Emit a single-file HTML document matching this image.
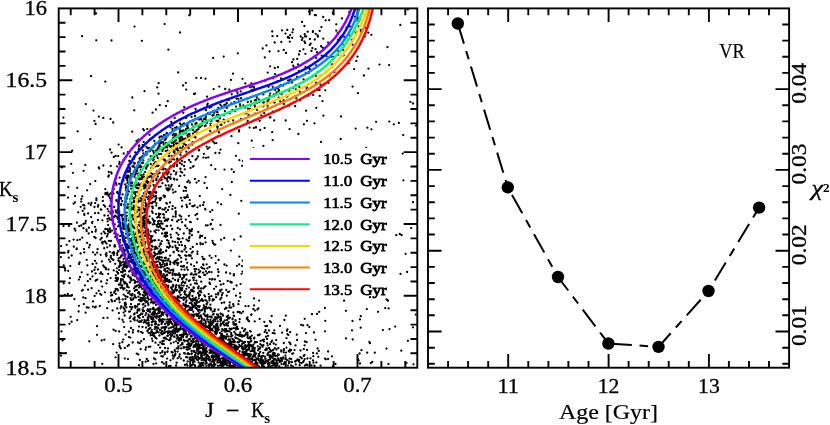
<!DOCTYPE html><html><head><meta charset="utf-8"><title>CMD</title><style>html,body{margin:0;padding:0;background:#fff}svg{display:block;will-change:transform;opacity:0.999}text{font-family:"Liberation Serif",serif;fill:#000}</style></head><body>
<svg width="830" height="425" viewBox="0 0 830 425">
<rect width="830" height="425" fill="#fff"/>
<defs><clipPath id="cl"><rect x="58.7" y="8.4" width="358.6" height="359.3"/></clipPath></defs>
<path d="M70.7,367.7v-6.8M70.7,8.4v6.8M94.6,367.7v-6.8M94.6,8.4v6.8M118.5,367.7v-13.6M118.5,8.4v13.6M142.4,367.7v-6.8M142.4,8.4v6.8M166.3,367.7v-6.8M166.3,8.4v6.8M190.2,367.7v-6.8M190.2,8.4v6.8M214.1,367.7v-6.8M214.1,8.4v6.8M238.0,367.7v-13.6M238.0,8.4v13.6M261.9,367.7v-6.8M261.9,8.4v6.8M285.8,367.7v-6.8M285.8,8.4v6.8M309.7,367.7v-6.8M309.7,8.4v6.8M333.6,367.7v-6.8M333.6,8.4v6.8M357.5,367.7v-13.6M357.5,8.4v13.6M381.4,367.7v-6.8M381.4,8.4v6.8M405.3,367.7v-6.8M405.3,8.4v6.8M58.7,22.8h6.8M417.3,22.8h-6.8M58.7,37.1h6.8M417.3,37.1h-6.8M58.7,51.5h6.8M417.3,51.5h-6.8M58.7,65.9h6.8M417.3,65.9h-6.8M58.7,80.3h13.6M417.3,80.3h-13.6M58.7,94.6h6.8M417.3,94.6h-6.8M58.7,109.0h6.8M417.3,109.0h-6.8M58.7,123.4h6.8M417.3,123.4h-6.8M58.7,137.7h6.8M417.3,137.7h-6.8M58.7,152.1h13.6M417.3,152.1h-13.6M58.7,166.5h6.8M417.3,166.5h-6.8M58.7,180.9h6.8M417.3,180.9h-6.8M58.7,195.2h6.8M417.3,195.2h-6.8M58.7,209.6h6.8M417.3,209.6h-6.8M58.7,224.0h13.6M417.3,224.0h-13.6M58.7,238.4h6.8M417.3,238.4h-6.8M58.7,252.7h6.8M417.3,252.7h-6.8M58.7,267.1h6.8M417.3,267.1h-6.8M58.7,281.5h6.8M417.3,281.5h-6.8M58.7,295.8h13.6M417.3,295.8h-13.6M58.7,310.2h6.8M417.3,310.2h-6.8M58.7,324.6h6.8M417.3,324.6h-6.8M58.7,339.0h6.8M417.3,339.0h-6.8M58.7,353.3h6.8M417.3,353.3h-6.8" stroke="#000" stroke-width="1.9" fill="none"/>
<path clip-path="url(#cl)" d="M166.8,233.5h0M209.7,279.1h0M352.1,39.9h0M198.8,302.1h0M155.2,262.4h0M272.7,250.1h0M170.6,234.7h0M162.5,308.1h0M235.6,320.8h0M202.9,341.7h0M221.6,347.1h0M148.1,237.0h0M140.5,209.5h0M165.5,338.5h0M221.8,106.5h0M257.1,109.9h0M222.1,339.1h0M151.6,314.4h0M216.7,345.0h0M200.8,323.8h0M152.8,321.8h0M100.6,254.8h0M321.8,75.3h0M133.4,219.1h0M280.2,361.6h0M128.7,228.6h0M200.6,290.8h0M343.5,44.8h0M91.4,203.0h0M106.5,253.1h0M155.1,327.0h0M220.4,346.2h0M298.7,360.9h0M206.7,146.7h0M184.4,324.8h0M182.6,344.1h0M145.1,285.1h0M207.9,340.7h0M160.2,140.1h0M136.0,289.9h0M194.6,269.1h0M95.2,203.1h0M176.3,298.9h0M229.9,342.2h0M251.3,341.0h0M200.4,352.7h0M124.8,358.6h0M148.9,196.5h0M226.1,307.6h0M114.4,246.6h0M176.5,300.4h0M134.8,163.5h0M129.0,220.5h0M217.3,359.3h0M123.4,264.8h0M229.0,355.9h0M164.8,196.0h0M211.1,342.1h0M154.5,192.2h0M145.8,206.7h0M205.5,332.1h0M142.8,226.0h0M172.6,352.5h0M202.5,338.3h0M215.9,294.4h0M119.2,318.7h0M108.9,240.9h0M223.7,119.7h0M193.9,314.5h0M186.9,336.8h0M123.8,276.2h0M281.1,78.5h0M151.0,294.2h0M260.2,129.9h0M131.0,176.8h0M300.5,350.5h0M146.0,320.8h0M147.5,319.7h0M205.1,275.0h0M218.0,345.3h0M225.9,358.5h0M175.4,288.7h0M185.6,328.1h0M186.4,204.8h0M305.0,36.4h0M181.9,161.0h0M143.2,311.4h0M295.2,96.1h0M182.0,344.2h0M182.7,322.6h0M260.6,361.8h0M127.4,231.9h0M111.5,211.4h0M161.3,293.7h0M188.9,215.8h0M167.9,280.1h0M191.6,343.6h0M125.5,266.8h0M76.7,249.2h0M169.7,307.8h0M192.1,330.5h0M206.4,330.0h0M254.9,348.1h0M154.8,311.6h0M204.4,295.5h0M183.8,133.5h0M189.7,303.1h0M234.3,331.8h0M151.9,246.3h0M174.4,356.5h0M237.9,360.7h0M224.6,346.2h0M117.0,278.1h0M222.7,293.2h0M122.8,223.9h0M132.2,131.7h0M176.6,232.9h0M154.5,164.2h0M203.3,346.8h0M153.5,319.3h0M222.3,344.3h0M247.8,349.5h0M126.5,267.3h0M154.1,309.2h0M270.0,349.6h0M207.4,344.0h0M169.1,206.8h0M164.0,134.9h0M174.9,299.9h0M320.6,365.7h0M108.8,172.0h0M190.1,331.2h0M175.0,127.8h0M254.9,106.8h0M274.2,120.4h0M151.5,255.3h0M160.6,249.3h0M136.8,212.3h0M210.6,341.7h0M195.2,93.6h0M233.9,344.6h0M141.5,199.0h0M172.7,355.5h0M283.6,100.2h0M218.0,269.4h0M195.0,330.3h0M203.8,353.2h0M193.1,362.4h0M131.1,221.4h0M196.5,338.6h0M207.3,105.0h0M186.2,89.6h0M124.9,282.2h0M155.4,279.0h0M177.0,165.9h0M214.1,345.5h0M146.5,271.4h0M123.6,180.4h0M314.5,366.6h0M121.0,215.0h0M177.0,338.3h0M211.3,344.2h0M233.3,350.2h0M139.4,158.6h0M289.8,349.7h0M261.7,358.6h0M160.3,277.6h0M274.2,365.6h0M131.2,204.2h0M279.3,110.0h0M206.5,344.1h0M191.6,231.0h0M196.3,336.5h0M211.4,296.2h0M176.0,247.6h0M150.0,311.9h0M204.3,358.6h0M154.4,156.9h0M173.2,291.1h0M135.8,182.7h0M250.5,351.3h0M108.6,301.8h0M183.7,285.6h0M247.9,341.8h0M172.2,220.0h0M108.0,229.7h0M153.2,274.7h0M178.9,308.9h0M173.8,171.0h0M241.9,335.1h0M156.3,266.0h0M155.1,143.7h0M90.2,184.1h0M137.0,185.1h0M125.2,184.4h0M135.2,152.3h0M176.8,249.8h0M124.6,270.2h0M249.8,341.9h0M143.1,217.1h0M183.4,303.6h0M184.5,291.5h0M199.8,364.3h0M111.6,173.6h0M223.3,362.3h0M307.5,365.3h0M195.6,355.3h0M145.6,290.6h0M185.3,138.6h0M190.1,327.0h0M122.9,214.8h0M60.9,257.1h0M207.0,333.7h0M61.9,167.4h0M109.8,219.6h0M291.1,350.1h0M203.6,359.4h0M218.2,293.0h0M243.4,352.9h0M145.8,215.0h0M218.7,358.4h0M160.0,311.6h0M221.9,295.0h0M173.6,311.9h0M247.7,120.9h0M152.0,338.7h0M164.3,285.1h0M205.1,332.2h0M232.7,358.6h0M216.1,297.2h0M178.5,297.4h0M138.3,188.5h0M150.4,199.3h0M251.4,362.3h0M157.6,173.8h0M149.8,151.2h0M137.2,168.4h0M143.7,193.3h0M150.7,335.3h0M245.5,306.1h0M126.8,215.8h0M148.4,233.4h0M182.3,148.3h0M220.7,324.3h0M246.3,113.3h0M156.5,270.5h0M172.6,275.0h0M251.9,363.1h0M159.8,316.0h0M198.6,125.1h0M159.9,252.7h0M176.9,302.6h0M114.4,233.4h0M137.3,184.8h0M263.4,94.4h0M200.5,324.8h0M130.2,169.5h0M164.4,209.7h0M214.0,319.3h0M162.4,209.3h0M227.2,360.8h0M151.9,262.4h0M161.1,333.0h0M105.7,267.8h0M199.1,329.1h0M215.3,348.2h0M185.5,330.3h0M174.5,290.6h0M205.4,209.6h0M125.8,187.9h0M147.1,166.0h0M148.2,237.8h0M148.1,229.7h0M193.5,329.8h0M144.8,321.9h0M263.4,145.9h0M192.9,277.8h0M197.1,349.0h0M133.8,159.2h0M102.0,242.4h0M220.6,313.6h0M279.8,361.9h0M259.8,360.4h0M269.5,355.3h0M285.5,359.2h0M157.8,271.4h0M121.3,204.0h0M139.2,200.7h0M210.0,343.3h0M140.0,278.8h0M105.3,194.1h0M97.0,326.2h0M132.4,174.6h0M245.0,342.0h0M123.2,261.6h0M198.0,359.9h0M217.0,345.2h0M167.5,311.8h0M169.1,306.0h0M281.2,350.4h0M95.6,280.8h0M246.6,353.4h0M86.6,231.2h0M215.2,332.5h0M250.2,364.9h0M197.2,133.1h0M234.8,366.3h0M294.1,79.8h0M217.3,323.8h0M169.1,304.2h0M228.9,365.8h0M209.3,328.6h0M176.5,147.2h0M270.9,322.2h0M186.2,333.8h0M231.5,136.2h0M95.8,306.7h0M259.9,348.7h0M162.0,331.2h0M180.2,119.7h0M176.1,341.3h0M134.1,237.5h0M167.3,220.7h0M118.4,213.3h0M159.5,321.6h0M269.7,363.3h0M232.0,361.8h0M199.5,337.8h0M122.5,319.8h0M219.3,337.9h0M274.1,354.3h0M236.3,346.0h0M147.6,294.1h0M222.3,339.9h0M246.2,289.6h0M143.2,297.6h0M173.5,314.8h0M232.9,362.8h0M139.2,321.9h0M165.4,275.9h0M214.1,288.8h0M180.6,310.8h0M271.5,361.8h0M269.8,117.4h0M175.7,304.4h0M228.3,340.0h0M198.2,335.1h0M232.9,358.9h0M252.2,359.7h0M223.7,341.4h0M139.2,304.1h0M114.2,216.8h0M209.1,271.9h0M151.9,262.6h0M210.9,308.7h0M135.0,281.1h0M251.2,314.9h0M227.7,280.9h0M172.2,334.2h0M157.5,291.1h0M124.9,262.4h0M176.5,329.1h0M164.2,137.4h0M144.1,273.8h0M124.2,327.1h0M142.6,230.8h0M170.7,309.5h0M163.0,321.9h0M134.6,320.4h0M186.6,300.5h0M212.0,324.3h0M110.2,232.2h0M132.4,272.6h0M252.0,365.6h0M192.5,142.2h0M174.3,313.9h0M191.6,116.8h0M227.5,357.3h0M97.6,249.2h0M212.5,355.3h0M146.4,293.3h0M186.6,347.1h0M87.1,242.9h0M232.5,319.3h0M120.9,348.4h0M227.2,348.8h0M164.8,220.9h0M127.3,266.1h0M108.5,269.5h0M146.5,236.4h0M233.8,123.4h0M151.8,301.2h0M189.7,359.2h0M185.8,219.6h0M115.3,181.1h0M118.0,272.8h0M210.1,326.4h0M229.9,350.1h0M297.1,339.9h0M168.2,286.9h0M140.0,252.0h0M167.3,309.8h0M154.7,311.3h0M118.2,193.4h0M130.6,321.3h0M215.1,350.8h0M139.6,185.2h0M169.6,188.9h0M114.2,207.0h0M161.1,253.3h0M300.2,100.3h0M92.4,221.9h0M154.2,196.5h0M201.1,316.5h0M251.8,86.7h0M216.2,317.3h0M135.8,210.9h0M177.7,259.5h0M145.5,209.4h0M201.6,353.6h0M152.3,294.7h0M178.3,308.9h0M75.0,202.4h0M273.3,352.8h0M186.3,151.7h0M254.8,342.7h0M220.4,344.2h0M273.7,360.3h0M130.5,229.7h0M133.4,165.6h0M183.8,266.5h0M236.5,91.0h0M160.2,342.4h0M206.4,354.4h0M216.0,358.9h0M239.2,339.6h0M162.4,341.8h0M128.2,276.4h0M166.2,308.7h0M289.3,105.5h0M199.4,366.3h0M241.0,355.2h0M137.1,306.6h0M277.4,365.3h0M101.2,281.5h0M164.2,144.6h0M144.9,176.8h0M148.9,221.4h0M143.5,262.3h0M169.9,318.9h0M139.6,256.7h0M267.8,353.6h0M203.6,313.8h0M344.6,39.6h0M149.7,244.4h0M119.3,193.8h0M192.4,357.0h0M224.2,237.9h0M155.3,253.9h0M129.7,258.0h0M177.7,358.3h0M134.8,174.6h0M147.1,178.5h0M182.0,326.1h0M289.6,129.2h0M208.7,339.1h0M155.8,150.6h0M146.4,256.7h0M220.8,347.4h0M174.8,273.9h0M220.0,354.5h0M212.9,314.7h0M131.9,261.5h0M146.8,359.0h0M189.6,294.1h0M221.9,363.5h0M216.1,356.9h0M143.8,292.3h0M303.9,124.3h0M225.7,362.4h0M143.6,233.1h0M283.9,363.3h0M133.5,256.8h0M167.4,322.8h0M203.8,305.3h0M142.2,263.2h0M174.5,263.9h0M161.1,141.8h0M92.0,231.9h0M151.6,249.4h0M150.4,203.2h0M168.0,173.4h0M140.1,315.1h0M83.4,228.2h0M113.8,255.1h0M187.1,344.6h0M181.9,325.0h0M138.9,146.4h0M144.5,177.2h0M148.5,320.4h0M189.1,140.1h0M206.5,344.3h0M352.6,86.6h0M158.3,332.1h0M228.1,292.1h0M169.2,145.4h0M119.9,261.4h0M161.8,314.5h0M173.5,319.7h0M116.7,271.6h0M206.1,114.8h0M152.1,301.5h0M230.4,195.0h0M171.6,155.8h0M228.9,339.4h0M241.3,335.2h0M227.2,352.6h0M189.0,280.9h0M225.8,344.4h0M208.7,359.7h0M101.7,340.4h0M228.5,336.4h0M168.3,219.1h0M207.1,341.7h0M175.9,325.7h0M127.6,207.5h0M222.1,347.2h0M164.0,214.7h0M171.7,331.7h0M153.9,297.9h0M95.0,260.8h0M140.5,286.5h0M172.2,335.6h0M223.8,352.7h0M155.3,337.5h0M125.9,201.7h0M170.2,177.5h0M151.9,241.8h0M214.6,143.3h0M142.0,279.9h0M148.0,219.6h0M176.5,321.9h0M198.9,150.0h0M157.2,217.6h0M172.5,319.5h0M209.3,334.4h0M158.3,309.4h0M144.0,188.4h0M96.5,293.3h0M277.8,358.3h0M161.9,179.6h0M140.7,272.4h0M290.8,70.0h0M96.4,198.5h0M129.1,311.7h0M313.3,356.2h0M176.7,324.4h0M141.9,203.9h0M158.7,186.8h0M194.1,266.1h0M170.4,133.1h0M129.0,234.7h0M186.6,196.8h0M134.2,314.4h0M127.3,285.3h0M212.5,334.3h0M138.0,253.0h0M256.0,127.5h0M169.6,281.4h0M145.4,248.9h0M165.8,295.5h0M224.5,355.0h0M193.5,298.3h0M161.5,276.3h0M264.9,363.3h0M148.7,251.6h0M138.7,194.4h0M185.4,319.4h0M229.1,343.1h0M182.1,200.6h0M228.8,362.7h0M207.8,319.7h0M127.5,178.2h0M233.2,357.1h0M160.4,179.9h0M127.2,169.4h0M143.4,153.4h0M156.8,276.3h0M249.6,127.6h0M283.9,349.2h0M176.7,127.1h0M194.0,338.8h0M233.6,306.2h0M221.1,335.1h0M163.8,363.7h0M134.2,200.9h0M138.9,299.8h0M141.6,252.8h0M175.8,311.1h0M180.3,297.6h0M165.6,303.5h0M121.5,287.5h0M209.3,331.1h0M259.6,318.9h0M184.6,292.5h0M179.0,306.7h0M146.7,197.2h0M179.9,139.4h0M169.5,339.8h0M244.2,354.7h0M267.8,363.8h0M179.2,244.8h0M94.3,236.9h0M125.7,262.6h0M168.8,268.7h0M149.5,288.8h0M160.7,280.3h0M239.3,353.5h0M143.6,223.6h0M108.3,176.7h0M220.7,361.6h0M213.1,366.6h0M160.8,266.2h0M194.2,351.9h0M253.1,90.5h0M138.1,293.0h0M250.5,338.8h0M157.4,254.1h0M139.0,292.9h0M212.9,352.6h0M207.3,339.0h0M156.4,198.0h0M265.3,358.7h0M198.2,132.8h0M123.6,224.8h0M159.9,253.7h0M160.3,214.1h0M149.5,257.4h0M224.2,350.6h0M213.4,110.8h0M247.5,332.7h0M189.4,348.4h0M209.0,356.9h0M117.9,277.9h0M156.2,278.6h0M321.4,27.1h0M259.7,120.8h0M186.9,334.4h0M185.9,145.0h0M173.1,216.6h0M179.3,287.7h0M152.6,112.7h0M229.3,89.7h0M210.4,307.9h0M135.4,216.7h0M208.5,358.5h0M323.4,84.7h0M122.2,245.4h0M171.6,352.0h0M131.3,174.2h0M146.6,274.2h0M245.3,83.4h0M160.3,244.2h0M278.6,87.3h0M173.9,165.0h0M253.4,344.7h0M150.1,176.5h0M133.8,198.5h0M119.1,270.1h0M152.5,274.4h0M159.0,154.1h0M285.8,358.1h0M197.3,335.7h0M231.9,347.3h0M138.0,162.6h0M143.4,252.9h0M178.7,340.3h0M211.7,347.2h0M164.7,329.9h0M295.1,106.2h0M159.4,137.5h0M96.4,200.2h0M254.5,364.1h0M125.3,310.9h0M194.7,205.3h0M218.3,107.8h0M214.2,244.5h0M173.2,300.4h0M122.6,272.4h0M161.5,324.0h0M317.9,36.7h0M130.6,316.5h0M158.2,221.4h0M230.3,365.8h0M149.1,324.9h0M160.8,276.1h0M127.4,258.8h0M197.2,326.0h0M163.2,166.7h0M198.8,119.3h0M183.4,335.2h0M179.6,141.3h0M156.0,324.0h0M176.1,325.9h0M125.5,296.2h0M138.6,183.3h0M140.9,201.0h0M143.5,304.0h0M221.7,346.2h0M196.2,338.6h0M138.2,232.9h0M288.2,80.4h0M301.5,363.1h0M123.4,219.2h0M139.6,317.9h0M201.1,332.1h0M197.6,129.6h0M156.4,309.6h0M258.6,349.0h0M195.4,124.0h0M175.4,245.7h0M277.7,81.2h0M185.2,334.0h0M179.6,292.5h0M182.9,321.2h0M140.1,260.4h0M258.0,350.3h0M175.7,211.4h0M148.7,324.9h0M173.3,317.2h0M162.0,260.4h0M131.3,261.8h0M238.4,360.5h0M162.5,276.6h0M220.2,346.2h0M220.5,149.6h0M197.3,326.1h0M134.7,296.0h0M201.3,267.3h0M172.4,131.2h0M117.2,253.1h0M230.1,354.5h0M171.8,143.1h0M246.5,350.2h0M117.6,218.2h0M158.8,213.6h0M204.2,350.1h0M235.6,328.4h0M144.3,217.9h0M166.3,327.3h0M169.5,282.1h0M132.1,182.5h0M126.4,186.5h0M144.7,184.4h0M313.2,94.9h0M68.5,250.8h0M139.2,184.9h0M152.7,212.9h0M218.8,329.6h0M177.9,310.2h0M175.4,299.8h0M123.8,224.2h0M263.4,345.2h0M152.3,259.0h0M174.4,296.8h0M180.9,313.3h0M132.8,240.5h0M251.1,362.3h0M186.7,274.6h0M101.3,294.8h0M148.7,332.8h0M191.5,350.9h0M156.3,162.5h0M170.3,178.5h0M246.2,93.2h0M129.5,271.2h0M293.1,88.2h0M153.2,201.8h0M108.8,231.7h0M146.4,146.8h0M147.8,317.7h0M209.3,344.8h0M134.5,275.9h0M131.0,163.0h0M290.1,332.2h0M194.9,179.0h0M172.9,330.4h0M201.7,348.0h0M78.6,311.5h0M74.4,299.1h0M205.5,323.2h0M138.8,175.2h0M163.8,340.9h0M211.7,357.2h0M104.2,248.3h0M295.1,361.5h0M156.0,304.9h0M167.4,305.7h0M220.0,350.0h0M200.4,366.5h0M173.6,325.8h0M191.6,309.9h0M239.4,322.1h0M153.6,256.2h0M64.9,268.6h0M184.9,308.8h0M232.5,109.8h0M211.6,343.7h0M129.7,167.7h0M209.6,323.5h0M218.6,115.0h0M196.7,340.8h0M135.9,221.0h0M181.9,290.2h0M149.5,268.1h0M238.7,347.3h0M240.5,284.1h0M253.2,351.2h0M339.2,40.0h0M185.7,294.7h0M141.8,176.3h0M210.2,347.0h0M134.8,262.8h0M279.4,366.4h0M146.6,261.4h0M158.9,142.5h0M184.8,169.3h0M176.1,365.5h0M152.7,313.0h0M169.0,189.4h0M213.5,321.2h0M150.4,262.2h0M266.9,332.9h0M278.5,358.8h0M184.8,139.2h0M178.2,342.9h0M220.5,313.7h0M166.4,145.9h0M248.6,338.2h0M257.4,362.9h0M201.1,139.3h0M252.6,357.7h0M129.7,218.1h0M137.2,249.2h0M153.9,266.7h0M219.8,341.9h0M204.8,351.3h0M299.0,54.5h0M149.5,216.3h0M133.0,299.4h0M188.1,330.4h0M176.1,330.0h0M207.6,345.6h0M133.4,260.1h0M177.2,158.6h0M184.3,314.4h0M236.4,346.2h0M192.7,120.5h0M153.4,303.4h0M180.7,294.8h0M170.3,338.0h0M203.6,341.6h0M160.8,277.9h0M138.8,291.8h0M236.9,348.0h0M264.9,356.6h0M233.6,324.4h0M187.4,318.2h0M121.6,262.6h0M180.3,175.9h0M145.4,263.9h0M97.0,334.8h0M185.2,327.6h0M168.7,185.5h0M231.8,182.0h0M136.1,271.4h0M149.1,176.9h0M174.3,321.4h0M135.3,174.7h0M168.0,325.1h0M163.2,252.2h0M162.0,293.4h0M235.4,350.3h0M205.1,208.8h0M167.3,323.1h0M182.0,320.0h0M143.7,141.9h0M180.9,325.8h0M142.4,298.2h0M140.1,252.5h0M200.5,334.0h0M201.2,281.7h0M148.9,147.8h0M137.2,228.1h0M161.1,198.4h0M183.8,360.7h0M95.6,273.4h0M200.3,235.7h0M365.9,28.1h0M168.5,298.1h0M181.4,138.2h0M220.0,365.5h0M274.1,362.4h0M149.4,284.7h0M216.3,143.1h0M234.5,364.1h0M167.9,177.8h0M110.9,292.7h0M147.8,330.6h0M213.7,326.1h0M177.6,274.8h0M164.4,290.5h0M130.0,277.9h0M140.0,178.3h0M114.2,217.2h0M306.6,61.6h0M182.3,342.8h0M127.6,346.1h0M246.3,362.0h0M202.5,121.4h0M176.3,172.4h0M195.3,323.2h0M194.7,132.1h0M150.3,328.0h0M215.1,359.7h0M187.4,349.7h0M202.5,348.3h0M208.1,112.9h0M240.7,236.5h0M130.5,175.8h0M204.1,327.7h0M214.2,112.8h0M185.2,198.1h0M178.8,300.6h0M62.6,340.5h0M230.0,363.3h0M273.8,358.6h0M124.5,288.3h0M177.1,160.1h0M175.4,353.9h0M276.6,93.7h0M97.9,206.7h0M201.6,320.9h0M187.1,322.5h0M202.6,339.5h0M258.8,360.5h0M133.6,298.2h0M272.1,365.8h0M210.4,304.7h0M190.2,310.1h0M173.0,286.5h0M142.6,332.9h0M132.3,260.4h0M198.3,232.0h0M113.4,193.5h0M138.1,304.5h0M196.4,274.5h0M182.3,278.2h0M190.2,344.7h0M161.6,288.1h0M174.6,331.8h0M158.9,313.1h0M213.5,357.5h0M189.9,182.7h0M257.1,358.4h0M367.2,352.7h0M153.6,273.9h0M222.8,360.3h0M166.1,251.0h0M244.6,335.5h0M205.9,357.3h0M149.4,223.3h0M210.2,131.0h0M209.6,350.2h0M87.8,281.2h0M241.8,355.1h0M182.2,172.6h0M239.3,356.5h0M211.5,339.1h0M230.6,343.0h0M103.4,317.9h0M138.2,242.9h0M250.2,358.6h0M193.7,314.8h0M142.2,288.8h0M168.7,156.1h0M226.4,331.1h0M247.9,345.8h0M180.8,133.8h0M239.4,365.8h0M147.4,252.4h0M191.8,357.3h0M208.7,294.1h0M200.2,271.5h0M203.2,323.3h0M177.4,324.0h0M226.6,353.0h0M265.3,350.0h0M193.7,359.5h0M154.4,291.4h0M184.9,364.9h0M121.0,280.7h0M294.5,350.1h0M172.8,306.9h0M223.9,330.1h0M303.3,81.9h0M198.2,315.8h0M182.1,222.2h0M146.5,293.7h0M180.4,136.9h0M213.0,360.6h0M179.9,287.6h0M167.9,135.4h0M238.0,353.7h0M135.8,195.9h0M133.9,171.5h0M120.5,282.9h0M217.3,328.6h0M152.7,157.3h0M143.6,251.2h0M273.5,363.9h0M185.3,282.5h0M167.4,190.1h0M199.3,336.9h0M174.0,309.5h0M146.0,267.6h0M127.7,191.5h0M142.3,265.2h0M211.9,345.1h0M220.8,364.0h0M201.8,343.8h0M177.8,228.0h0M209.7,283.4h0M216.6,346.8h0M209.5,267.0h0M85.5,298.2h0M273.7,102.2h0M249.4,364.2h0M139.8,321.3h0M75.4,230.5h0M128.0,359.1h0M272.2,357.7h0M85.6,312.7h0M111.6,219.9h0M175.9,312.7h0M144.4,216.0h0M196.7,158.6h0M184.6,311.3h0M131.9,248.3h0M234.9,346.9h0M292.2,353.8h0M201.5,364.2h0M157.9,267.5h0M273.8,359.6h0M176.3,328.6h0M181.4,285.4h0M166.8,288.7h0M130.4,203.0h0M163.0,319.5h0M221.6,289.6h0M218.5,317.6h0M175.0,355.1h0M243.1,354.6h0M79.2,226.1h0M185.5,323.9h0M118.2,156.1h0M163.5,299.3h0M219.0,132.5h0M210.0,364.6h0M199.1,330.4h0M179.3,310.7h0M137.1,285.7h0M207.3,319.2h0M135.0,213.0h0M165.0,265.8h0M160.1,281.3h0M143.1,281.6h0M189.9,231.4h0M166.4,188.5h0M233.5,353.6h0M129.9,311.4h0M147.9,219.4h0M184.3,175.3h0M152.6,166.4h0M120.1,284.8h0M160.9,299.8h0M154.1,336.2h0M262.9,361.1h0M125.5,205.9h0M222.8,337.6h0M129.7,203.9h0M256.7,102.0h0M180.3,274.9h0M134.9,222.2h0M147.9,165.2h0M234.0,350.7h0M139.4,310.4h0M292.1,82.6h0M281.5,361.4h0M132.4,243.1h0M193.0,315.0h0M172.7,330.7h0M175.6,311.8h0M256.7,363.0h0M207.7,148.8h0M198.2,310.9h0M158.6,230.3h0M150.5,159.4h0M130.0,216.6h0M169.7,246.8h0M265.3,362.4h0M162.8,299.5h0M142.5,309.6h0M167.0,265.0h0M196.7,303.1h0M165.8,145.4h0M182.2,251.6h0M187.3,311.0h0M229.5,360.7h0M269.6,357.1h0M360.0,363.5h0M165.6,172.4h0M152.0,211.4h0M94.4,269.9h0M157.8,257.8h0M229.0,357.0h0M226.8,103.0h0M207.2,273.3h0M235.4,337.3h0M187.0,285.8h0M150.3,286.5h0M243.8,348.3h0M168.2,281.6h0M148.0,220.1h0M368.3,32.7h0M116.4,184.9h0M228.9,347.7h0M176.6,146.4h0M155.9,285.5h0M196.6,350.7h0M189.0,133.9h0M189.4,294.9h0M198.2,354.3h0M328.1,358.9h0M208.9,307.6h0M97.9,220.0h0M154.7,310.5h0M234.6,364.5h0M169.5,331.8h0M149.5,134.8h0M106.7,243.6h0M181.9,137.2h0M152.5,218.6h0M95.9,229.7h0M126.0,304.1h0M147.7,280.1h0M190.9,290.1h0M275.1,74.1h0M133.5,162.6h0M174.3,328.4h0M139.3,309.1h0M124.3,252.5h0M220.4,321.6h0M151.4,237.6h0M195.4,274.2h0M276.6,92.3h0M65.2,270.5h0M219.5,352.4h0M317.0,313.9h0M191.1,318.0h0M123.3,252.6h0M158.8,324.9h0M186.5,279.5h0M145.8,187.6h0M188.2,295.5h0M206.7,315.8h0M277.6,363.4h0M202.1,355.8h0M149.0,259.4h0M181.8,283.1h0M352.6,44.7h0M128.3,256.1h0M152.8,137.7h0M164.8,268.8h0M135.2,270.9h0M276.7,362.2h0M322.9,47.8h0M76.9,222.7h0M160.4,353.1h0M264.0,339.6h0M177.4,323.9h0M156.0,195.8h0M132.0,244.5h0M129.6,291.2h0M160.7,278.6h0M205.7,125.4h0M168.5,299.6h0M156.8,313.9h0M162.2,264.6h0M102.2,286.6h0M135.5,281.7h0M145.7,289.6h0M230.4,341.0h0M173.3,326.5h0M154.4,224.2h0M264.3,321.8h0M138.6,317.2h0M234.0,361.2h0M212.1,365.4h0M225.5,351.0h0M165.7,185.4h0M186.1,357.2h0M150.6,249.7h0M133.3,250.8h0M139.9,179.4h0M177.1,302.0h0M301.9,40.0h0M316.4,362.4h0M238.6,365.5h0M72.9,172.8h0M208.1,346.3h0M230.0,113.3h0M147.3,220.4h0M143.6,249.5h0M177.4,321.3h0M131.6,209.5h0M247.6,335.8h0M146.0,283.3h0M204.4,354.1h0M180.0,335.2h0M217.4,362.4h0M191.8,252.7h0M263.0,362.5h0M243.1,366.5h0M237.4,359.6h0M179.0,137.9h0M247.5,334.6h0M150.4,256.0h0M137.8,309.4h0M200.5,324.9h0M159.5,317.4h0M200.6,244.3h0M114.2,253.3h0M126.7,290.6h0M114.8,301.0h0M267.7,72.6h0M239.7,312.5h0M118.5,221.9h0M320.6,84.7h0M108.2,273.8h0M147.3,330.9h0M236.6,285.5h0M217.7,129.3h0M166.9,203.7h0M205.3,300.1h0M153.5,294.2h0M152.8,208.2h0M303.8,355.9h0M277.4,355.8h0M275.2,90.0h0M138.0,242.6h0M204.4,326.6h0M233.9,362.6h0M176.1,301.6h0M138.8,315.8h0M278.9,89.9h0M139.9,242.1h0M122.9,268.1h0M135.9,234.1h0M199.8,119.5h0M192.5,299.2h0M207.6,355.1h0M154.5,189.4h0M147.2,222.6h0M228.6,360.8h0M142.8,205.3h0M159.6,224.1h0M93.0,252.3h0M156.4,179.7h0M225.5,331.2h0M191.7,324.2h0M134.5,319.3h0M183.5,317.3h0M212.2,334.8h0M183.0,322.9h0M184.3,320.1h0M187.5,306.5h0M118.4,211.3h0M129.3,266.1h0M160.4,250.8h0M144.6,250.6h0M117.2,166.4h0M154.5,231.2h0M185.7,326.4h0M206.7,264.3h0M212.9,242.8h0M128.7,287.3h0M182.9,324.0h0M258.7,356.0h0M190.7,299.3h0M148.1,303.5h0M161.8,307.4h0M168.5,247.5h0M190.0,136.3h0M128.6,226.7h0M222.2,353.3h0M195.2,346.7h0M197.5,251.6h0M168.9,300.5h0M240.0,346.2h0M169.1,156.1h0M195.6,159.7h0M220.5,291.6h0M162.1,233.5h0M256.8,102.8h0M161.5,313.1h0M182.1,143.0h0M334.4,72.1h0M152.2,274.1h0M145.5,223.5h0M306.9,87.4h0M178.0,324.6h0M177.6,148.8h0M221.1,365.3h0M110.9,295.6h0M169.9,273.0h0M206.4,343.6h0M179.0,273.3h0M220.8,284.7h0M115.7,155.9h0M218.0,355.7h0M105.1,233.4h0M233.3,339.5h0M218.1,275.8h0M147.3,283.7h0M190.0,221.9h0M192.9,133.6h0M183.7,277.6h0M107.2,229.2h0M198.3,314.2h0M333.6,56.8h0M139.1,265.5h0M83.6,170.8h0M122.6,194.4h0M209.3,341.5h0M125.7,334.7h0M190.1,357.5h0M142.1,267.2h0M171.1,292.4h0M189.5,237.0h0M196.1,269.1h0M119.3,211.9h0M134.0,288.3h0M221.8,365.1h0M182.3,325.1h0M164.7,257.9h0M166.9,287.8h0M141.0,279.7h0M288.3,334.9h0M187.2,262.8h0M155.6,162.7h0M261.5,356.2h0M186.7,364.1h0M125.5,265.4h0M170.7,331.9h0M158.7,146.4h0M216.9,318.7h0M153.5,364.0h0M289.3,90.7h0M138.8,246.4h0M136.0,262.9h0M153.5,278.3h0M169.6,310.1h0M134.8,282.9h0M253.4,366.4h0M202.2,318.7h0M170.9,293.9h0M243.3,348.8h0M115.9,275.5h0M230.8,329.4h0M162.1,343.9h0M226.3,331.0h0M111.2,172.5h0M223.5,115.2h0M156.6,338.6h0M151.6,176.5h0M197.2,309.2h0M265.0,363.2h0M199.0,333.5h0M203.3,121.8h0M303.9,355.9h0M165.5,260.7h0M261.0,363.3h0M115.7,289.0h0M202.4,300.0h0M172.0,289.4h0M316.1,65.3h0M181.9,245.2h0M133.1,268.7h0M170.5,141.7h0M148.3,298.6h0M276.2,340.1h0M156.3,258.6h0M159.1,288.8h0M198.6,366.3h0M211.2,316.6h0M191.0,336.4h0M175.8,305.4h0M172.8,331.6h0M145.1,251.5h0M154.7,329.1h0M243.8,361.8h0M146.0,151.9h0M192.5,324.1h0M134.9,244.5h0M205.4,344.4h0M208.3,157.4h0M222.1,334.0h0M205.3,352.3h0M199.3,344.6h0M144.3,296.4h0M193.4,341.4h0M243.9,343.1h0M187.6,135.6h0M180.1,320.8h0M388.5,363.9h0M135.1,273.0h0M182.0,310.8h0M247.8,102.0h0M132.7,260.4h0M222.9,315.7h0M149.4,254.0h0M119.1,240.8h0M155.6,265.6h0M198.9,332.4h0M204.2,350.0h0M134.1,247.7h0M287.2,360.1h0M260.6,340.9h0M194.5,299.2h0M221.5,365.5h0M237.7,312.0h0M211.2,165.2h0M110.9,200.0h0M157.3,265.2h0M234.0,341.3h0M201.3,320.9h0M145.9,191.0h0M170.5,360.3h0M156.3,192.2h0M104.2,248.1h0M227.2,325.5h0M158.4,295.7h0M153.4,308.0h0M116.7,216.6h0M192.5,326.8h0M141.7,235.1h0M146.8,204.7h0M213.9,299.7h0M183.3,112.8h0M203.8,325.1h0M229.4,349.1h0M240.0,357.6h0M250.0,354.3h0M170.0,304.3h0M120.1,264.0h0M165.1,332.2h0M237.9,329.0h0M201.6,326.4h0M149.1,271.9h0M264.8,80.8h0M161.1,244.1h0M200.1,205.7h0M152.7,246.7h0M268.6,86.8h0M144.2,264.1h0M178.3,337.8h0M215.0,364.6h0M171.0,296.7h0M145.2,227.9h0M140.1,174.9h0M193.6,166.1h0M172.6,241.5h0M221.1,320.2h0M198.0,339.2h0M174.8,322.8h0M228.6,350.9h0M207.1,356.2h0M133.6,279.9h0M180.5,155.0h0M220.5,224.9h0M213.2,348.7h0M178.2,72.4h0M185.3,291.4h0M209.6,346.4h0M156.8,330.4h0M217.5,348.0h0M152.6,206.7h0M104.3,339.7h0M159.6,291.6h0M246.8,123.3h0M155.9,193.1h0M180.4,318.9h0M156.0,247.2h0M154.9,174.2h0M318.1,90.0h0M152.4,264.4h0M205.7,323.2h0M133.3,232.2h0M127.6,228.7h0M156.8,301.9h0M217.7,126.8h0M206.4,326.9h0M150.4,288.6h0M165.9,235.1h0M145.4,202.7h0M204.3,274.9h0M349.7,35.4h0M269.5,364.0h0M248.2,356.6h0M278.7,90.9h0M165.0,139.9h0M278.5,360.2h0M212.6,352.4h0M163.4,277.1h0M135.4,227.1h0M196.3,300.8h0M205.6,177.1h0M186.6,349.3h0M140.4,157.7h0M84.4,208.5h0M220.7,324.8h0M231.2,351.9h0M251.9,335.6h0M118.0,226.3h0M251.0,358.4h0M192.9,166.7h0M154.1,252.7h0M207.1,308.3h0M135.0,168.1h0M141.3,166.7h0M274.8,348.1h0M335.5,364.0h0M179.4,291.7h0M158.3,294.9h0M130.7,222.3h0M196.2,331.0h0M175.2,351.6h0M239.2,130.1h0M233.8,275.4h0M234.2,362.0h0M177.7,351.6h0M176.1,260.6h0M244.1,360.9h0M140.8,170.0h0M161.5,321.6h0M288.8,82.7h0M206.0,110.2h0M307.2,364.8h0M253.3,348.4h0M138.3,173.6h0M156.5,327.7h0M268.6,364.8h0M165.3,287.1h0M200.8,321.7h0M233.8,349.9h0M168.1,322.9h0M185.6,130.4h0M143.6,174.4h0M195.1,366.0h0M162.6,340.9h0M174.7,350.2h0M216.4,324.7h0M125.1,271.0h0M160.6,319.9h0M186.7,320.3h0M214.3,355.8h0M101.8,237.8h0M267.7,108.4h0M158.1,151.1h0M117.8,209.6h0M299.7,365.2h0M196.6,301.9h0M168.3,177.0h0M174.4,316.9h0M223.4,321.9h0M199.7,346.1h0M148.2,288.6h0M152.0,206.6h0M211.0,348.4h0M161.0,319.6h0M155.6,282.3h0M80.6,253.5h0M245.3,362.6h0M161.0,273.2h0M213.8,337.8h0M109.9,245.5h0M193.8,291.5h0M176.8,316.3h0M151.2,282.0h0M131.8,295.5h0M162.0,362.2h0M229.4,331.4h0M283.2,357.5h0M156.5,178.7h0M170.8,186.7h0M186.5,239.6h0M206.9,340.0h0M246.7,364.3h0M107.4,192.7h0M186.3,288.8h0M220.9,318.0h0M169.4,291.8h0M139.4,161.3h0M173.4,146.0h0M236.0,351.4h0M63.7,283.4h0M153.0,263.4h0M119.6,193.7h0M229.4,356.8h0M214.3,356.9h0M150.5,333.5h0M153.9,333.5h0M198.5,288.4h0M133.9,202.0h0M136.6,255.7h0M189.9,203.7h0M119.5,224.8h0M184.5,334.4h0M130.3,261.5h0M171.1,237.4h0M169.0,153.4h0M157.7,275.0h0M270.2,366.3h0M319.8,95.9h0M190.0,318.6h0M249.0,342.9h0M179.7,132.7h0M198.6,269.6h0M131.9,202.6h0M226.3,364.0h0M131.4,309.2h0M167.6,219.3h0M189.7,292.3h0M174.6,141.6h0M192.6,317.3h0M129.4,234.8h0M163.7,332.4h0M274.0,354.7h0M233.7,315.6h0M127.5,296.9h0M83.9,249.1h0M247.0,269.3h0M195.0,116.0h0M114.7,245.1h0M332.1,64.4h0M201.0,363.2h0M115.8,293.8h0M190.8,343.8h0M133.3,234.1h0M224.8,357.3h0M304.9,365.6h0M201.9,319.0h0M244.4,336.1h0M295.8,364.4h0M147.2,255.1h0M160.1,347.6h0M123.0,271.1h0M110.7,165.9h0M220.1,333.0h0M126.8,175.6h0M112.8,212.5h0M164.9,135.3h0M162.2,287.0h0M132.6,215.4h0M173.3,142.4h0M122.8,279.3h0M332.9,366.2h0M201.7,360.2h0M223.5,358.6h0M280.2,101.4h0M256.3,353.6h0M231.6,360.5h0M292.0,362.1h0M213.3,141.7h0M141.0,174.8h0M225.0,348.2h0M146.3,252.2h0M308.1,84.4h0M130.9,328.0h0M159.0,149.2h0M102.3,363.8h0M124.4,283.5h0M94.4,120.9h0M218.4,316.4h0M167.7,181.4h0M195.0,332.9h0M165.5,236.8h0M213.4,353.2h0M169.2,280.3h0M157.8,300.3h0M146.2,268.5h0M189.1,145.0h0M225.1,361.5h0M123.6,265.6h0M178.9,311.3h0M167.4,351.9h0M207.1,113.8h0M126.1,234.0h0M184.1,165.9h0M117.7,234.7h0M176.5,326.9h0M156.4,272.4h0M131.3,240.8h0M146.6,323.4h0M303.8,349.1h0M155.3,359.4h0M179.8,255.8h0M163.1,149.0h0M154.9,313.2h0M148.3,199.2h0M261.4,115.4h0M207.1,351.7h0M148.4,305.0h0M131.1,182.6h0M225.1,364.3h0M224.2,336.1h0M151.0,193.8h0M224.3,336.6h0M165.6,279.3h0M234.8,348.2h0M135.2,194.0h0M229.5,349.8h0M178.2,135.7h0M312.8,76.4h0M245.7,366.1h0M163.6,274.7h0M224.6,363.1h0M212.9,343.8h0M219.9,360.0h0M170.5,127.3h0M133.7,252.5h0M145.2,295.1h0M135.0,247.0h0M138.9,207.6h0M251.8,89.9h0M83.5,223.9h0M241.9,363.9h0M110.3,230.7h0M123.8,250.4h0M170.5,321.6h0M148.4,192.3h0M110.2,261.7h0M249.8,361.1h0M176.2,143.5h0M205.8,358.3h0M135.9,297.6h0M230.8,361.1h0M174.0,262.8h0M126.4,176.6h0M286.4,96.6h0M106.0,269.3h0M203.3,359.5h0M233.7,366.4h0M130.0,218.1h0M163.7,292.3h0M251.5,314.3h0M152.4,266.0h0M206.3,349.1h0M151.6,298.9h0M139.0,326.6h0M155.8,322.0h0M130.1,256.7h0M276.9,87.9h0M268.2,366.5h0M198.6,362.4h0M83.2,204.9h0M144.7,235.7h0M267.2,343.2h0M232.6,318.5h0M85.8,221.0h0M207.8,335.4h0M157.1,301.7h0M137.1,247.3h0M162.6,297.7h0M134.9,257.4h0M122.5,250.4h0M149.9,289.5h0M175.7,285.8h0M153.5,311.8h0M199.9,336.6h0M145.5,231.1h0M124.3,263.8h0M196.8,244.0h0M134.1,250.4h0M215.9,328.2h0M153.7,164.1h0M127.9,194.5h0M226.6,308.2h0M193.5,347.2h0M159.6,173.0h0M186.8,296.8h0M286.5,338.2h0M210.8,333.0h0M248.2,366.3h0M119.6,177.6h0M287.4,334.1h0M234.7,358.8h0M126.8,198.7h0M177.3,319.2h0M232.3,359.1h0M138.9,230.3h0M194.6,335.7h0M154.0,358.4h0M177.7,300.2h0M154.6,296.8h0M183.7,332.3h0M144.1,209.1h0M138.3,202.1h0M255.0,354.6h0M224.4,122.5h0M187.5,320.9h0M147.1,257.7h0M238.4,98.8h0M78.9,279.6h0M209.6,329.1h0M154.8,220.8h0M242.3,352.1h0M154.2,302.8h0M232.0,358.9h0M203.2,365.4h0M136.5,252.1h0M178.0,144.1h0M241.5,345.9h0M266.3,360.6h0M207.8,344.1h0M229.5,305.5h0M159.6,290.2h0M204.4,319.4h0M74.6,228.7h0M195.1,302.9h0M115.6,330.9h0M259.3,102.2h0M157.4,299.3h0M140.4,266.1h0M188.8,348.8h0M207.3,341.4h0M244.6,352.9h0M193.0,342.0h0M124.5,250.0h0M156.9,287.7h0M122.0,216.1h0M309.0,68.2h0M259.1,335.1h0M206.9,340.4h0M178.4,234.7h0M158.5,311.0h0M205.7,353.3h0M161.3,227.9h0M291.1,365.5h0M100.5,239.5h0M217.9,365.8h0M206.7,304.4h0M220.9,348.9h0M273.0,111.7h0M146.1,165.9h0M210.2,350.1h0M221.7,348.0h0M192.1,128.7h0M190.2,346.0h0M195.6,308.1h0M224.9,358.7h0M150.9,240.9h0M278.4,348.1h0M226.2,331.4h0M142.6,253.2h0M355.9,33.1h0M162.6,223.7h0M177.1,164.6h0M134.8,248.3h0M222.8,323.3h0M287.0,330.8h0M175.3,312.2h0M133.5,192.5h0M165.4,232.7h0M195.6,341.6h0M161.0,250.1h0M118.1,219.2h0M203.1,301.0h0M152.5,236.1h0M216.5,352.7h0M231.4,346.3h0M186.8,267.7h0M141.4,213.1h0M224.8,361.6h0M138.2,331.0h0M127.2,207.9h0M179.4,340.7h0M126.3,260.7h0M234.6,324.2h0M205.8,321.3h0M218.0,343.2h0M125.5,305.7h0M206.1,361.4h0M223.4,341.2h0M180.5,327.6h0M131.1,173.8h0M154.5,252.3h0M203.1,350.0h0M154.0,297.7h0M122.8,299.4h0M177.4,299.0h0M150.4,222.7h0M142.8,156.0h0M193.5,126.6h0M156.2,277.6h0M199.7,316.3h0M157.1,331.9h0M173.3,137.7h0M151.5,292.1h0M180.3,315.8h0M143.4,208.3h0M161.8,136.5h0M194.1,305.7h0M171.4,322.2h0M163.0,229.4h0M147.4,301.3h0M209.6,255.7h0M132.1,238.1h0M226.2,329.1h0M228.5,311.1h0M204.0,119.1h0M213.6,115.2h0M146.2,194.2h0M271.3,341.9h0M174.8,323.4h0M208.8,343.6h0M165.0,352.5h0M287.3,96.4h0M131.4,251.3h0M163.2,284.2h0M142.3,314.1h0M147.3,229.2h0M349.9,26.4h0M160.0,226.0h0M158.5,272.3h0M203.4,308.2h0M174.5,311.3h0M158.7,332.4h0M148.1,318.5h0M233.2,120.5h0M129.7,247.8h0M270.2,93.6h0M183.9,323.3h0M230.3,356.3h0M230.6,282.1h0M156.7,282.0h0M210.3,328.7h0M141.6,277.6h0M154.3,140.9h0M212.4,115.5h0M107.2,280.1h0M134.5,176.9h0M216.5,342.7h0M119.9,347.1h0M155.0,201.7h0M174.0,303.2h0M218.6,260.0h0M299.4,86.9h0M196.1,314.8h0M129.1,191.6h0M137.6,254.2h0M85.3,223.2h0M147.9,323.1h0M170.9,343.4h0M189.8,280.3h0M194.1,345.5h0M141.5,183.7h0M184.5,331.3h0M181.0,131.0h0M170.8,161.7h0M205.9,271.3h0M159.4,274.7h0M162.9,356.5h0M176.0,134.1h0M162.5,183.2h0M227.1,353.6h0M285.4,355.7h0M261.7,357.9h0M272.7,354.1h0M246.4,333.0h0M147.5,148.3h0M167.0,232.6h0M194.5,361.7h0M115.1,215.7h0M175.5,325.5h0M125.2,255.9h0M205.2,315.3h0M216.6,357.3h0M210.8,309.8h0M131.1,254.4h0M316.9,353.4h0M166.9,314.7h0M283.8,352.3h0M191.4,354.1h0M158.3,325.0h0M233.8,364.7h0M153.2,160.4h0M224.8,320.4h0M231.2,348.2h0M217.7,130.8h0M263.7,361.1h0M180.9,288.6h0M185.6,315.3h0M153.5,302.5h0M152.6,308.9h0M146.9,287.6h0M144.3,254.6h0M112.0,230.6h0M254.9,310.6h0M110.8,200.9h0M159.0,170.6h0M186.8,125.8h0M349.3,11.9h0M147.2,181.1h0M195.0,357.1h0M130.6,277.5h0M130.5,230.7h0M168.7,247.8h0M270.4,357.8h0M269.7,95.9h0M188.5,344.4h0M133.5,243.7h0M154.1,222.0h0M240.0,359.1h0M224.1,341.8h0M143.0,272.7h0M214.9,279.4h0M187.7,319.0h0M246.9,333.2h0M193.6,351.1h0M264.7,331.9h0M177.0,324.6h0M180.9,358.6h0M198.9,318.2h0M313.0,360.4h0M185.2,225.5h0M87.6,274.6h0M166.3,296.6h0M214.3,337.8h0M153.1,167.7h0M276.4,360.4h0M134.6,262.3h0M184.2,312.3h0M195.4,137.2h0M194.0,136.7h0M147.2,229.8h0M254.1,338.6h0M140.1,160.3h0M282.6,102.1h0M176.7,348.4h0M188.4,306.0h0M193.3,311.7h0M297.5,359.4h0M337.9,40.1h0M113.8,189.0h0M233.8,339.9h0M142.1,156.7h0M148.7,329.2h0M162.3,293.1h0M161.8,294.3h0M153.0,260.8h0M165.5,257.7h0M140.6,236.6h0M174.4,179.5h0M201.5,339.9h0M204.5,314.4h0M230.3,366.0h0M189.5,348.6h0M126.9,284.1h0M150.9,302.6h0M156.3,352.8h0M199.0,295.2h0M154.0,302.4h0M199.6,347.7h0M152.9,181.4h0M161.8,330.9h0M150.6,129.3h0M148.8,242.6h0M199.2,353.0h0M109.8,251.8h0M140.2,188.8h0M168.8,328.4h0M158.4,304.2h0M142.8,294.9h0M222.2,358.2h0M178.9,339.8h0M220.2,350.8h0M155.5,342.7h0M176.6,362.7h0M129.1,153.0h0M174.3,312.7h0M177.0,263.0h0M190.7,345.3h0M242.9,161.1h0M88.9,227.7h0M226.8,295.7h0M143.2,129.1h0M199.1,307.0h0M189.0,240.6h0M138.5,268.4h0M82.8,289.9h0M181.7,335.2h0M191.9,124.5h0M123.2,226.0h0M167.8,335.6h0M140.6,225.7h0M141.6,239.8h0M244.0,353.0h0M220.1,319.6h0M157.5,257.5h0M229.7,344.2h0M270.1,344.2h0M245.1,107.6h0M139.9,262.3h0M130.6,270.4h0M196.4,130.7h0M149.5,279.9h0M133.3,219.4h0M195.0,354.9h0M184.2,144.1h0M213.7,360.4h0M136.3,226.3h0M160.3,267.2h0M169.7,151.7h0M124.3,308.9h0M237.2,327.0h0M325.0,331.3h0M187.8,127.5h0M190.7,299.3h0M144.8,290.3h0M244.4,360.8h0M190.8,307.4h0M98.8,290.8h0M173.9,178.6h0M133.4,318.8h0M230.1,361.1h0M189.4,298.1h0M140.5,186.6h0M162.6,303.0h0M217.1,126.5h0M203.4,157.6h0M185.8,306.9h0M183.8,233.5h0M151.7,329.9h0M237.3,362.9h0M255.0,341.9h0M239.2,335.8h0M243.3,349.9h0M198.7,321.9h0M143.6,277.8h0M68.2,252.4h0M172.5,129.0h0M171.4,296.2h0M240.3,332.3h0M163.6,195.7h0M240.2,105.8h0M261.1,356.7h0M192.9,334.3h0M228.1,315.6h0M331.3,56.8h0M304.4,87.0h0M231.3,334.6h0M142.7,263.1h0M167.0,300.1h0M172.4,335.2h0M211.5,106.7h0M273.6,355.7h0M143.4,160.3h0M187.4,365.6h0M201.1,329.4h0M252.1,361.9h0M249.1,359.8h0M127.0,172.0h0M178.6,314.4h0M195.5,215.2h0M150.1,291.4h0M152.1,282.8h0M165.1,326.8h0M206.0,157.8h0M268.5,352.4h0M151.9,317.1h0M224.9,111.1h0M299.8,51.2h0M185.6,317.6h0M166.9,173.9h0M177.4,331.8h0M142.7,145.1h0M238.8,213.7h0M234.8,363.7h0M252.4,348.6h0M170.5,270.4h0M191.9,235.2h0M217.0,111.9h0M146.6,255.1h0M92.0,271.5h0M250.6,345.0h0M166.9,297.7h0M155.3,162.7h0M238.8,346.8h0M236.9,361.9h0M210.1,326.7h0M141.7,270.4h0M316.1,57.8h0M178.3,331.3h0M238.4,347.2h0M192.4,301.0h0M159.2,220.8h0M192.8,251.6h0M126.4,307.4h0M193.8,350.9h0M267.7,345.3h0M233.3,339.8h0M178.9,152.3h0M191.0,341.1h0M167.1,246.9h0M158.1,296.0h0M136.9,290.0h0M242.7,349.2h0M192.9,364.4h0M181.9,206.6h0M241.6,273.8h0M128.4,176.9h0M153.2,308.0h0M165.6,307.2h0M233.7,328.1h0M154.7,311.1h0M170.0,319.3h0M137.1,312.7h0M261.3,363.3h0M181.1,257.8h0M151.5,203.0h0M162.6,306.9h0M161.1,153.9h0M135.1,305.8h0M171.7,318.3h0M257.4,365.0h0M126.6,176.1h0M169.4,299.6h0M138.4,279.9h0M310.5,358.3h0M233.0,73.7h0M146.9,294.2h0M172.6,326.8h0M253.4,347.3h0M255.1,359.7h0M232.4,335.6h0M166.0,303.7h0M303.6,79.3h0M189.3,255.7h0M239.9,341.1h0M221.2,339.2h0M158.8,258.8h0M155.1,288.2h0M61.1,246.1h0M179.9,338.3h0M193.9,288.0h0M186.0,190.8h0M248.2,366.5h0M235.0,361.4h0M143.9,184.6h0M128.5,247.9h0M200.7,322.8h0M187.9,353.2h0M148.5,270.5h0M132.5,166.5h0M221.1,204.3h0M152.8,319.9h0M199.5,312.6h0M196.7,337.8h0M160.7,304.2h0M139.0,285.2h0M247.3,362.7h0M188.2,240.9h0M269.5,363.8h0M313.5,362.7h0M165.1,324.0h0M117.1,237.1h0M253.4,348.1h0M172.5,272.8h0M263.3,106.4h0M109.4,218.1h0M341.2,36.5h0M174.9,153.5h0M133.6,166.6h0M114.0,292.5h0M201.8,352.8h0M243.3,366.2h0M117.2,308.5h0M236.4,350.0h0M156.1,317.1h0M186.3,327.8h0M146.3,275.0h0M360.8,29.8h0M216.2,334.3h0M186.4,255.9h0M159.7,256.9h0M140.8,283.6h0M192.2,144.5h0M205.7,353.1h0M284.4,320.0h0M198.5,129.0h0M205.6,286.3h0M198.3,348.3h0M101.8,261.5h0M216.1,324.6h0M237.5,92.9h0M138.6,236.3h0M158.3,328.4h0M110.1,205.9h0M235.5,333.7h0M231.3,355.3h0M248.7,344.1h0M263.3,102.7h0M240.9,119.0h0M177.6,296.5h0M283.8,104.0h0M157.6,149.3h0M220.9,349.0h0M169.6,310.2h0M183.8,143.3h0M171.2,287.5h0M226.0,338.7h0M260.0,347.3h0M135.2,307.7h0M256.2,359.5h0M107.3,247.3h0M138.6,254.7h0M111.0,241.0h0M132.4,293.8h0M167.1,358.6h0M184.5,269.7h0M194.2,277.6h0M164.9,233.4h0M145.0,250.7h0M69.9,278.2h0M158.3,282.4h0M123.0,240.5h0M95.6,238.0h0M276.0,366.2h0M126.0,237.7h0M147.5,248.6h0M115.4,182.5h0M107.2,308.2h0M203.9,327.9h0M146.0,347.4h0M184.1,123.3h0M114.7,224.3h0M181.9,164.4h0M154.6,249.3h0M133.7,205.7h0M173.6,290.8h0M116.2,183.2h0M268.1,361.7h0M227.9,346.5h0M115.3,290.8h0M181.1,310.1h0M158.8,272.0h0M155.0,324.2h0M216.0,354.2h0M139.9,360.0h0M113.8,252.2h0M197.4,253.9h0M186.4,251.8h0M176.6,310.9h0M142.9,202.4h0M219.0,358.6h0M227.8,106.2h0M217.7,202.5h0M244.9,113.4h0M162.1,334.3h0M169.8,308.3h0M230.0,342.5h0M306.4,364.5h0M166.6,225.9h0M192.5,332.7h0M170.5,334.3h0M270.1,66.3h0M271.2,180.9h0M191.5,273.5h0M139.6,214.9h0M123.0,239.9h0M217.0,355.7h0M153.3,317.6h0M216.8,353.5h0M237.8,347.8h0M244.2,357.1h0M359.0,21.2h0M109.8,205.9h0M112.6,211.1h0M188.1,325.4h0M192.6,342.1h0M92.6,263.9h0M157.0,352.6h0M197.0,322.0h0M163.6,159.6h0M317.0,52.2h0M128.9,344.9h0M160.3,303.8h0M202.2,310.0h0M175.9,287.4h0M156.0,214.1h0M227.1,324.7h0M158.2,261.3h0M134.3,209.8h0M182.0,288.5h0M212.8,338.3h0M174.2,313.4h0M145.4,223.9h0M254.8,113.7h0M338.1,50.8h0M148.7,322.9h0M98.0,269.5h0M142.5,309.6h0M209.9,324.0h0M196.6,313.8h0M131.1,279.0h0M202.4,268.2h0M304.6,345.3h0M142.9,219.2h0M180.2,290.2h0M201.7,353.6h0M341.7,56.0h0M167.1,301.6h0M155.5,248.7h0M203.1,329.3h0M129.7,265.3h0M148.8,346.8h0M135.6,262.4h0M295.5,345.4h0M153.6,185.0h0M179.0,307.2h0M159.0,319.6h0M159.2,270.4h0M167.4,316.4h0M145.3,306.0h0M158.9,149.1h0M176.4,290.5h0M91.1,217.1h0M163.4,333.4h0M145.2,227.6h0M153.7,159.3h0M158.5,307.6h0M183.0,146.3h0M153.1,314.9h0M151.5,267.1h0M139.1,210.6h0M159.1,293.8h0M102.8,201.0h0M185.3,155.9h0M241.8,365.7h0M165.3,278.0h0M229.9,366.3h0M144.3,186.2h0M209.0,365.9h0M227.5,331.0h0M242.6,347.5h0M152.0,275.3h0M130.2,208.5h0M289.0,363.2h0M130.7,222.9h0M128.4,170.8h0M152.5,284.7h0M217.2,351.8h0M173.1,293.3h0M234.5,351.4h0M304.5,354.9h0M247.8,98.4h0M206.3,339.1h0M132.4,217.2h0M120.1,236.1h0M156.5,276.3h0M251.1,346.3h0M197.9,353.5h0M179.2,313.1h0M214.6,361.0h0M189.7,200.1h0M164.7,159.7h0M235.4,320.1h0M200.2,348.2h0M211.7,365.8h0M219.9,337.9h0M91.6,288.2h0M169.9,297.2h0M155.9,327.0h0M147.6,297.9h0M243.6,362.8h0M236.3,349.5h0M267.5,101.6h0M256.0,127.2h0M210.4,320.0h0M152.4,290.6h0M124.7,315.5h0M183.2,325.2h0M152.5,174.1h0M358.1,18.9h0M180.0,329.7h0M211.7,338.8h0M104.5,215.5h0M158.9,251.5h0M183.3,329.9h0M229.7,364.4h0M137.4,192.0h0M359.0,26.3h0M195.3,346.7h0M280.8,358.1h0M205.9,225.4h0M85.3,165.1h0M124.8,250.7h0M166.0,106.0h0M156.3,165.9h0M233.3,352.5h0M186.0,332.1h0M344.3,36.9h0M157.1,295.8h0M118.5,251.4h0M149.9,309.4h0M169.7,323.0h0M224.6,356.2h0M217.8,359.1h0M224.9,352.9h0M203.2,325.5h0M174.6,302.0h0M136.8,252.3h0M125.6,216.6h0M193.2,121.2h0M86.7,259.8h0M210.8,344.7h0M289.5,80.4h0M112.1,301.4h0M253.7,354.7h0M165.3,280.9h0M119.9,190.3h0M254.3,354.3h0M199.1,295.9h0M98.2,205.1h0M142.7,285.1h0M212.6,300.5h0M343.2,49.8h0M195.5,137.5h0M208.4,344.6h0M246.3,351.2h0M169.4,294.5h0M166.9,339.3h0M197.2,344.5h0M137.6,230.2h0M140.6,190.1h0M206.4,343.1h0M160.2,259.7h0M119.4,265.9h0M82.3,196.3h0M178.3,346.5h0M222.2,189.1h0M215.4,328.3h0M142.5,326.9h0M118.6,144.6h0M176.9,335.1h0M127.1,263.7h0M210.5,224.6h0M167.4,150.4h0M196.5,283.3h0M240.9,356.2h0M163.1,302.2h0M297.2,58.9h0M151.5,242.2h0M189.7,308.0h0M185.0,306.1h0M187.7,361.5h0M119.5,214.9h0M128.3,167.4h0M248.4,355.6h0M170.8,225.7h0M170.7,178.9h0M186.1,187.9h0M172.6,273.9h0M144.9,222.3h0M134.6,157.1h0M124.1,277.1h0M119.5,261.7h0M248.2,320.6h0M122.2,201.1h0M183.6,299.9h0M267.9,100.7h0M113.5,329.7h0M139.6,262.0h0M308.6,73.1h0M150.6,176.6h0M199.0,276.4h0M256.9,97.5h0M120.6,287.8h0M224.2,302.5h0M217.4,325.5h0M121.0,279.1h0M203.1,264.5h0M131.3,280.5h0M194.0,316.2h0M211.5,257.8h0M146.2,168.7h0M138.5,278.3h0M154.7,302.7h0M143.7,250.5h0M100.2,293.8h0M191.3,300.5h0M147.2,310.6h0M168.7,242.9h0M186.0,259.4h0M183.9,265.8h0M179.1,239.3h0M197.9,156.4h0M224.8,343.1h0M209.9,343.9h0M178.5,312.2h0M220.6,354.3h0M224.0,364.8h0M233.6,361.6h0M128.0,175.3h0M66.7,244.8h0M190.0,136.3h0M198.6,347.7h0M163.2,214.2h0M150.2,186.0h0M162.9,308.3h0M121.6,147.4h0M192.9,357.5h0M235.9,155.8h0M153.5,273.3h0M190.9,274.4h0M225.5,331.7h0M202.9,343.8h0M201.9,299.2h0M119.0,298.3h0M184.9,275.1h0M136.7,206.6h0M147.6,220.0h0M166.6,321.8h0M195.0,337.2h0M198.9,346.2h0M160.3,278.3h0M197.2,213.8h0M182.9,335.5h0M148.7,299.4h0M133.2,260.7h0M196.4,331.6h0M118.6,258.3h0M153.3,192.3h0M167.3,335.9h0M198.1,293.2h0M223.9,360.7h0M191.4,345.0h0M213.3,322.7h0M142.6,201.5h0M260.8,359.2h0M135.3,192.1h0M129.3,164.4h0M225.1,347.2h0M156.6,126.3h0M196.6,346.1h0M121.0,256.6h0M123.4,289.4h0M166.4,137.6h0M156.0,266.1h0M160.2,309.5h0M137.6,187.9h0M167.2,268.2h0M148.4,182.2h0M137.6,258.3h0M219.2,348.3h0M155.9,265.9h0M210.2,343.0h0M196.0,341.7h0M234.3,102.2h0M211.0,224.0h0M122.2,285.5h0M229.6,328.7h0M197.6,346.5h0M176.4,285.2h0M168.9,308.2h0M208.9,344.2h0M185.2,308.9h0M215.7,263.1h0M160.1,299.0h0M156.0,291.6h0M130.7,261.5h0M257.8,346.3h0M241.4,313.3h0M204.5,286.8h0M233.6,362.8h0M231.3,358.5h0M115.6,280.8h0M157.6,166.1h0M132.3,307.2h0M116.7,299.2h0M239.7,351.1h0M119.3,163.9h0M162.7,319.5h0M251.5,366.4h0M170.5,147.1h0M191.2,324.7h0M125.4,241.4h0M155.5,162.2h0M110.8,257.5h0M153.5,283.4h0M157.6,257.2h0M140.9,300.4h0M146.0,327.6h0M189.9,348.6h0M144.0,130.3h0M185.9,132.8h0M140.3,280.3h0M140.6,281.2h0M196.0,343.9h0M201.1,355.6h0M153.4,147.2h0M171.1,146.1h0M199.4,309.8h0M150.1,191.9h0M139.9,262.1h0M139.3,222.2h0M129.9,282.4h0M233.4,312.5h0M104.4,267.2h0M140.6,278.5h0M199.1,321.9h0M258.4,355.9h0M220.0,118.4h0M238.8,301.1h0M321.1,46.1h0M186.2,118.0h0M138.7,149.0h0M81.9,290.7h0M213.0,359.5h0M161.0,142.9h0M166.1,285.0h0M163.2,266.8h0M234.1,315.9h0M264.1,366.6h0M130.2,156.4h0M162.1,320.1h0M203.4,288.4h0M263.5,360.3h0M95.2,254.7h0M193.4,360.9h0M173.8,309.7h0M175.1,314.5h0M125.9,216.3h0M123.4,224.8h0M283.8,343.0h0M209.2,296.8h0M155.7,199.5h0M306.7,88.8h0M197.6,345.9h0M140.0,246.3h0M137.4,242.4h0M211.7,317.5h0M183.7,346.9h0M134.0,314.3h0M207.6,356.1h0M129.5,241.3h0M188.6,342.7h0M139.7,300.7h0M145.5,275.1h0M210.7,325.5h0M263.2,355.8h0M211.5,272.2h0M255.7,361.2h0M135.1,214.1h0M102.8,241.8h0M206.0,351.2h0M234.8,360.2h0M286.0,352.6h0M166.7,133.0h0M225.5,104.6h0M132.8,225.9h0M170.9,327.7h0M162.4,302.6h0M180.6,152.4h0M177.1,221.5h0M208.5,340.1h0M128.8,292.4h0M292.8,366.3h0M217.1,314.5h0M141.2,313.7h0M169.4,280.5h0M102.4,220.3h0M79.1,264.0h0M145.1,281.4h0M219.9,290.5h0M179.6,215.5h0M176.8,315.6h0M175.8,174.3h0M178.5,322.0h0M147.2,129.1h0M126.2,283.6h0M120.1,242.4h0M138.5,210.0h0M210.6,323.5h0M184.3,197.5h0M110.0,198.1h0M304.6,359.1h0M173.5,306.8h0M296.5,360.6h0M174.6,313.4h0M210.1,322.1h0M137.6,270.9h0M142.7,298.5h0M184.2,317.4h0M137.6,282.0h0M215.3,244.6h0M150.6,231.5h0M173.2,269.7h0M224.6,337.4h0M134.8,290.8h0M219.8,352.8h0M77.4,240.2h0M243.7,357.4h0M202.5,363.0h0M145.4,298.5h0M187.8,197.2h0M250.2,337.0h0M105.3,229.0h0M192.9,291.2h0M182.8,328.9h0M168.4,190.3h0M152.0,178.8h0M207.7,335.8h0M205.3,118.5h0M221.6,344.7h0M227.4,99.6h0M123.2,339.6h0M180.5,168.9h0M243.8,355.7h0M236.0,295.7h0M272.9,350.2h0M168.4,240.8h0M149.8,139.4h0M82.7,210.9h0M136.0,267.8h0M170.0,202.5h0M122.9,220.6h0M191.7,336.5h0M99.8,306.0h0M123.5,321.9h0M177.3,330.3h0M247.1,363.8h0M224.8,325.4h0M272.2,132.2h0M123.6,312.6h0M201.3,119.2h0M248.5,344.6h0M183.6,139.0h0M174.2,336.7h0M117.4,191.8h0M184.7,162.1h0M210.8,352.9h0M189.3,255.2h0M254.4,337.6h0M192.1,289.6h0M127.0,247.2h0M71.7,255.5h0M292.1,82.2h0M247.2,358.8h0M233.9,172.0h0M212.5,229.0h0M151.5,149.7h0M225.1,337.2h0M185.3,316.7h0M183.7,347.9h0M291.1,358.9h0M215.9,326.5h0M176.3,274.4h0M239.7,319.2h0M169.7,340.3h0M174.6,313.7h0M195.2,119.0h0M190.6,129.4h0M311.6,365.5h0M200.2,118.1h0M279.5,98.8h0M251.4,83.5h0M247.5,337.7h0M133.0,186.3h0M228.6,345.4h0M215.4,356.7h0M307.0,120.8h0M105.7,254.3h0M181.7,336.5h0M172.9,285.0h0M152.7,293.8h0M341.9,18.4h0M197.9,306.2h0M141.3,257.8h0M155.1,288.8h0M103.8,205.1h0M149.1,281.9h0M222.3,363.4h0M159.0,215.2h0M204.5,350.4h0M169.1,162.7h0M274.8,68.0h0M123.8,236.4h0M119.5,162.0h0M235.8,348.4h0M158.3,316.5h0M138.7,271.5h0M128.3,275.7h0M172.2,229.0h0M229.8,345.7h0M183.7,190.9h0M166.1,290.3h0M130.9,279.4h0M142.8,150.5h0M204.0,347.1h0M112.5,253.0h0M215.4,364.5h0M106.6,255.4h0M240.2,356.8h0M164.3,217.7h0M131.4,257.5h0M196.5,182.6h0M176.7,143.8h0M212.8,330.6h0M120.1,239.8h0M249.5,366.6h0M196.4,330.6h0M258.8,360.3h0M159.4,141.0h0M215.6,334.1h0M157.8,292.2h0M110.4,213.4h0M163.1,262.4h0M128.9,246.5h0M75.1,196.1h0M141.8,279.4h0M178.4,251.1h0M193.4,325.7h0M137.8,201.2h0M235.9,338.0h0M215.4,351.0h0M175.5,191.7h0M220.6,325.7h0M146.2,204.1h0M97.3,279.6h0M190.0,292.6h0M138.2,239.6h0M237.6,334.9h0M219.7,340.1h0M157.6,276.7h0M118.1,273.7h0M160.8,271.5h0M224.8,351.5h0M174.5,319.5h0M166.3,203.1h0M116.6,200.9h0M168.5,309.5h0M136.4,232.6h0M166.1,233.9h0M144.9,292.0h0M163.2,173.5h0M88.7,233.5h0M132.2,254.2h0M210.4,334.2h0M203.1,345.6h0M109.0,259.6h0M216.9,333.0h0M124.8,228.8h0M132.8,186.4h0M137.4,279.0h0M161.0,197.8h0M194.7,337.9h0M210.6,123.6h0M192.6,339.1h0M175.4,310.2h0M203.8,202.3h0M164.8,319.6h0M288.7,351.1h0M184.3,312.0h0M198.1,345.7h0M231.3,343.5h0M217.4,350.6h0M124.7,218.8h0M68.1,197.6h0M316.0,83.0h0M336.3,30.7h0M215.6,256.1h0M209.8,343.6h0M188.2,316.8h0M142.6,227.8h0M128.7,171.6h0M145.1,200.1h0M180.5,320.5h0M134.4,264.6h0M183.6,305.2h0M245.7,355.1h0M161.3,275.1h0M248.9,355.2h0M299.9,91.8h0M235.8,334.6h0M228.7,344.5h0M144.9,251.2h0M134.9,258.6h0M189.9,315.0h0M134.7,317.3h0M143.4,307.6h0M228.9,99.9h0M225.1,358.5h0M101.4,233.6h0M185.4,226.0h0M204.3,268.8h0M119.2,183.8h0M160.1,273.8h0M242.2,341.3h0M129.7,265.8h0M218.2,120.6h0M199.5,335.3h0M160.8,169.0h0M151.0,299.5h0M177.1,179.7h0M295.3,85.7h0M156.4,294.0h0M153.4,273.0h0M331.8,67.0h0M189.2,353.9h0M234.1,355.7h0M158.4,308.3h0M195.5,320.1h0M131.8,250.7h0M117.3,255.0h0M205.9,117.2h0M239.0,131.6h0M108.8,175.5h0M221.4,363.9h0M220.5,316.7h0M160.1,330.0h0M120.8,265.5h0M140.5,198.1h0M127.4,180.5h0M191.5,273.3h0M222.0,363.9h0M264.8,276.8h0M132.5,208.1h0M152.7,332.8h0M168.5,331.4h0M143.0,311.5h0M189.6,121.6h0M172.0,335.5h0M184.2,107.1h0M165.0,329.1h0M178.5,308.5h0M145.1,301.1h0M141.1,331.8h0M187.9,349.4h0M271.8,356.4h0M249.0,349.6h0M251.0,351.2h0M178.7,255.1h0M126.0,190.3h0M180.3,168.6h0M118.0,250.8h0M71.2,163.8h0M272.7,360.9h0M227.0,365.4h0M221.3,345.3h0M153.0,289.5h0M156.6,318.3h0M128.0,246.1h0M280.5,85.2h0M171.3,270.1h0M256.9,342.2h0M98.4,213.0h0M169.9,320.4h0M165.6,285.9h0M184.1,131.6h0M130.4,261.7h0M247.5,345.7h0M156.0,246.8h0M253.8,127.9h0M211.1,335.6h0M118.4,260.5h0M230.2,366.3h0M220.2,358.9h0M209.5,282.6h0M200.1,345.6h0M110.9,255.9h0M138.7,224.8h0M126.4,218.6h0M189.1,160.0h0M158.7,240.2h0M122.9,232.7h0M206.0,357.4h0M173.7,251.8h0M239.4,160.2h0M172.6,310.0h0M141.1,218.3h0M131.9,234.1h0M198.0,333.9h0M215.3,321.1h0M126.7,267.6h0M177.7,331.2h0M176.4,311.3h0M180.2,147.7h0M278.0,88.6h0M168.3,285.7h0M231.1,361.7h0M144.2,300.0h0M125.3,225.5h0M211.6,322.5h0M250.7,331.5h0M248.5,115.0h0M174.1,292.3h0M229.9,317.6h0M197.5,333.2h0M145.8,185.5h0M231.2,333.0h0M293.2,353.3h0M158.5,227.2h0M150.4,316.6h0M135.6,265.1h0M226.3,290.0h0M250.9,286.8h0M325.3,90.3h0M220.7,122.6h0M166.0,142.8h0M135.4,221.0h0M153.9,256.7h0M147.7,296.1h0M296.3,98.4h0M246.0,334.2h0M163.1,169.5h0M355.1,16.7h0M285.2,362.8h0M172.2,323.9h0M211.4,120.9h0M163.8,327.6h0M133.8,237.2h0M147.8,309.5h0M172.7,135.1h0M135.9,286.8h0M206.3,307.2h0M339.5,38.3h0M123.5,307.5h0M207.7,103.7h0M211.0,330.1h0M131.6,224.4h0M137.5,310.7h0M173.8,307.4h0M144.3,289.2h0M184.9,186.9h0M129.5,228.9h0M207.4,268.3h0M182.6,124.3h0M191.1,317.0h0M212.4,340.5h0M214.6,311.0h0M196.8,262.5h0M157.6,327.4h0M133.1,329.9h0M174.8,261.4h0M134.2,239.7h0M166.6,281.1h0M116.4,200.2h0M181.1,219.3h0M102.6,243.6h0M147.2,181.2h0M201.1,288.4h0M145.0,285.2h0M223.6,357.6h0M129.8,277.6h0M168.4,296.6h0M151.4,173.3h0M140.1,294.4h0M222.6,100.8h0M203.1,362.8h0M177.7,238.5h0M169.0,324.3h0M274.8,353.4h0M158.4,216.9h0M178.9,329.0h0M236.2,324.2h0M172.3,209.1h0M278.6,188.9h0M207.5,314.9h0M189.1,296.1h0M190.4,359.9h0M281.7,360.8h0M233.9,274.2h0M215.3,319.0h0M258.4,358.5h0M199.9,358.4h0M178.6,324.7h0M116.2,178.4h0M123.7,258.9h0M138.9,292.8h0M167.1,226.2h0M148.1,229.9h0M163.5,143.8h0M128.9,331.7h0M225.6,362.8h0M159.4,309.1h0M206.6,303.8h0M164.8,147.5h0M170.5,262.5h0M194.9,365.1h0M209.8,316.7h0M226.2,354.1h0M119.7,246.8h0M206.4,365.8h0M157.7,148.5h0M167.5,271.2h0M146.2,233.7h0M241.7,335.3h0M215.3,169.1h0M194.1,300.3h0M230.4,341.3h0M123.2,248.1h0M257.4,309.5h0M240.0,293.3h0M163.6,144.2h0M188.7,148.2h0M353.5,31.8h0M348.7,39.4h0M145.1,172.1h0M153.5,272.6h0M193.5,206.3h0M195.7,111.7h0M123.7,250.4h0M149.6,277.1h0M125.9,187.4h0M172.7,189.6h0M191.5,303.2h0M181.1,140.7h0M186.5,306.0h0M168.0,289.5h0M105.6,192.8h0M210.9,351.0h0M164.6,279.0h0M203.9,348.7h0M140.0,262.3h0M152.6,257.9h0M127.2,179.6h0M202.9,244.0h0M98.8,167.5h0M248.0,108.7h0M163.7,217.7h0M314.5,365.6h0M149.5,293.3h0M224.3,104.9h0M128.7,260.9h0M273.8,94.3h0M243.4,105.4h0M176.9,338.7h0M200.1,351.7h0M282.1,332.7h0M174.9,333.5h0M232.2,342.1h0M133.8,184.8h0M185.8,82.9h0M222.1,334.6h0M137.4,238.2h0M175.9,309.7h0M169.3,300.5h0M157.5,248.5h0M210.5,126.0h0M179.8,320.7h0M150.6,239.4h0M183.4,274.9h0M254.7,105.4h0M163.3,142.0h0M224.1,115.1h0M179.2,185.9h0M243.6,349.2h0M136.5,141.0h0M169.8,261.4h0M218.2,356.5h0M103.3,165.5h0M223.4,340.3h0M71.6,321.7h0M164.2,270.3h0M87.4,265.3h0M151.1,149.0h0M283.8,350.2h0M161.2,223.5h0M196.4,307.9h0M145.7,285.4h0M226.6,265.6h0M138.0,342.5h0M195.8,322.0h0M158.0,223.4h0M263.9,341.6h0M118.8,297.7h0M195.4,335.0h0M246.7,318.7h0M171.7,141.9h0M195.3,358.2h0M142.7,273.9h0M121.4,255.3h0M145.6,177.4h0M122.5,269.1h0M160.3,272.6h0M108.1,215.6h0M122.3,255.4h0M144.2,267.9h0M125.0,305.0h0M209.7,114.0h0M84.5,205.6h0M238.3,143.2h0M204.6,107.8h0M152.0,331.8h0M159.8,262.8h0M145.9,218.1h0M194.4,345.5h0M198.5,351.6h0M192.3,206.2h0M200.3,333.3h0M192.2,309.2h0M179.9,123.4h0M260.9,233.3h0M265.6,330.2h0M246.2,106.1h0M167.2,275.2h0M175.0,241.9h0M144.1,225.5h0M344.7,59.9h0M187.7,146.9h0M180.1,313.5h0M220.5,124.7h0M275.8,344.6h0M234.1,341.9h0M249.4,346.0h0M220.3,299.4h0M241.8,359.7h0M186.1,306.5h0M142.7,271.1h0M126.4,194.9h0M133.8,269.2h0M164.8,282.3h0M158.6,165.6h0M155.2,247.0h0M240.9,336.0h0M187.6,125.2h0M216.0,343.0h0M261.3,360.1h0M164.6,178.0h0M121.1,205.1h0M126.5,261.2h0M150.0,279.1h0M164.5,236.1h0M152.4,271.9h0M237.0,361.0h0M126.7,266.5h0M201.2,334.2h0M93.0,301.4h0M270.4,351.8h0M156.3,229.8h0M268.4,359.9h0M145.7,205.4h0M158.0,290.2h0M167.1,279.0h0M156.8,316.1h0M201.2,341.7h0M161.3,300.2h0M153.7,267.3h0M316.0,75.8h0M140.0,167.1h0M241.1,365.2h0M175.7,298.1h0M167.2,331.7h0M204.5,360.7h0M145.7,282.9h0M174.5,336.9h0M168.8,366.1h0M160.2,297.0h0M223.6,322.4h0M196.4,280.6h0M187.5,135.1h0M163.2,314.8h0M139.1,284.7h0M235.0,341.8h0M196.9,359.7h0M214.3,342.7h0M194.7,303.5h0M154.1,289.7h0M184.1,353.2h0M216.1,286.6h0M255.9,362.0h0M267.0,326.0h0M231.8,350.9h0M254.0,87.0h0M290.4,79.5h0M247.9,353.9h0M117.1,280.9h0M154.1,296.0h0M288.9,361.4h0M185.6,247.8h0M168.0,348.4h0M171.3,288.1h0M224.4,325.2h0M188.7,321.9h0M179.9,276.9h0M177.4,315.7h0M132.5,274.8h0M236.7,359.9h0M164.1,281.1h0M165.9,146.6h0M150.5,235.8h0M229.5,348.7h0M165.6,151.1h0M189.8,339.0h0M261.7,360.4h0M222.8,366.2h0M137.6,265.0h0M167.1,174.6h0M281.6,94.2h0M179.4,238.8h0M155.2,240.4h0M142.7,309.9h0M225.9,358.5h0M127.1,261.0h0M161.2,278.2h0M132.7,342.5h0M212.8,342.7h0M250.7,364.4h0M187.8,269.8h0M137.2,170.9h0M255.6,362.5h0M229.5,358.2h0M190.7,255.9h0M215.8,125.0h0M316.3,107.8h0M181.0,242.0h0M185.2,255.3h0M189.6,233.5h0M186.2,128.8h0M94.5,207.0h0M140.1,283.4h0M140.0,158.2h0M133.6,227.7h0M155.4,301.0h0M130.3,294.5h0M154.5,187.0h0M168.5,258.9h0M250.1,355.9h0M185.6,298.1h0M170.6,338.9h0M250.7,355.8h0M174.3,159.6h0M173.4,262.7h0M217.5,112.2h0M306.0,333.1h0M119.4,345.8h0M171.3,121.9h0M150.8,317.8h0M159.5,198.5h0M147.7,231.3h0M254.0,298.4h0M117.3,280.3h0M237.5,361.9h0M167.1,286.1h0M195.4,299.4h0M132.4,193.1h0M140.6,216.7h0M275.7,363.5h0M204.9,311.8h0M134.1,265.6h0M76.7,248.4h0M161.5,303.1h0M209.0,342.1h0M144.6,212.3h0M197.1,300.3h0M166.2,250.4h0M136.8,154.0h0M155.7,232.6h0M163.1,281.5h0M180.2,150.9h0M182.7,140.1h0M213.7,335.7h0M169.5,293.8h0M141.3,341.1h0M186.8,267.5h0M145.7,230.6h0M167.7,260.4h0M167.6,351.5h0M151.4,318.9h0M216.4,331.7h0M227.7,323.4h0M198.9,347.7h0M215.4,153.0h0M189.2,138.8h0M151.9,246.0h0M149.8,290.3h0M135.9,241.8h0M242.0,358.0h0M173.4,299.0h0M161.1,276.3h0M193.7,280.2h0M239.1,101.3h0M165.5,161.2h0M209.6,107.7h0M153.7,274.0h0M135.1,194.1h0M170.2,334.7h0M132.3,225.8h0M231.8,94.3h0M140.6,178.7h0M145.9,194.3h0M145.1,244.1h0M152.8,224.3h0M168.0,210.0h0M181.5,269.6h0M303.1,325.4h0M166.9,263.5h0M161.1,284.7h0M95.1,213.2h0M218.8,357.0h0M110.4,193.6h0M164.7,264.2h0M174.5,151.3h0M242.5,349.0h0M250.0,362.5h0M192.1,304.7h0M353.2,39.3h0M169.5,309.5h0M143.6,322.6h0M246.6,346.7h0M260.2,362.9h0M243.8,335.7h0M73.6,239.6h0M142.8,304.6h0M244.0,366.5h0M182.7,238.3h0M128.5,207.1h0M147.1,190.7h0M196.1,346.1h0M202.9,348.0h0M134.3,258.1h0M153.4,271.7h0M123.3,235.6h0M254.1,305.4h0M315.5,339.8h0M205.3,363.7h0M236.0,359.5h0M102.4,274.2h0M142.7,270.9h0M210.3,363.6h0M136.1,227.4h0M167.4,302.5h0M203.2,259.0h0M272.7,86.8h0M163.7,274.2h0M300.4,357.1h0M134.5,295.1h0M237.6,342.2h0M214.8,309.3h0M132.3,307.0h0M201.1,338.8h0M159.6,290.1h0M126.6,227.7h0M227.4,347.2h0M218.9,344.2h0M229.7,302.4h0M249.2,321.3h0M281.3,351.5h0M242.1,165.8h0M177.3,143.7h0M146.4,164.3h0M263.7,363.5h0M177.2,290.2h0M123.6,159.6h0M110.5,205.8h0M174.1,309.3h0M140.0,226.0h0M107.2,236.1h0M84.3,252.4h0M233.4,322.9h0M81.7,272.3h0M212.5,279.0h0M175.4,311.3h0M235.2,345.6h0M176.8,335.5h0M140.6,349.2h0M218.5,358.1h0M155.4,248.3h0M293.4,59.5h0M286.4,347.7h0M181.2,348.4h0M183.1,337.0h0M161.7,328.0h0M177.6,265.0h0M115.7,210.7h0M198.7,357.9h0M153.3,195.3h0M144.1,258.7h0M180.0,130.8h0M130.1,306.8h0M218.7,352.2h0M147.1,256.6h0M365.0,36.6h0M191.9,258.3h0M157.9,279.1h0M151.3,292.8h0M156.3,261.9h0M278.7,97.6h0M167.0,240.2h0M151.5,249.9h0M212.4,352.1h0M178.7,296.5h0M206.6,363.0h0M218.4,309.7h0M140.0,283.1h0M125.5,197.7h0M136.6,239.7h0M150.4,309.5h0M100.2,273.6h0M114.7,233.2h0M248.2,364.8h0M227.6,359.1h0M139.9,245.4h0M265.5,358.4h0M138.4,139.7h0M198.9,358.8h0M161.2,276.9h0M217.6,358.6h0M148.7,234.6h0M194.9,283.4h0M185.1,353.6h0M147.2,281.8h0M166.2,212.0h0M126.1,177.9h0M211.7,361.7h0M274.7,42.5h0M179.0,285.7h0M81.2,201.6h0M150.3,176.5h0M199.1,126.9h0M180.0,162.9h0M111.4,300.0h0M151.8,325.0h0M206.4,120.5h0M197.1,316.0h0M169.8,331.3h0M231.9,358.2h0M181.5,334.9h0M182.5,266.5h0M148.9,206.3h0M187.4,195.1h0M283.0,358.7h0M190.5,255.4h0M157.1,277.6h0M122.4,218.4h0M224.9,329.1h0M145.5,315.2h0M131.0,188.6h0M230.0,364.3h0M173.3,271.1h0M161.9,297.2h0M193.5,342.3h0M118.8,242.4h0M148.4,311.0h0M194.0,94.0h0M357.5,56.7h0M120.1,249.4h0M221.4,352.0h0M194.5,329.2h0M168.7,299.8h0M128.7,257.7h0M233.4,322.2h0M172.8,139.5h0M227.5,344.0h0M160.2,136.6h0M168.4,134.3h0M143.1,263.5h0M126.7,212.6h0M228.7,359.8h0M212.5,339.2h0M192.4,296.0h0M206.3,347.8h0M164.2,228.9h0M212.7,311.7h0M183.4,333.9h0M168.0,335.7h0M250.4,364.6h0M146.1,181.7h0M213.6,89.2h0M256.0,100.0h0M198.2,345.5h0M162.4,300.2h0M224.5,169.6h0M104.9,292.3h0M177.2,309.0h0M274.6,333.4h0M143.9,339.2h0M122.8,276.0h0M307.1,349.9h0M168.5,272.6h0M250.2,331.1h0M147.1,166.6h0M225.5,343.0h0M179.9,320.5h0M190.8,360.4h0M244.4,330.4h0M189.7,333.8h0M210.8,363.8h0M127.7,189.6h0M223.7,364.0h0M227.6,348.0h0M255.2,353.5h0M184.0,299.6h0M168.2,135.4h0M195.0,319.9h0M204.2,337.2h0M95.3,181.1h0M141.9,178.8h0M209.5,300.3h0M129.7,318.2h0M260.6,356.6h0M196.1,338.2h0M190.6,162.1h0M184.2,276.3h0M232.3,365.8h0M299.0,71.1h0M198.4,344.1h0M72.2,150.7h0M137.4,320.5h0M168.9,153.2h0M168.7,319.8h0M193.0,142.9h0M221.6,339.8h0M146.5,257.8h0M219.5,360.4h0M133.5,247.5h0M127.5,232.7h0M148.7,268.3h0M155.3,255.0h0M124.2,239.9h0M165.6,301.8h0M141.0,321.7h0M240.6,358.9h0M60.4,353.0h0M134.7,184.5h0M299.2,360.0h0M149.1,203.8h0M218.6,339.1h0M146.7,177.0h0M210.0,329.1h0M214.1,327.1h0M176.2,140.3h0M148.4,326.0h0M196.5,123.0h0M255.3,356.8h0M139.1,287.6h0M156.0,332.7h0M162.4,351.1h0M156.5,203.3h0M165.6,169.2h0M320.5,75.9h0M132.2,262.7h0M236.9,265.8h0M130.3,337.6h0M184.7,305.7h0M203.3,351.4h0M200.8,353.4h0M133.9,206.4h0M207.1,122.8h0M108.8,196.2h0M158.5,277.8h0M191.3,329.3h0M170.4,166.4h0M121.2,306.5h0M119.3,299.6h0M178.4,143.6h0M223.5,339.3h0M168.5,309.1h0M160.1,200.3h0M167.5,300.7h0M230.9,79.9h0M157.3,309.2h0M129.8,171.7h0M139.5,260.9h0M190.5,248.8h0M205.5,78.7h0M142.4,276.0h0M133.4,209.0h0M103.8,231.7h0M138.3,354.4h0M131.0,207.3h0M270.5,117.3h0M101.3,209.7h0M204.4,259.2h0M134.6,207.7h0M188.3,346.8h0M194.8,321.3h0M202.7,353.3h0M207.5,302.6h0M285.8,315.7h0M239.3,362.4h0M176.3,149.4h0M226.8,107.9h0M193.1,315.2h0M242.2,336.7h0M174.7,117.9h0M201.6,344.7h0M165.1,278.5h0M225.7,120.1h0M146.0,280.1h0M221.8,349.8h0M113.8,156.9h0M217.5,127.3h0M145.4,242.1h0M183.0,281.7h0M172.6,125.6h0M131.2,214.8h0M154.6,284.4h0M154.7,266.0h0M167.7,161.3h0M387.5,47.2h0M145.9,283.8h0M179.2,304.7h0M127.9,152.2h0M175.5,324.6h0M105.1,206.5h0M174.0,144.5h0M269.9,102.9h0M186.0,294.8h0M124.9,250.6h0M184.8,283.1h0M289.6,351.7h0M143.4,238.7h0M208.5,364.6h0M222.8,364.2h0M197.5,329.3h0M169.1,243.8h0M107.7,221.3h0M200.6,300.7h0M181.2,261.8h0M190.7,314.9h0M176.7,362.8h0M245.4,345.2h0M164.6,197.0h0M155.4,271.6h0M183.1,85.5h0M106.9,236.6h0M267.1,339.0h0M233.4,366.0h0M206.2,360.3h0M110.6,278.1h0M181.6,140.8h0M222.8,353.9h0M174.9,135.9h0M136.2,179.2h0M266.8,98.3h0M144.1,197.2h0M170.3,334.1h0M193.2,130.2h0M296.3,85.1h0M291.4,362.0h0M166.9,274.7h0M317.4,72.3h0M235.2,111.1h0M174.1,133.9h0M221.1,323.9h0M234.8,355.8h0M266.0,336.7h0M123.9,226.7h0M149.6,244.7h0M201.1,310.6h0M325.9,359.3h0M97.2,252.7h0M142.8,219.7h0M198.6,286.5h0M146.7,154.5h0M136.5,269.0h0M165.7,139.2h0M136.8,272.7h0M202.1,236.0h0M148.2,317.3h0M236.4,346.3h0M176.6,143.7h0M173.9,166.6h0M181.7,298.1h0M185.4,340.8h0M195.6,109.0h0M217.7,350.0h0M186.5,337.0h0M150.0,238.8h0M200.7,345.2h0M173.1,358.5h0M146.2,166.8h0M226.9,359.7h0M238.3,355.0h0M203.1,205.0h0M155.5,166.4h0M143.2,240.9h0M163.8,344.1h0M151.0,275.8h0M249.1,348.0h0M246.5,169.5h0M199.9,237.5h0M159.5,144.0h0M174.6,330.6h0M225.5,360.7h0M198.8,272.7h0M189.5,134.1h0M146.6,301.2h0M242.2,362.6h0M161.2,221.3h0M219.3,356.3h0M123.8,267.1h0M135.8,253.7h0M100.8,209.5h0M142.2,300.4h0M145.6,288.1h0M128.9,261.1h0M168.8,322.2h0M217.1,352.6h0M128.9,337.1h0M217.3,355.7h0M307.4,358.5h0M201.3,365.5h0M123.6,281.4h0M172.7,292.8h0M185.1,246.0h0M94.6,295.9h0M259.1,300.6h0M99.2,168.6h0M266.3,361.5h0M228.9,351.6h0M192.0,326.9h0M237.8,361.9h0M164.6,280.6h0M148.6,316.3h0M155.0,321.5h0M231.7,328.8h0M177.1,143.5h0M361.0,31.4h0M172.4,158.4h0M204.4,306.9h0M229.2,291.6h0M167.1,173.3h0M227.9,325.7h0M140.0,281.9h0M339.8,38.0h0M137.9,316.0h0M219.9,281.1h0M160.5,243.4h0M161.0,267.5h0M169.8,305.5h0M107.5,317.8h0M188.4,329.1h0M217.5,360.8h0M235.9,352.5h0M142.1,245.5h0M240.5,340.5h0M205.3,308.8h0M115.2,246.3h0M155.1,270.0h0M115.2,237.1h0M175.5,331.9h0M209.4,147.4h0M167.9,333.2h0M207.6,317.0h0M343.7,55.3h0M159.4,246.3h0M199.6,334.3h0M177.0,136.4h0M181.1,338.2h0M138.1,175.1h0M163.0,306.3h0M146.8,230.8h0M198.9,333.3h0M134.1,238.1h0M139.5,187.9h0M207.0,187.9h0M239.3,344.8h0M183.2,130.5h0M203.3,326.8h0M276.5,349.5h0M297.0,77.0h0M222.5,314.4h0M141.5,243.2h0M173.4,332.9h0M132.0,196.7h0M143.0,182.8h0M157.0,155.7h0M179.8,128.7h0M172.9,278.4h0M143.1,316.9h0M148.1,360.9h0M205.2,296.6h0M142.8,272.7h0M128.7,224.3h0M105.3,189.1h0M261.8,345.5h0M216.1,332.8h0M117.1,192.4h0M189.9,359.5h0M130.7,183.3h0M121.1,198.8h0M190.5,167.9h0M152.2,279.8h0M142.4,196.1h0M144.4,319.9h0M217.5,117.0h0M225.8,358.8h0M139.1,166.3h0M214.0,346.0h0M153.3,220.2h0M228.3,356.9h0M178.0,281.2h0M210.9,335.9h0M220.8,337.1h0M188.7,255.3h0M141.1,301.3h0M221.8,331.2h0M110.5,193.6h0M214.6,111.5h0M184.7,291.5h0M118.4,202.8h0M230.7,354.7h0M348.8,63.4h0M235.3,352.4h0M179.9,134.8h0M251.9,350.6h0M267.6,105.7h0M185.6,307.1h0M121.1,265.3h0M199.7,306.2h0M175.7,212.7h0M134.5,197.8h0M216.4,345.9h0M154.4,333.5h0M157.1,226.4h0M167.4,319.5h0M162.5,252.4h0M129.1,271.6h0M140.5,273.5h0M144.7,223.2h0M220.3,104.8h0M247.6,366.3h0M322.5,101.1h0M199.4,339.7h0M150.1,295.2h0M223.8,355.4h0M165.1,337.6h0M197.3,327.9h0M243.9,331.2h0M232.6,341.9h0M210.4,359.5h0M160.5,286.6h0M169.5,322.9h0M175.2,147.7h0M281.9,360.8h0M213.9,362.5h0M167.3,145.0h0M110.8,193.4h0M209.5,352.8h0M274.8,363.9h0M162.4,151.0h0M240.7,91.4h0M200.2,277.2h0M204.8,126.0h0M212.3,140.2h0M145.3,220.6h0M283.0,85.7h0M77.2,187.8h0M254.8,100.3h0M139.3,293.4h0M262.7,365.1h0M204.4,346.4h0M233.3,347.3h0M177.1,322.8h0M139.4,216.1h0M201.6,124.2h0M107.4,218.8h0M187.1,340.6h0M245.2,348.8h0M236.6,363.8h0M82.3,237.7h0M237.7,348.9h0M138.0,265.4h0M116.9,268.3h0M160.1,208.0h0M219.1,340.4h0M125.2,202.9h0M111.5,152.7h0M160.1,264.3h0M109.8,206.2h0M127.4,182.8h0M261.8,363.8h0M175.3,275.2h0M159.5,335.5h0M140.8,276.3h0M332.0,356.3h0M160.6,186.6h0M242.7,260.7h0M224.9,309.0h0M133.1,255.9h0M207.1,316.7h0M195.1,271.5h0M115.8,278.2h0M106.7,194.3h0M159.0,224.2h0M164.9,269.3h0M92.9,306.6h0M142.4,177.7h0M124.3,238.8h0M238.4,304.2h0M214.2,340.3h0M265.4,326.1h0M154.6,297.1h0M255.6,362.5h0M127.3,248.9h0M177.8,242.4h0M201.8,352.7h0M119.6,302.3h0M305.9,73.0h0M208.1,327.6h0M178.3,279.4h0M147.1,232.9h0M299.7,362.6h0M80.0,239.6h0M135.5,170.9h0M144.5,196.1h0M139.2,145.3h0M136.5,274.1h0M215.5,350.7h0M121.1,197.8h0M150.8,164.2h0M184.4,347.4h0M325.7,20.3h0M219.4,349.8h0M141.9,223.4h0M119.1,267.2h0M171.8,159.3h0M171.6,315.4h0M244.6,346.0h0M108.1,225.1h0M155.8,295.8h0M214.6,353.4h0M211.9,365.2h0M120.8,249.3h0M105.6,242.4h0M179.7,305.2h0M150.7,271.4h0M218.2,294.6h0M151.2,291.9h0M147.8,322.9h0M236.0,329.4h0M140.3,279.7h0M328.4,82.8h0M284.9,361.9h0M151.0,168.3h0M89.0,247.4h0M123.7,241.8h0M212.8,321.0h0M192.8,290.9h0M184.3,322.1h0M167.6,304.7h0M142.2,163.0h0M127.9,266.3h0M158.4,253.3h0M276.6,82.1h0M275.2,359.2h0M251.0,101.5h0M168.9,306.7h0M229.4,307.6h0M162.3,312.2h0M195.9,297.6h0M274.0,95.9h0M150.7,156.2h0M221.8,366.1h0M204.5,182.9h0M188.3,129.5h0M192.0,229.2h0M188.0,312.3h0M107.3,194.3h0M196.3,357.4h0M151.2,290.2h0M191.4,329.8h0M195.2,356.7h0M176.7,329.0h0M177.1,324.3h0M179.5,308.9h0M90.3,279.0h0M157.2,300.9h0M325.9,72.1h0M136.3,237.4h0M161.2,315.7h0M201.6,357.5h0M152.6,335.2h0M235.3,325.1h0M253.6,351.6h0M151.8,322.2h0M121.9,285.5h0M168.4,134.2h0M175.5,323.0h0M192.9,307.1h0M157.4,302.8h0M217.9,314.7h0M117.1,239.5h0M208.4,321.8h0M95.3,267.4h0M227.1,355.4h0M233.5,351.3h0M183.6,360.3h0M170.0,309.7h0M183.0,132.3h0M142.5,176.5h0M142.5,213.1h0M232.5,353.1h0M241.3,200.8h0M187.6,354.2h0M228.4,121.3h0M208.0,326.4h0M139.0,201.1h0M154.2,262.2h0M177.7,336.5h0M281.8,358.7h0M277.8,354.5h0M153.3,151.2h0M102.9,197.1h0M359.8,19.3h0M166.7,179.5h0M258.8,99.3h0M161.9,294.0h0M262.6,346.8h0M182.1,311.1h0M145.8,209.5h0M254.2,89.2h0M113.2,344.2h0M221.8,352.4h0M180.7,329.1h0M197.4,218.9h0M224.9,336.4h0M241.1,98.2h0M152.3,277.0h0M202.2,364.2h0M181.2,216.6h0M129.7,234.3h0M165.2,302.9h0M174.8,262.0h0M137.9,167.8h0M149.3,277.2h0M70.3,266.1h0M357.9,93.2h0M209.8,325.2h0M161.7,241.2h0M145.0,192.4h0M238.2,355.5h0M264.2,113.2h0M106.3,256.1h0M108.0,231.0h0M216.0,346.9h0M203.0,358.3h0M159.6,146.5h0M117.1,279.3h0M212.3,345.5h0M215.2,317.2h0M135.9,253.6h0M88.6,203.4h0M291.0,350.2h0M157.8,158.1h0M112.2,295.0h0M214.9,331.8h0M154.9,316.4h0M180.2,138.1h0M158.6,83.2h0M184.8,294.1h0M273.1,78.3h0M182.1,206.3h0M106.5,283.4h0M215.1,348.2h0M162.0,322.9h0M159.8,217.6h0M318.3,356.8h0M248.8,357.5h0M154.2,240.5h0M163.8,337.9h0M144.5,210.3h0M222.1,362.7h0M194.7,345.8h0M152.6,341.1h0M190.7,325.1h0M190.0,345.8h0M157.3,87.4h0M167.2,236.2h0M131.2,300.0h0M278.8,354.7h0M148.8,188.2h0M193.3,340.5h0M184.5,341.3h0M245.7,366.6h0M184.1,318.0h0M140.6,274.6h0M212.3,210.2h0M117.9,279.6h0M233.2,304.2h0M174.8,322.2h0M213.0,350.4h0M206.5,359.1h0M319.6,89.8h0M129.9,238.9h0M224.2,324.8h0M181.1,125.2h0M149.6,193.6h0M267.5,354.9h0M187.4,182.0h0M165.3,177.8h0M209.3,324.9h0M139.7,269.2h0M215.9,352.1h0M266.8,349.7h0M163.4,169.0h0M227.1,320.0h0M134.8,253.0h0M141.7,320.3h0M274.7,102.6h0M156.2,180.2h0M140.6,167.0h0M255.6,365.8h0M138.6,237.8h0M125.4,274.3h0M118.0,290.4h0M154.2,280.7h0M132.9,332.5h0M154.3,336.1h0M136.8,353.6h0M219.3,86.6h0M154.3,287.7h0M247.6,355.1h0M96.1,280.1h0M185.3,323.6h0M133.7,247.9h0M175.3,208.0h0M128.5,164.8h0M84.3,214.9h0M146.2,313.2h0M194.6,306.5h0M157.4,331.7h0M178.5,348.6h0M159.0,320.0h0M193.5,274.8h0M166.2,327.0h0M245.3,348.6h0M134.3,110.3h0M240.7,358.1h0M219.4,153.0h0M206.6,344.8h0M153.2,180.3h0M221.7,303.0h0M137.5,216.9h0M205.1,351.0h0M219.7,362.0h0M231.1,359.7h0M118.8,284.7h0M238.7,342.3h0M143.7,220.3h0M250.4,105.5h0M246.2,347.2h0M138.6,231.7h0M236.0,106.6h0M346.5,27.9h0M280.0,360.3h0M310.2,69.4h0M199.4,291.3h0M167.7,101.2h0M268.8,362.6h0M173.4,307.4h0M150.2,292.5h0M216.0,330.3h0M243.8,282.9h0M164.7,354.3h0M183.6,297.3h0M156.8,171.3h0M226.2,323.5h0M181.3,131.2h0M151.6,289.7h0M161.9,320.2h0M78.9,305.8h0M123.7,153.5h0M126.3,220.8h0M164.2,333.2h0M242.3,359.2h0M255.7,361.8h0M211.7,355.9h0M212.9,356.8h0M321.7,55.7h0M190.8,222.2h0M210.1,284.1h0M148.2,292.7h0M209.4,298.7h0M141.5,284.6h0M329.7,75.6h0M202.2,342.5h0M138.0,258.3h0M183.1,312.4h0M205.6,339.4h0M290.5,344.3h0M225.7,357.7h0M204.5,352.1h0M131.2,185.7h0M201.2,330.4h0M147.5,182.2h0M201.7,125.6h0M202.8,121.3h0M167.2,147.4h0M108.7,194.8h0M231.9,344.6h0M236.0,364.0h0M205.6,325.5h0M188.8,287.6h0M181.0,197.8h0M141.2,286.9h0M185.9,302.2h0M187.4,357.4h0M234.6,366.1h0M186.8,337.0h0M201.1,352.3h0M112.1,259.1h0M250.9,338.4h0M165.6,306.4h0M212.3,328.6h0M257.9,335.2h0M241.9,348.1h0M152.3,203.0h0M122.6,222.9h0M148.3,198.9h0M188.9,332.3h0M325.0,358.6h0M197.9,356.6h0M156.7,225.1h0M154.8,275.8h0M126.7,196.7h0M178.5,347.4h0M183.8,297.5h0M173.6,252.3h0M141.4,231.7h0M159.4,319.5h0M148.5,272.1h0M135.2,228.4h0M192.5,358.8h0M129.9,198.9h0M242.2,343.9h0M159.6,307.6h0M124.6,205.5h0M210.1,308.2h0M205.6,308.1h0M152.1,240.7h0M154.6,314.1h0M143.0,162.8h0M166.3,314.5h0M245.2,329.2h0M141.6,225.8h0M215.5,346.5h0M126.6,244.0h0M150.3,346.6h0M197.8,329.5h0M170.5,365.9h0M217.7,321.4h0M181.6,251.3h0M172.6,247.2h0M237.6,338.6h0M200.1,353.0h0M254.5,350.2h0M204.0,352.1h0M243.4,366.5h0M144.1,311.1h0M145.0,272.0h0M148.6,314.7h0M198.4,349.5h0M134.0,234.7h0M294.0,102.3h0M239.5,366.0h0M289.5,358.7h0M188.9,339.3h0M255.7,363.6h0M272.1,363.2h0M207.2,330.8h0M266.5,348.5h0M131.2,245.1h0M177.6,330.2h0M252.3,346.1h0M229.8,339.4h0M170.1,246.0h0M130.1,178.6h0M223.2,346.2h0M110.1,149.5h0M133.4,207.7h0M233.8,289.0h0M221.1,239.7h0M187.0,207.0h0M258.9,355.5h0M191.6,291.0h0M158.2,313.1h0M268.9,348.0h0M163.7,260.6h0M128.1,293.1h0M230.9,342.4h0M144.7,273.4h0M168.4,188.4h0M136.1,173.2h0M171.5,310.3h0M153.4,151.7h0M199.9,331.2h0M171.2,292.4h0M122.1,275.6h0M217.6,109.4h0M177.9,150.6h0M206.2,357.6h0M191.1,264.5h0M187.5,335.0h0M204.0,153.8h0M129.8,270.8h0M228.7,322.1h0M273.7,360.1h0M338.2,54.8h0M131.5,224.2h0M128.5,230.3h0M182.0,323.4h0M177.8,248.2h0M306.1,110.7h0M112.8,223.2h0M254.5,352.0h0M144.4,290.8h0M229.0,318.5h0M190.0,322.2h0M183.5,304.8h0M168.9,300.9h0M135.2,286.5h0M163.4,313.2h0M128.2,236.3h0M213.7,314.1h0M249.0,354.1h0M168.8,172.1h0M196.1,305.2h0M191.7,314.7h0M308.3,95.6h0M68.3,187.2h0M191.6,329.7h0M178.4,275.1h0M140.5,232.5h0M120.2,257.6h0M197.9,118.7h0M259.1,354.9h0M145.0,293.1h0M213.2,357.4h0M169.1,340.1h0M147.9,278.9h0M132.2,182.8h0M187.9,347.1h0M250.9,354.5h0M171.7,184.9h0M216.0,117.1h0M259.0,354.0h0M180.7,171.6h0M226.9,363.4h0M251.8,140.7h0M191.8,353.5h0M226.7,336.6h0M148.8,159.7h0M182.1,279.3h0M198.4,341.9h0M195.8,352.9h0M95.0,226.8h0M254.4,354.3h0M148.5,233.9h0M164.9,298.0h0M129.4,182.6h0M124.8,303.5h0M163.0,297.6h0M120.6,308.3h0M169.2,162.2h0M177.9,160.7h0M141.8,185.4h0M192.8,341.8h0M202.0,324.8h0M154.0,153.3h0M127.1,225.9h0M215.6,329.6h0M165.1,348.0h0M162.4,352.1h0M232.4,338.9h0M166.0,275.6h0M221.3,339.0h0M305.5,67.1h0M165.7,295.5h0M137.2,227.1h0M200.8,341.1h0M144.9,218.1h0M192.8,247.0h0M123.7,294.7h0M270.1,359.4h0M247.9,319.9h0M116.4,212.5h0M219.9,340.2h0M252.4,345.4h0M166.6,133.7h0M201.2,292.3h0M227.0,334.3h0M129.5,209.0h0M222.6,360.8h0M231.2,307.6h0M204.2,320.3h0M269.0,99.3h0M131.3,198.9h0M175.6,216.7h0M150.7,287.4h0M287.5,291.4h0M180.0,229.3h0M165.4,338.7h0M127.8,204.4h0M226.7,316.6h0M127.1,247.3h0M179.7,354.5h0M135.9,240.4h0M124.1,204.8h0M130.0,255.9h0M147.5,183.1h0M251.5,362.7h0M156.2,259.0h0M221.4,297.7h0M165.9,258.0h0M157.9,297.9h0M115.2,263.8h0M122.5,287.6h0M230.9,365.7h0M81.4,199.0h0M263.3,352.9h0M171.3,281.6h0M158.0,150.5h0M245.2,170.2h0M200.1,127.1h0M147.5,259.6h0M165.5,146.0h0M109.8,228.5h0M151.2,254.3h0M90.8,204.9h0M146.2,177.5h0M222.2,329.1h0M173.7,342.3h0M204.5,327.2h0M173.2,308.2h0M140.6,297.8h0M260.2,352.0h0M208.3,343.4h0M200.4,243.1h0M148.6,192.8h0M183.8,329.4h0M210.4,351.6h0M214.2,352.9h0M238.3,359.8h0M326.5,56.2h0M221.5,124.9h0M371.3,34.8h0M180.6,345.3h0M263.9,102.4h0M209.5,339.9h0M136.1,179.4h0M210.3,345.9h0M70.7,316.8h0M165.5,208.0h0M139.8,213.6h0M145.0,210.5h0M143.4,221.6h0M131.0,304.1h0M244.5,352.2h0M227.2,345.9h0M125.5,298.9h0M231.4,328.8h0M250.0,359.3h0M136.4,187.8h0M145.4,231.8h0M141.8,235.1h0M158.6,297.1h0M175.7,329.6h0M121.1,272.0h0M166.0,219.7h0M303.8,360.8h0M236.2,357.4h0M129.3,161.0h0M198.6,349.1h0M193.6,332.5h0M113.7,270.4h0M173.4,311.7h0M137.9,198.8h0M154.2,287.4h0M127.1,286.8h0M145.7,302.4h0M125.7,244.2h0M123.0,228.2h0M270.4,355.6h0M200.3,345.4h0M122.9,238.0h0M170.3,319.0h0M133.7,268.6h0M193.5,287.3h0M197.0,346.5h0M184.4,249.7h0M188.5,313.6h0M247.4,350.3h0M201.2,356.9h0M246.4,358.7h0M269.0,330.5h0M180.9,316.8h0M295.9,89.3h0M203.9,334.0h0M183.7,340.0h0M189.7,343.9h0M218.2,121.9h0M149.7,266.8h0M192.4,156.2h0M223.0,348.5h0M254.8,355.6h0M159.9,274.3h0M243.1,93.8h0M188.9,309.6h0M136.7,211.7h0M181.0,266.3h0M150.9,242.1h0M92.1,223.1h0M237.3,352.8h0M208.6,340.1h0M86.5,229.6h0M239.9,364.3h0M262.7,340.1h0M201.6,324.1h0M250.1,109.1h0M141.9,178.4h0M138.0,268.5h0M191.5,365.5h0M268.1,335.8h0M258.1,359.3h0M239.1,120.9h0M132.2,240.1h0M181.1,339.9h0M179.3,356.7h0M171.5,316.3h0M178.6,220.1h0M144.0,274.3h0M283.9,364.3h0M127.3,245.2h0M240.0,104.3h0M89.8,244.9h0M159.9,301.3h0M208.7,340.8h0M209.7,360.7h0M170.9,293.8h0M107.6,208.9h0M179.5,301.5h0M194.9,335.2h0M163.8,176.1h0M216.9,114.8h0M253.2,360.2h0M149.8,292.6h0M239.6,311.8h0M161.2,288.0h0M217.9,362.7h0M143.0,185.9h0M205.4,315.9h0M356.7,31.8h0M181.3,306.4h0M190.7,324.0h0M198.2,288.0h0M218.2,351.4h0M226.7,353.5h0M196.4,324.0h0M243.6,342.7h0M201.9,324.0h0M245.8,347.4h0M182.1,314.3h0M188.5,180.7h0M296.2,67.5h0M191.5,365.2h0M190.7,284.7h0M186.5,318.7h0M187.4,314.8h0M201.4,317.7h0M248.5,349.1h0M68.9,225.9h0M173.7,152.0h0M245.3,353.1h0M103.3,117.9h0M198.8,298.3h0M230.6,354.5h0M239.4,256.6h0M239.5,356.1h0M165.0,311.8h0M203.4,265.0h0M123.9,275.5h0M198.5,345.0h0M140.4,160.0h0M210.8,340.8h0M80.7,206.8h0M318.8,350.9h0M135.9,220.4h0M159.6,145.2h0M163.8,303.1h0M247.5,317.5h0M230.9,336.7h0M200.8,315.4h0M147.0,229.3h0M228.2,347.1h0M151.4,256.5h0M170.1,264.3h0M276.5,365.0h0M235.9,359.3h0M129.6,231.4h0M224.6,331.4h0M139.8,343.1h0M125.5,254.4h0M177.3,300.7h0M190.8,336.2h0M236.5,98.7h0M232.3,366.0h0M144.7,282.9h0M253.2,356.2h0M250.6,366.2h0M217.6,348.5h0M187.8,137.2h0M208.3,334.7h0M182.3,287.9h0M182.8,324.1h0M288.0,365.6h0M135.4,186.0h0M206.5,300.8h0M358.1,215.1h0M389.5,329.2h0M290.1,343.1h0M191.4,359.8h0M173.3,192.6h0M345.0,251.4h0M222.6,353.6h0M389.1,65.1h0M205.6,242.3h0M155.9,109.5h0M381.0,246.8h0M191.1,307.6h0M407.9,340.8h0M203.1,272.7h0M189.2,15.3h0M329.9,208.3h0M201.1,77.9h0M122.4,342.2h0M280.0,325.9h0M250.4,253.5h0M374.8,352.7h0M258.9,290.3h0M314.5,123.3h0M189.7,345.4h0M293.7,238.4h0M288.8,198.4h0M125.3,302.6h0M168.4,49.7h0M104.9,241.4h0M400.5,273.9h0M213.0,299.2h0M335.3,170.2h0M69.4,323.8h0M365.7,236.0h0M268.9,185.1h0M69.4,283.0h0M81.3,225.5h0M312.0,314.2h0M158.9,208.6h0M105.3,81.6h0M226.6,364.6h0M213.1,57.9h0M147.7,292.8h0M407.9,9.4h0M312.3,156.7h0M72.0,295.2h0M360.5,245.1h0M272.7,140.2h0M83.2,297.4h0M90.3,139.2h0M212.4,219.8h0M274.3,330.3h0M154.5,352.6h0M175.1,280.0h0M187.6,341.0h0M63.5,226.1h0M398.9,122.9h0M138.4,178.9h0M204.3,355.2h0M136.4,170.1h0M234.0,350.6h0M367.4,250.0h0M376.1,121.8h0M113.2,122.5h0M140.3,165.4h0M156.2,205.6h0M366.8,309.1h0M358.1,206.6h0M370.8,363.2h0M202.2,328.4h0M413.0,103.5h0M119.5,343.5h0M261.3,244.9h0M158.4,344.9h0M239.7,334.5h0M380.5,227.4h0M410.4,101.9h0M185.8,304.6h0M234.2,239.7h0M161.8,257.4h0M354.2,69.1h0M111.5,40.5h0M242.5,78.8h0M337.7,33.0h0M207.0,96.7h0M128.7,263.3h0M236.8,365.3h0M328.1,351.5h0M221.0,319.0h0M416.2,125.7h0M317.6,348.4h0M88.5,307.7h0M298.6,224.8h0M344.1,300.7h0M402.7,153.6h0M351.5,287.9h0M352.5,320.9h0M91.1,76.2h0M138.4,331.6h0M231.7,282.5h0M218.3,327.4h0M87.1,190.3h0M271.7,315.9h0M271.4,350.9h0M124.8,347.9h0M252.1,289.5h0M303.2,362.0h0M132.8,244.9h0M322.4,149.7h0M141.9,40.8h0M386.5,348.6h0M368.4,68.6h0M69.4,241.2h0M281.2,294.2h0M301.1,324.8h0M88.1,213.5h0M198.9,150.4h0M157.8,176.4h0M405.6,253.8h0M63.4,117.6h0M200.0,295.1h0M193.2,360.8h0M158.5,93.7h0M88.1,289.7h0M161.4,356.2h0M166.5,279.3h0M384.6,151.4h0M165.8,271.5h0M363.9,75.5h0M357.7,359.1h0M380.7,262.2h0M285.4,272.2h0M387.7,290.1h0M216.8,136.9h0M77.7,131.3h0M101.0,272.3h0M216.6,120.8h0M269.4,264.2h0M66.0,353.1h0M356.3,60.9h0M244.6,196.6h0M306.1,151.2h0M300.1,220.7h0M244.1,266.8h0M83.7,205.2h0M187.3,306.2h0M110.5,118.9h0M98.9,116.6h0M116.1,229.0h0M329.4,184.7h0M363.8,229.3h0M177.9,343.3h0M107.8,234.0h0M386.6,215.9h0M254.7,321.4h0M254.3,89.9h0M169.2,322.0h0M273.4,349.8h0M210.2,211.8h0M314.0,332.5h0M389.3,121.6h0M118.9,313.1h0M293.2,65.6h0M298.4,134.0h0M359.6,353.5h0M174.9,140.7h0M242.0,266.1h0M224.4,264.5h0M341.0,116.5h0M268.1,175.9h0M317.2,79.0h0M285.7,120.5h0M356.5,288.9h0M329.9,161.5h0M252.7,258.4h0M260.3,344.2h0M247.5,239.0h0M145.5,349.7h0M388.6,308.4h0M132.3,97.5h0M230.3,281.7h0M169.5,152.3h0M93.5,110.6h0M348.7,234.8h0M204.6,306.3h0M253.4,148.3h0M355.7,128.6h0M68.2,270.8h0M168.3,293.0h0M324.9,308.0h0M174.8,324.6h0M227.2,350.6h0M224.5,355.3h0M373.6,224.7h0M78.2,212.3h0M413.0,202.2h0M313.1,353.0h0M289.3,342.3h0M289.1,213.0h0M227.8,317.7h0M73.6,203.7h0M177.4,306.7h0M286.5,265.5h0M230.8,250.6h0M272.8,332.9h0M259.7,334.5h0M189.5,229.9h0M223.4,283.9h0M134.7,313.5h0M259.0,366.4h0M219.5,350.3h0M61.5,331.4h0M248.1,241.1h0M207.7,225.3h0M239.2,264.4h0M79.6,262.3h0M197.4,207.3h0M108.6,211.4h0M103.3,265.5h0M85.8,104.1h0M64.7,295.0h0M378.0,311.8h0M272.4,282.8h0M358.6,360.4h0M189.1,238.2h0M248.5,306.2h0M92.5,276.4h0M180.1,32.5h0M145.7,361.7h0M317.1,249.9h0M325.3,320.8h0M371.4,129.3h0M80.0,277.0h0M268.4,256.2h0M308.7,247.7h0M68.8,257.7h0M370.0,297.2h0M197.0,283.7h0M413.0,327.3h0M147.5,331.0h0M287.4,329.5h0M295.8,180.7h0M161.0,179.8h0M178.4,263.1h0M321.1,141.9h0M257.5,216.3h0M379.5,64.6h0M361.5,350.2h0M96.5,263.3h0M335.0,223.8h0M352.7,339.5h0M369.4,341.9h0M291.9,282.3h0M144.5,91.2h0M84.9,285.4h0M369.9,343.2h0M340.7,139.0h0M208.9,337.6h0M361.3,190.9h0M83.8,304.1h0M382.9,330.1h0M264.6,128.0h0M269.9,321.1h0M401.6,235.2h0M372.3,361.9h0M113.4,260.0h0M343.4,180.7h0M117.3,289.2h0M272.2,340.6h0M218.0,330.6h0M231.7,169.3h0M281.5,364.1h0M352.0,330.3h0M205.1,238.0h0M386.6,299.5h0M89.3,341.3h0M112.6,310.4h0M357.1,13.7h0M287.9,211.4h0M391.7,162.1h0M280.4,289.6h0M123.9,228.9h0M226.1,272.5h0M60.9,355.7h0M400.3,24.9h0M389.2,220.7h0M67.8,294.0h0M216.4,340.2h0M159.8,105.2h0M231.4,103.5h0M192.2,305.0h0M366.2,148.0h0M173.4,149.6h0M130.6,254.6h0M406.5,363.1h0M164.4,195.8h0M309.3,327.1h0M242.3,328.2h0M319.0,220.3h0M258.6,201.4h0M348.7,248.6h0M115.5,357.3h0M396.3,235.2h0M151.3,331.8h0M384.0,253.6h0M61.8,296.0h0M250.1,87.3h0M199.7,294.7h0M96.0,13.4h0M323.4,115.7h0M304.9,341.5h0M306.6,342.2h0M230.2,273.5h0M258.4,308.4h0M242.5,271.6h0M170.8,174.4h0M254.0,350.9h0M360.7,327.7h0M352.8,205.6h0M84.3,214.0h0M334.1,279.7h0M225.2,89.0h0M301.8,358.3h0M223.7,56.6h0M152.6,268.9h0M407.1,272.0h0M403.2,135.1h0M310.1,230.5h0M116.7,352.6h0M77.2,320.1h0M297.7,231.2h0M309.0,185.1h0M95.6,124.0h0M212.5,240.8h0M315.9,156.4h0M403.4,180.3h0M367.4,127.7h0M348.8,168.3h0M95.6,231.6h0M385.2,308.1h0M236.8,327.0h0M218.3,353.8h0M260.2,289.1h0M274.7,353.4h0M358.1,189.6h0M63.7,265.3h0M73.8,246.7h0M222.5,335.8h0M360.8,316.2h0M95.0,307.4h0M288.1,224.9h0M204.8,310.0h0M399.8,234.0h0M337.7,286.6h0M131.7,238.3h0M415.8,314.6h0M388.0,300.7h0M119.2,331.5h0M249.0,215.2h0M237.8,53.3h0M210.1,332.1h0M216.2,359.1h0M268.1,202.8h0M413.5,364.3h0M384.8,210.9h0M187.1,228.3h0M202.4,256.8h0M359.9,319.4h0M172.7,206.2h0M203.3,365.7h0M305.8,191.2h0M86.8,307.4h0M346.1,338.4h0M134.5,26.6h0M240.3,297.2h0M156.7,285.9h0M253.3,309.0h0M164.6,24.1h0M211.9,279.6h0M269.2,149.7h0M382.8,191.8h0M170.1,255.7h0M386.7,258.4h0M411.2,228.1h0M368.1,292.6h0M175.8,214.4h0M275.5,356.0h0M273.7,343.5h0M319.2,311.8h0M285.6,252.1h0M140.6,299.6h0M171.4,336.2h0M130.6,298.2h0M218.6,272.0h0M345.9,310.8h0M316.1,260.9h0M96.3,40.3h0M156.2,363.3h0M307.5,325.2h0M243.1,311.6h0M274.1,245.6h0M296.8,334.7h0M304.7,318.8h0M143.6,239.2h0M314.4,233.9h0M139.0,365.2h0M198.7,180.8h0M159.0,208.0h0M125.1,202.0h0M162.8,327.3h0M82.1,36.2h0M393.8,124.3h0M196.3,77.9h0M401.3,350.7h0M138.4,296.7h0M199.8,196.1h0M395.2,326.6h0M152.1,197.7h0M315.9,15.2h0M302.6,38.0h0M323.2,16.9h0M336.3,24.3h0M277.9,67.2h0M289.2,37.9h0M304.7,34.2h0M309.8,44.9h0M305.4,53.8h0M305.1,43.0h0M264.8,57.5h0M321.3,46.6h0M328.2,42.7h0M282.0,30.4h0M278.5,51.2h0M303.4,49.3h0M292.0,62.2h0M293.1,29.5h0M293.8,67.3h0M277.2,36.1h0M272.2,31.5h0M329.2,20.2h0M290.1,35.1h0M317.6,35.3h0M302.0,21.9h0M281.3,42.0h0M266.4,45.4h0M315.6,49.2h0M292.4,32.3h0M314.8,15.1h0M333.4,13.9h0M288.0,36.9h0M312.4,48.1h0M304.4,26.0h0M315.7,33.8h0M319.7,30.9h0M287.3,29.9h0M304.4,41.4h0M286.0,53.0h0M287.8,37.5h0M312.9,31.2h0M312.9,32.1h0M312.2,10.5h0M289.8,41.7h0M314.8,39.5h0M332.8,12.6h0M298.0,64.3h0M285.5,33.6h0M323.3,38.7h0M310.7,43.6h0M300.7,36.5h0M307.7,31.7h0M272.5,36.2h0M292.2,37.8h0M262.7,48.5h0M309.1,11.6h0M306.2,36.4h0M311.5,50.9h0M309.9,38.9h0M269.6,51.5h0M283.7,49.9h0" stroke="#000" stroke-width="2.3" stroke-linecap="round" fill="none"/>
<rect x="243" y="148" width="152" height="147" fill="#fff"/>
<g clip-path="url(#cl)" fill="none" stroke-width="2.5" stroke-linejoin="round">
<path d="M353.8,2.0L353.4,3.2L353.0,4.5L352.6,5.7L352.1,6.9L351.7,8.2L351.3,9.4L350.8,10.5L350.3,11.7L349.9,12.9L349.4,14.0L348.9,15.1L348.4,16.3L347.9,17.4L347.3,18.4L346.8,19.5L346.3,20.6L345.7,21.6L345.1,22.7L344.6,23.7L344.0,24.7L343.4,25.7L342.8,26.7L342.2,27.7L341.6,28.7L341.0,29.6L340.3,30.6L339.7,31.5L339.0,32.4L338.4,33.4L337.7,34.3L337.0,35.2L336.4,36.0L335.7,36.9L335.0,37.8L334.3,38.6L333.5,39.4L332.8,40.3L332.1,41.1L331.4,41.9L330.6,42.7L329.9,43.5L329.1,44.3L328.3,45.0L327.6,45.8L326.8,46.5L326.0,47.3L325.2,48.0L324.4,48.7L323.6,49.5L322.8,50.2L321.9,50.9L321.1,51.6L320.3,52.2L319.4,52.9L318.6,53.6L317.7,54.2L316.9,54.9L316.0,55.5L315.1,56.1L314.2,56.8L313.3,57.4L312.4,58.0L311.5,58.6L310.6,59.2L309.7,59.8L308.8,60.4L307.9,60.9L307.0,61.5L306.0,62.1L305.1,62.6L304.2,63.2L303.2,63.7L302.3,64.2L301.3,64.8L300.3,65.3L299.4,65.8L298.4,66.3L297.4,66.8L296.4,67.3L295.4,67.8L294.4,68.3L293.5,68.8L292.5,69.2L291.4,69.7L290.4,70.2L289.4,70.6L288.4,71.1L287.4,71.5L286.4,72.0L285.3,72.4L284.3,72.9L283.3,73.3L282.2,73.7L281.2,74.2L280.1,74.6L279.1,75.0L278.0,75.4L277.0,75.8L275.9,76.3L274.9,76.7L273.8,77.1L272.7,77.5L271.7,77.9L270.6,78.3L269.5,78.6L268.4,79.0L267.4,79.4L266.3,79.8L265.2,80.2L264.1,80.6L263.0,80.9L261.9,81.3L260.8,81.7L259.7,82.1L258.6,82.4L257.6,82.8L256.5,83.2L255.3,83.5L254.2,83.9L253.1,84.3L252.0,84.6L250.9,85.0L249.8,85.3L248.7,85.7L247.6,86.1L246.5,86.4L245.4,86.8L244.3,87.1L243.1,87.5L242.0,87.9L240.9,88.2L239.8,88.6L238.7,88.9L237.6,89.3L236.4,89.7L235.3,90.0L234.2,90.4L233.1,90.7L232.0,91.1L230.9,91.5L229.7,91.8L228.6,92.2L227.5,92.6L226.4,93.0L225.3,93.3L224.1,93.7L223.0,94.1L221.9,94.5L220.8,94.8L219.7,95.2L218.6,95.6L217.5,96.0L216.3,96.4L215.2,96.8L214.1,97.2L213.0,97.6L211.9,98.0L210.8,98.4L209.7,98.8L208.6,99.2L207.5,99.6L206.4,100.1L205.3,100.5L204.2,100.9L203.1,101.3L202.0,101.8L200.9,102.2L199.8,102.7L198.7,103.1L197.6,103.6L196.5,104.0L195.5,104.5L194.4,105.0L193.3,105.4L192.2,105.9L191.2,106.4L190.1,106.9L189.0,107.4L187.9,107.9L186.9,108.4L185.8,108.9L184.8,109.4L183.7,109.9L182.7,110.5L181.6,111.0L180.6,111.5L179.5,112.1L178.5,112.6L177.5,113.1L176.4,113.7L175.4,114.3L174.4,114.8L173.4,115.4L172.4,116.0L171.4,116.5L170.4,117.1L169.4,117.7L168.4,118.3L167.4,118.9L166.4,119.5L165.4,120.1L164.4,120.7L163.5,121.3L162.5,122.0L161.6,122.6L160.6,123.2L159.7,123.9L158.7,124.5L157.8,125.2L156.9,125.8L155.9,126.5L155.0,127.2L154.1,127.8L153.2,128.5L152.3,129.2L151.4,129.9L150.5,130.6L149.7,131.3L148.8,132.0L147.9,132.7L147.1,133.4L146.2,134.1L145.4,134.9L144.6,135.6L143.7,136.3L142.9,137.1L142.1,137.8L141.3,138.6L140.5,139.4L139.7,140.1L139.0,140.9L138.2,141.7L137.4,142.5L136.7,143.3L136.0,144.0L135.2,144.8L134.5,145.7L133.8,146.5L133.1,147.3L132.4,148.1L131.7,148.9L131.0,149.8L130.4,150.6L129.7,151.5L129.1,152.3L128.4,153.2L127.8,154.0L127.2,154.9L126.6,155.8L125.8,157.0L125.2,157.9L124.6,158.8L124.1,159.7L123.5,160.6L123.0,161.5L122.5,162.4L121.9,163.3L121.4,164.3L120.9,165.2L120.5,166.1L120.0,167.1L119.5,168.1L119.1,169.0L118.7,170.0L118.2,170.9L117.8,171.9L117.4,172.9L117.1,173.9L116.7,174.9L116.3,175.9L116.0,176.9L115.7,177.9L115.3,178.9L115.0,179.9L114.7,180.9L114.5,182.0L114.2,183.0L113.9,184.0L113.7,185.1L113.4,186.1L113.2,187.1L113.0,188.2L112.8,189.2L112.6,190.3L112.5,191.3L112.3,192.4L112.2,193.5L112.0,194.5L111.9,195.6L111.8,196.6L111.7,197.7L111.7,198.8L111.6,199.9L111.5,200.9L111.5,202.0L111.5,203.1L111.4,204.2L111.4,205.3L111.5,206.3L111.5,207.4L111.5,208.5L111.6,209.6L111.6,210.7L111.7,211.8L111.8,212.9L111.9,213.9L112.0,215.0L112.1,216.1L112.3,217.2L112.4,218.3L112.6,219.4L112.7,220.5L112.9,221.6L113.1,222.7L113.3,223.7L113.6,224.8L113.8,225.9L114.0,227.0L114.3,228.1L114.5,229.2L114.8,230.3L115.1,231.3L115.4,232.4L115.7,233.5L116.0,234.6L116.3,235.7L116.7,236.7L117.0,237.8L117.4,238.9L117.7,239.9L118.1,241.0L118.5,242.1L118.9,243.2L119.3,244.2L119.7,245.3L120.1,246.3L120.6,247.4L121.0,248.5L121.5,249.5L121.9,250.6L122.4,251.6L122.9,252.7L123.4,253.7L123.9,254.7L124.4,255.8L124.9,256.8L125.4,257.9L125.9,258.9L126.5,259.9L127.0,260.9L127.6,262.0L128.1,263.0L128.7,264.0L129.2,265.0L129.8,266.0L130.4,267.0L131.0,268.0L131.6,269.0L132.2,270.0L132.8,271.0L133.5,272.0L134.1,273.0L134.7,274.0L135.4,275.0L136.0,276.0L136.7,276.9L137.3,277.9L138.0,278.9L138.7,279.8L139.4,280.8L140.0,281.7L140.7,282.7L141.4,283.6L142.1,284.6L142.8,285.5L143.6,286.4L144.3,287.4L145.0,288.3L145.7,289.2L146.5,290.1L147.2,291.0L147.9,291.9L148.7,292.8L149.4,293.7L150.2,294.6L151.0,295.5L151.7,296.4L152.5,297.2L153.3,298.1L154.1,299.0L154.8,299.8L155.6,300.7L156.4,301.6L157.2,302.4L158.0,303.2L158.8,304.1L159.6,304.9L160.4,305.8L161.3,306.6L162.1,307.4L162.9,308.2L163.7,309.0L164.6,309.9L165.4,310.7L166.2,311.5L167.1,312.3L167.9,313.1L168.8,313.9L169.6,314.6L170.5,315.4L171.3,316.2L172.2,317.0L173.0,317.8L173.9,318.5L174.8,319.3L175.6,320.1L176.5,320.8L177.4,321.6L178.3,322.3L179.1,323.1L180.0,323.8L180.9,324.5L181.8,325.3L182.7,326.0L183.6,326.7L184.5,327.5L185.4,328.2L186.2,328.9L187.1,329.6L188.0,330.3L188.9,331.0L189.8,331.8L190.8,332.5L191.7,333.2L192.6,333.8L193.5,334.5L194.4,335.2L195.3,335.9L196.2,336.6L197.1,337.3L198.0,338.0L198.9,338.6L199.9,339.3L200.8,340.0L201.7,340.6L202.6,341.3L203.5,342.0L204.4,342.6L205.4,343.3L206.3,343.9L207.2,344.6L208.1,345.2L209.0,345.8L210.0,346.5L210.9,347.1L211.8,347.7L212.7,348.4L213.6,349.0L214.5,349.6L215.5,350.2L216.4,350.9L217.3,351.5L218.2,352.1L219.1,352.7L220.0,353.3L221.0,353.9L221.9,354.5L222.8,355.1L223.7,355.7L224.6,356.3L225.5,356.9L226.4,357.5L227.3,358.1L228.2,358.7L229.1,359.2L230.0,359.8L231.0,360.4L231.9,361.0L232.7,361.5L233.6,362.1L234.5,362.7L235.4,363.2L236.3,363.8L237.2,364.4L238.1,364.9L239.0,365.5L239.9,366.0L240.7,366.6L241.6,367.1L242.5,367.7L243.4,368.2L244.2,368.8L245.1,369.3L246.0,369.8L246.8,370.4L247.7,370.9L248.6,371.4L249.4,372.0L250.5,372.7" stroke="#8205ff"/>
<path d="M356.9,1.8L356.6,3.1L356.3,4.4L355.9,5.7L355.6,6.9L355.2,8.2L354.8,9.4L354.4,10.6L354.0,11.8L353.6,13.0L353.2,14.2L352.8,15.4L352.3,16.5L351.9,17.7L351.4,18.8L351.0,19.9L350.5,21.0L350.0,22.1L349.5,23.2L349.0,24.2L348.4,25.3L347.9,26.3L347.4,27.4L346.8,28.4L346.3,29.4L345.7,30.4L345.1,31.4L344.5,32.3L343.9,33.3L343.3,34.3L342.7,35.2L342.1,36.1L341.5,37.0L340.8,37.9L340.2,38.8L339.5,39.7L338.9,40.6L338.2,41.5L337.5,42.3L336.8,43.2L336.1,44.0L335.4,44.8L334.7,45.6L334.0,46.4L333.3,47.2L332.5,48.0L331.8,48.8L331.1,49.5L330.3,50.3L329.5,51.1L328.8,51.8L328.0,52.5L327.2,53.2L326.4,53.9L325.6,54.7L324.8,55.3L324.0,56.0L323.2,56.7L322.3,57.4L321.5,58.0L320.7,58.7L319.8,59.3L319.0,60.0L318.1,60.6L317.3,61.2L316.4,61.8L315.5,62.4L314.6,63.0L313.7,63.6L312.9,64.2L312.0,64.8L311.1,65.4L310.1,65.9L309.2,66.5L308.3,67.0L307.4,67.6L306.5,68.1L305.5,68.7L304.6,69.2L303.6,69.7L302.7,70.2L301.7,70.7L300.8,71.2L299.8,71.7L298.8,72.2L297.9,72.7L296.9,73.2L295.9,73.7L294.9,74.2L293.9,74.6L292.9,75.1L291.9,75.6L290.9,76.0L289.9,76.5L288.9,76.9L287.9,77.4L286.9,77.8L285.9,78.2L284.8,78.7L283.8,79.1L282.8,79.5L281.7,79.9L280.7,80.4L279.7,80.8L278.6,81.2L277.6,81.6L276.5,82.0L275.5,82.4L274.4,82.8L273.3,83.2L272.3,83.6L271.2,84.0L270.1,84.4L269.1,84.8L268.0,85.2L266.9,85.6L265.8,86.0L264.8,86.4L263.7,86.7L262.6,87.1L261.5,87.5L260.4,87.9L259.3,88.3L258.2,88.6L257.1,89.0L256.0,89.4L254.9,89.8L253.8,90.2L252.7,90.5L251.6,90.9L250.5,91.3L249.4,91.7L248.3,92.1L247.2,92.4L246.1,92.8L245.0,93.2L243.8,93.6L242.7,94.0L241.6,94.4L240.5,94.7L239.4,95.1L238.2,95.5L237.1,95.9L236.0,96.3L234.9,96.7L233.8,97.1L232.6,97.5L231.5,97.9L230.4,98.3L229.3,98.7L228.1,99.1L227.0,99.5L225.9,99.9L224.8,100.3L223.7,100.7L222.5,101.1L221.4,101.5L220.3,102.0L219.2,102.4L218.1,102.8L216.9,103.2L215.8,103.6L214.7,104.1L213.6,104.5L212.5,104.9L211.4,105.4L210.3,105.8L209.2,106.3L208.1,106.7L207.0,107.1L205.9,107.6L204.8,108.1L203.7,108.5L202.6,109.0L201.5,109.4L200.4,109.9L199.3,110.4L198.2,110.8L197.2,111.3L196.1,111.8L195.0,112.3L193.9,112.8L192.9,113.2L191.8,113.7L190.7,114.2L189.7,114.7L188.6,115.2L187.6,115.7L186.5,116.2L185.5,116.8L184.5,117.3L183.4,117.8L182.4,118.3L181.4,118.9L180.4,119.4L179.4,119.9L178.3,120.5L177.3,121.0L176.3,121.6L175.3,122.1L174.4,122.7L173.4,123.3L172.4,123.8L171.4,124.4L170.4,125.0L169.5,125.6L168.5,126.2L167.6,126.7L166.6,127.3L165.7,127.9L164.8,128.6L163.8,129.2L162.9,129.8L162.0,130.4L161.1,131.0L160.2,131.7L159.3,132.3L158.4,133.0L157.5,133.6L156.7,134.3L155.8,134.9L154.9,135.6L154.1,136.3L153.3,136.9L152.4,137.6L151.6,138.3L150.8,139.0L150.0,139.7L149.2,140.4L148.4,141.1L147.6,141.8L146.8,142.6L146.0,143.3L145.3,144.0L144.5,144.8L143.8,145.5L143.0,146.3L142.3,147.1L141.6,147.8L140.9,148.6L140.2,149.4L139.5,150.2L138.8,151.0L138.1,151.8L137.5,152.6L136.8,153.4L136.2,154.2L135.6,155.0L135.0,155.9L134.3,156.7L133.5,157.9L133.0,158.7L132.4,159.6L131.8,160.5L131.3,161.3L130.7,162.2L130.2,163.1L129.7,164.0L129.2,164.9L128.7,165.8L128.2,166.8L127.7,167.7L127.3,168.6L126.8,169.5L126.4,170.5L126.0,171.4L125.5,172.4L125.1,173.3L124.7,174.3L124.4,175.3L124.0,176.3L123.6,177.2L123.3,178.2L122.9,179.2L122.6,180.2L122.3,181.2L122.0,182.2L121.7,183.2L121.4,184.2L121.2,185.2L120.9,186.2L120.7,187.3L120.5,188.3L120.3,189.3L120.0,190.3L119.9,191.4L119.7,192.4L119.5,193.5L119.4,194.5L119.2,195.6L119.1,196.6L119.0,197.7L118.9,198.7L118.8,199.8L118.7,200.8L118.6,201.9L118.6,203.0L118.5,204.0L118.5,205.1L118.5,206.2L118.5,207.2L118.5,208.3L118.5,209.4L118.5,210.5L118.6,211.5L118.6,212.6L118.7,213.7L118.8,214.8L118.9,215.8L119.0,216.9L119.1,218.0L119.2,219.1L119.3,220.2L119.5,221.3L119.6,222.3L119.8,223.4L120.0,224.5L120.2,225.6L120.4,226.7L120.6,227.8L120.8,228.8L121.0,229.9L121.3,231.0L121.5,232.1L121.8,233.2L122.1,234.3L122.3,235.3L122.6,236.4L122.9,237.5L123.2,238.6L123.6,239.6L123.9,240.7L124.2,241.8L124.6,242.9L124.9,243.9L125.3,245.0L125.7,246.1L126.1,247.1L126.5,248.2L126.9,249.3L127.3,250.3L127.7,251.4L128.2,252.4L128.6,253.5L129.0,254.5L129.5,255.6L130.0,256.6L130.4,257.7L130.9,258.7L131.4,259.8L131.9,260.8L132.4,261.8L132.9,262.9L133.5,263.9L134.0,264.9L134.5,265.9L135.1,267.0L135.6,268.0L136.2,269.0L136.8,270.0L137.3,271.0L137.9,272.0L138.5,273.0L139.1,274.0L139.7,275.0L140.3,276.0L140.9,277.0L141.6,277.9L142.2,278.9L142.8,279.9L143.5,280.8L144.1,281.8L144.8,282.8L145.4,283.7L146.1,284.7L146.8,285.6L147.5,286.5L148.1,287.5L148.8,288.4L149.5,289.3L150.2,290.3L150.9,291.2L151.7,292.1L152.4,293.0L153.1,293.9L153.8,294.8L154.6,295.7L155.3,296.5L156.1,297.4L156.8,298.3L157.6,299.2L158.3,300.0L159.1,300.9L159.9,301.7L160.6,302.6L161.4,303.4L162.2,304.3L163.0,305.1L163.8,306.0L164.6,306.8L165.4,307.6L166.2,308.4L167.0,309.2L167.8,310.0L168.6,310.9L169.4,311.7L170.2,312.5L171.1,313.2L171.9,314.0L172.7,314.8L173.6,315.6L174.4,316.4L175.3,317.2L176.1,317.9L176.9,318.7L177.8,319.4L178.7,320.2L179.5,321.0L180.4,321.7L181.2,322.4L182.1,323.2L183.0,323.9L183.8,324.7L184.7,325.4L185.6,326.1L186.5,326.8L187.4,327.6L188.2,328.3L189.1,329.0L190.0,329.7L190.9,330.4L191.8,331.1L192.7,331.8L193.6,332.5L194.5,333.2L195.4,333.9L196.3,334.6L197.2,335.2L198.1,335.9L199.0,336.6L199.9,337.3L200.8,337.9L201.7,338.6L202.6,339.3L203.5,339.9L204.4,340.6L205.3,341.2L206.2,341.9L207.1,342.5L208.1,343.2L209.0,343.8L209.9,344.5L210.8,345.1L211.7,345.8L212.6,346.4L213.5,347.0L214.4,347.6L215.4,348.3L216.3,348.9L217.2,349.5L218.1,350.1L219.0,350.7L219.9,351.3L220.8,352.0L221.7,352.6L222.6,353.2L223.6,353.8L224.5,354.4L225.4,355.0L226.3,355.6L227.2,356.1L228.1,356.7L229.0,357.3L229.9,357.9L230.8,358.5L231.7,359.1L232.6,359.7L233.5,360.2L234.4,360.8L235.3,361.4L236.2,361.9L237.0,362.5L237.9,363.1L238.8,363.6L239.7,364.2L240.6,364.8L241.5,365.3L242.3,365.9L243.2,366.4L244.1,367.0L245.0,367.5L245.8,368.1L246.7,368.6L247.5,369.2L248.4,369.7L249.3,370.3L250.1,370.8L251.0,371.3L251.8,371.9L252.9,372.6" stroke="#0505ff"/>
<path d="M361.0,1.9L360.7,3.2L360.4,4.5L360.0,5.7L359.7,7.0L359.3,8.2L358.9,9.5L358.6,10.7L358.2,11.9L357.8,13.1L357.4,14.3L356.9,15.4L356.5,16.6L356.1,17.7L355.6,18.9L355.2,20.0L354.7,21.1L354.2,22.2L353.8,23.3L353.3,24.3L352.8,25.4L352.3,26.5L351.7,27.5L351.2,28.5L350.7,29.5L350.1,30.5L349.6,31.5L349.0,32.5L348.5,33.5L347.9,34.5L347.3,35.4L346.7,36.4L346.1,37.3L345.5,38.2L344.9,39.1L344.3,40.0L343.6,40.9L343.0,41.8L342.3,42.7L341.7,43.5L341.0,44.4L340.4,45.2L339.7,46.0L339.0,46.9L338.3,47.7L337.6,48.5L336.9,49.3L336.2,50.1L335.5,50.9L334.8,51.6L334.0,52.4L333.3,53.1L332.6,53.9L331.8,54.6L331.0,55.3L330.3,56.1L329.5,56.8L328.7,57.5L327.9,58.2L327.2,58.9L326.4,59.5L325.6,60.2L324.8,60.9L323.9,61.5L323.1,62.2L322.3,62.8L321.5,63.5L320.6,64.1L319.8,64.7L318.9,65.3L318.1,65.9L317.2,66.5L316.4,67.1L315.5,67.7L314.6,68.3L313.7,68.9L312.8,69.5L312.0,70.0L311.1,70.6L310.2,71.1L309.3,71.7L308.3,72.2L307.4,72.8L306.5,73.3L305.6,73.8L304.7,74.3L303.7,74.9L302.8,75.4L301.8,75.9L300.9,76.4L299.9,76.9L299.0,77.4L298.0,77.9L297.1,78.3L296.1,78.8L295.1,79.3L294.1,79.8L293.2,80.2L292.2,80.7L291.2,81.2L290.2,81.6L289.2,82.1L288.2,82.5L287.2,83.0L286.2,83.4L285.2,83.9L284.2,84.3L283.2,84.7L282.1,85.2L281.1,85.6L280.1,86.0L279.1,86.4L278.0,86.9L277.0,87.3L275.9,87.7L274.9,88.1L273.9,88.5L272.8,89.0L271.8,89.4L270.7,89.8L269.6,90.2L268.6,90.6L267.5,91.0L266.5,91.4L265.4,91.8L264.3,92.2L263.2,92.6L262.2,93.0L261.1,93.4L260.0,93.8L258.9,94.2L257.9,94.6L256.8,95.0L255.7,95.4L254.6,95.8L253.5,96.2L252.4,96.6L251.3,97.0L250.2,97.4L249.1,97.8L248.0,98.2L246.9,98.6L245.8,99.0L244.7,99.4L243.6,99.8L242.5,100.2L241.4,100.6L240.3,101.0L239.2,101.4L238.1,101.9L237.0,102.3L235.9,102.7L234.8,103.1L233.7,103.5L232.5,103.9L231.4,104.3L230.3,104.7L229.2,105.1L228.1,105.6L227.0,106.0L225.9,106.4L224.8,106.8L223.7,107.3L222.6,107.7L221.5,108.1L220.4,108.5L219.3,109.0L218.2,109.4L217.1,109.8L216.0,110.3L214.9,110.7L213.8,111.2L212.8,111.6L211.7,112.1L210.6,112.5L209.5,113.0L208.4,113.4L207.3,113.9L206.3,114.3L205.2,114.8L204.1,115.3L203.1,115.7L202.0,116.2L200.9,116.7L199.9,117.2L198.8,117.6L197.8,118.1L196.7,118.6L195.7,119.1L194.6,119.6L193.6,120.1L192.6,120.6L191.5,121.1L190.5,121.6L189.5,122.1L188.5,122.6L187.5,123.2L186.5,123.7L185.4,124.2L184.4,124.8L183.5,125.3L182.5,125.8L181.5,126.4L180.5,126.9L179.5,127.5L178.6,128.0L177.6,128.6L176.6,129.2L175.7,129.7L174.7,130.3L173.8,130.9L172.9,131.5L171.9,132.1L171.0,132.7L170.1,133.3L169.2,133.9L168.3,134.5L167.4,135.1L166.5,135.7L165.6,136.4L164.7,137.0L163.8,137.6L163.0,138.3L162.1,138.9L161.3,139.6L160.4,140.2L159.6,140.9L158.7,141.6L157.9,142.3L157.1,142.9L156.3,143.6L155.5,144.3L154.7,145.0L153.9,145.7L153.2,146.4L152.4,147.2L151.6,147.9L150.9,148.6L150.2,149.4L149.4,150.1L148.7,150.9L148.0,151.6L147.3,152.4L146.6,153.2L145.9,153.9L145.2,154.7L144.6,155.5L143.9,156.3L143.3,157.1L142.6,158.0L141.8,159.0L141.2,159.9L140.6,160.7L140.0,161.6L139.4,162.4L138.8,163.3L138.3,164.1L137.7,165.0L137.2,165.9L136.6,166.8L136.1,167.7L135.6,168.6L135.1,169.5L134.6,170.4L134.1,171.3L133.7,172.2L133.2,173.2L132.8,174.1L132.3,175.0L131.9,176.0L131.5,176.9L131.1,177.9L130.7,178.8L130.4,179.8L130.0,180.8L129.6,181.7L129.3,182.7L129.0,183.7L128.7,184.7L128.3,185.7L128.1,186.7L127.8,187.7L127.5,188.7L127.2,189.7L127.0,190.7L126.8,191.7L126.6,192.8L126.3,193.8L126.1,194.8L126.0,195.8L125.8,196.9L125.6,197.9L125.5,199.0L125.4,200.0L125.2,201.0L125.1,202.1L125.0,203.1L125.0,204.2L124.9,205.3L124.8,206.3L124.8,207.4L124.7,208.4L124.7,209.5L124.7,210.6L124.7,211.6L124.7,212.7L124.7,213.8L124.8,214.8L124.8,215.9L124.9,217.0L124.9,218.1L125.0,219.1L125.1,220.2L125.2,221.3L125.3,222.4L125.5,223.5L125.6,224.5L125.7,225.6L125.9,226.7L126.1,227.8L126.2,228.9L126.4,229.9L126.6,231.0L126.8,232.1L127.1,233.2L127.3,234.3L127.5,235.3L127.8,236.4L128.0,237.5L128.3,238.6L128.6,239.7L128.9,240.7L129.2,241.8L129.5,242.9L129.8,243.9L130.1,245.0L130.5,246.1L130.8,247.2L131.2,248.2L131.5,249.3L131.9,250.3L132.3,251.4L132.7,252.5L133.1,253.5L133.5,254.6L133.9,255.6L134.4,256.7L134.8,257.7L135.2,258.8L135.7,259.8L136.2,260.8L136.6,261.9L137.1,262.9L137.6,263.9L138.1,265.0L138.6,266.0L139.1,267.0L139.6,268.0L140.1,269.0L140.7,270.0L141.2,271.1L141.8,272.1L142.3,273.1L142.9,274.0L143.5,275.0L144.1,276.0L144.6,277.0L145.2,278.0L145.8,279.0L146.4,279.9L147.1,280.9L147.7,281.8L148.3,282.8L149.0,283.7L149.6,284.7L150.2,285.6L150.9,286.6L151.6,287.5L152.2,288.4L152.9,289.3L153.6,290.2L154.3,291.2L155.0,292.1L155.7,293.0L156.4,293.9L157.1,294.7L157.8,295.6L158.5,296.5L159.3,297.4L160.0,298.3L160.7,299.1L161.5,300.0L162.2,300.9L163.0,301.7L163.7,302.6L164.5,303.4L165.3,304.2L166.1,305.1L166.8,305.9L167.6,306.7L168.4,307.6L169.2,308.4L170.0,309.2L170.8,310.0L171.6,310.8L172.4,311.6L173.2,312.4L174.0,313.2L174.9,314.0L175.7,314.8L176.5,315.6L177.4,316.4L178.2,317.1L179.0,317.9L179.9,318.7L180.7,319.4L181.6,320.2L182.4,320.9L183.3,321.7L184.1,322.4L185.0,323.2L185.9,323.9L186.7,324.7L187.6,325.4L188.5,326.1L189.3,326.9L190.2,327.6L191.1,328.3L192.0,329.0L192.9,329.7L193.8,330.4L194.6,331.1L195.5,331.8L196.4,332.5L197.3,333.2L198.2,333.9L199.1,334.6L200.0,335.3L200.9,336.0L201.8,336.7L202.7,337.3L203.6,338.0L204.5,338.7L205.4,339.3L206.3,340.0L207.2,340.7L208.1,341.3L209.0,342.0L209.9,342.6L210.8,343.3L211.7,343.9L212.7,344.5L213.6,345.2L214.5,345.8L215.4,346.5L216.3,347.1L217.2,347.7L218.1,348.3L219.0,349.0L219.9,349.6L220.8,350.2L221.7,350.8L222.6,351.4L223.5,352.0L224.5,352.6L225.4,353.2L226.3,353.8L227.2,354.4L228.1,355.0L229.0,355.6L229.9,356.2L230.8,356.8L231.7,357.3L232.5,357.9L233.4,358.5L234.3,359.1L235.2,359.7L236.1,360.2L237.0,360.8L237.9,361.4L238.8,361.9L239.6,362.5L240.5,363.0L241.4,363.6L242.2,364.1L243.1,364.7L244.0,365.2L244.8,365.8L245.7,366.3L246.6,366.9L247.4,367.4L248.3,367.9L249.1,368.5L250.0,369.0L250.8,369.5L251.6,370.1L252.5,370.6L253.3,371.1L254.1,371.6L255.2,372.3" stroke="#0a85ff"/>
<path d="M365.7,2.1L365.3,3.4L364.9,4.6L364.5,5.8L364.1,7.0L363.7,8.2L363.3,9.3L362.9,10.5L362.4,11.7L362.0,12.8L361.5,14.0L361.1,15.1L360.6,16.2L360.2,17.4L359.7,18.5L359.2,19.6L358.7,20.7L358.2,21.7L357.7,22.8L357.2,23.9L356.7,25.0L356.2,26.0L355.7,27.1L355.1,28.1L354.6,29.1L354.0,30.1L353.5,31.1L352.9,32.2L352.4,33.1L351.8,34.1L351.2,35.1L350.6,36.1L350.0,37.1L349.4,38.0L348.8,39.0L348.2,39.9L347.6,40.8L347.0,41.8L346.4,42.7L345.7,43.6L345.1,44.5L344.4,45.4L343.8,46.3L343.1,47.1L342.5,48.0L341.8,48.9L341.1,49.7L340.4,50.6L339.8,51.4L339.1,52.3L338.4,53.1L337.7,53.9L337.0,54.7L336.2,55.5L335.5,56.3L334.8,57.1L334.1,57.9L333.3,58.6L332.6,59.4L331.9,60.2L331.1,60.9L330.3,61.7L329.6,62.4L328.8,63.1L328.1,63.8L327.3,64.6L326.5,65.3L325.7,66.0L324.9,66.6L324.1,67.3L323.3,68.0L322.5,68.7L321.7,69.3L320.9,70.0L320.1,70.6L319.3,71.3L318.4,71.9L317.6,72.5L316.8,73.1L315.9,73.7L315.1,74.3L314.3,74.9L313.4,75.5L312.6,76.1L311.7,76.6L310.8,77.2L310.0,77.8L309.1,78.3L308.2,78.9L307.3,79.4L306.5,79.9L305.6,80.5L304.7,81.0L303.8,81.5L302.9,82.0L302.0,82.5L301.1,83.0L300.2,83.5L299.3,84.0L298.3,84.5L297.4,85.0L296.5,85.4L295.6,85.9L294.6,86.4L293.7,86.8L292.8,87.3L291.8,87.8L290.9,88.2L289.9,88.7L289.0,89.1L288.0,89.6L287.1,90.0L286.1,90.4L285.1,90.9L284.2,91.3L283.2,91.7L282.2,92.2L281.2,92.6L280.2,93.0L279.2,93.4L278.2,93.8L277.3,94.2L276.3,94.6L275.2,95.1L274.2,95.5L273.2,95.9L272.2,96.3L271.2,96.7L270.2,97.1L269.2,97.4L268.1,97.8L267.1,98.2L266.1,98.6L265.0,99.0L264.0,99.4L262.9,99.8L261.9,100.2L260.8,100.6L259.8,101.0L258.7,101.4L257.7,101.7L256.6,102.1L255.5,102.5L254.5,102.9L253.4,103.3L252.3,103.7L251.3,104.1L250.2,104.5L249.1,104.9L248.0,105.2L247.0,105.6L245.9,106.0L244.8,106.4L243.7,106.8L242.6,107.2L241.5,107.6L240.4,108.0L239.4,108.4L238.3,108.8L237.2,109.2L236.1,109.6L235.0,110.0L233.9,110.4L232.8,110.8L231.7,111.2L230.6,111.6L229.5,112.1L228.4,112.5L227.3,112.9L226.2,113.3L225.1,113.7L224.1,114.1L223.0,114.6L221.9,115.0L220.8,115.4L219.7,115.9L218.6,116.3L217.5,116.7L216.4,117.2L215.4,117.6L214.3,118.1L213.2,118.5L212.1,119.0L211.0,119.4L210.0,119.9L208.9,120.3L207.8,120.8L206.8,121.3L205.7,121.7L204.6,122.2L203.6,122.7L202.5,123.2L201.5,123.7L200.4,124.2L199.4,124.7L198.3,125.2L197.3,125.7L196.3,126.2L195.2,126.7L194.2,127.2L193.2,127.7L192.2,128.2L191.2,128.8L190.2,129.3L189.1,129.9L188.1,130.4L187.2,130.9L186.2,131.5L185.2,132.1L184.2,132.6L183.2,133.2L182.3,133.8L181.3,134.3L180.3,134.9L179.4,135.5L178.4,136.1L177.5,136.7L176.5,137.3L175.6,137.9L174.7,138.5L173.8,139.1L172.9,139.7L172.0,140.4L171.1,141.0L170.2,141.6L169.3,142.3L168.4,142.9L167.5,143.6L166.7,144.2L165.8,144.9L164.9,145.5L164.1,146.2L163.3,146.9L162.4,147.6L161.6,148.2L160.8,148.9L160.0,149.6L159.2,150.3L158.4,151.0L157.6,151.7L156.9,152.5L156.1,153.2L155.3,153.9L154.6,154.6L153.9,155.4L153.1,156.1L152.4,156.9L151.7,157.6L151.0,158.4L150.3,159.1L149.4,160.2L148.7,160.9L148.1,161.7L147.4,162.5L146.8,163.3L146.1,164.1L145.5,164.9L144.9,165.7L144.3,166.5L143.7,167.4L143.1,168.2L142.6,169.0L142.0,169.9L141.5,170.7L140.9,171.6L140.4,172.4L139.9,173.3L139.4,174.2L138.9,175.0L138.4,175.9L137.9,176.8L137.5,177.7L137.0,178.6L136.6,179.5L136.2,180.4L135.8,181.3L135.4,182.2L135.0,183.2L134.6,184.1L134.3,185.0L133.9,186.0L133.6,186.9L133.3,187.9L133.0,188.9L132.7,189.8L132.4,190.8L132.1,191.8L131.9,192.8L131.7,193.8L131.4,194.8L131.2,195.8L131.0,196.8L130.9,197.8L130.7,198.8L130.5,199.9L130.4,200.9L130.3,201.9L130.2,203.0L130.1,204.0L130.0,205.1L129.9,206.1L129.8,207.2L129.8,208.3L129.8,209.3L129.7,210.4L129.7,211.5L129.7,212.6L129.7,213.6L129.8,214.7L129.8,215.8L129.9,216.9L129.9,218.0L130.0,219.1L130.1,220.2L130.2,221.3L130.3,222.4L130.4,223.5L130.6,224.6L130.7,225.7L130.9,226.8L131.1,228.0L131.2,229.1L131.4,230.2L131.6,231.3L131.8,232.4L132.1,233.5L132.3,234.6L132.5,235.8L132.8,236.9L133.1,238.0L133.3,239.1L133.6,240.2L133.9,241.3L134.2,242.4L134.6,243.5L134.9,244.6L135.2,245.8L135.6,246.9L135.9,248.0L136.3,249.1L136.7,250.2L137.0,251.3L137.4,252.4L137.8,253.5L138.2,254.5L138.7,255.6L139.1,256.7L139.5,257.8L140.0,258.9L140.4,259.9L140.9,261.0L141.3,262.1L141.8,263.1L142.3,264.2L142.8,265.3L143.3,266.3L143.8,267.4L144.3,268.4L144.8,269.4L145.4,270.5L145.9,271.5L146.5,272.5L147.0,273.5L147.6,274.5L148.1,275.5L148.7,276.5L149.3,277.5L149.9,278.5L150.5,279.5L151.1,280.4L151.7,281.4L152.3,282.4L152.9,283.3L153.5,284.3L154.2,285.2L154.8,286.1L155.4,287.0L156.1,288.0L156.7,288.9L157.4,289.8L158.1,290.7L158.7,291.5L159.4,292.4L160.1,293.3L160.8,294.2L161.4,295.0L162.1,295.9L162.8,296.7L163.5,297.6L164.2,298.4L164.9,299.2L165.7,300.1L166.4,300.9L167.1,301.7L167.8,302.5L168.6,303.3L169.3,304.1L170.0,304.9L170.8,305.7L171.5,306.5L172.3,307.3L173.0,308.1L173.8,308.9L174.5,309.6L175.3,310.4L176.0,311.2L176.8,311.9L177.6,312.7L178.4,313.5L179.1,314.2L179.9,315.0L180.7,315.7L181.5,316.5L182.3,317.2L183.0,318.0L183.8,318.7L184.6,319.4L185.4,320.2L186.2,320.9L187.0,321.7L187.8,322.4L188.6,323.1L189.4,323.8L190.2,324.6L191.1,325.3L191.9,326.0L192.7,326.7L193.5,327.4L194.3,328.1L195.2,328.9L196.0,329.6L196.8,330.3L197.7,331.0L198.5,331.7L199.3,332.4L200.2,333.1L201.0,333.8L201.9,334.4L202.7,335.1L203.6,335.8L204.4,336.5L205.3,337.2L206.2,337.9L207.0,338.5L207.9,339.2L208.7,339.9L209.6,340.6L210.5,341.2L211.4,341.9L212.2,342.6L213.1,343.2L214.0,343.9L214.9,344.5L215.7,345.2L216.6,345.8L217.5,346.5L218.4,347.1L219.3,347.8L220.2,348.4L221.1,349.0L222.0,349.7L222.9,350.3L223.8,350.9L224.7,351.6L225.6,352.2L226.5,352.8L227.4,353.4L228.3,354.1L229.2,354.7L230.1,355.3L231.0,355.9L231.9,356.5L232.8,357.1L233.7,357.7L234.6,358.3L235.6,358.9L236.5,359.5L237.4,360.1L238.3,360.7L239.3,361.3L240.2,361.9L241.1,362.4L242.0,363.0L243.0,363.6L243.9,364.2L244.8,364.8L245.8,365.3L246.7,365.9L247.6,366.5L248.6,367.0L249.5,367.6L250.5,368.2L251.4,368.7L252.3,369.3L253.3,369.8L254.2,370.4L255.2,370.9L256.2,371.5L257.1,372.0L258.4,372.8" stroke="#05f57a"/>
<path d="M368.8,2.2L368.5,3.5L368.2,4.7L367.8,5.9L367.5,7.1L367.1,8.3L366.7,9.5L366.4,10.7L366.0,11.9L365.6,13.0L365.2,14.2L364.8,15.3L364.3,16.5L363.9,17.6L363.5,18.7L363.0,19.9L362.6,21.0L362.1,22.1L361.7,23.2L361.2,24.3L360.7,25.3L360.2,26.4L359.7,27.5L359.2,28.5L358.7,29.6L358.2,30.6L357.7,31.7L357.1,32.7L356.6,33.7L356.1,34.7L355.5,35.7L354.9,36.7L354.4,37.7L353.8,38.7L353.2,39.6L352.7,40.6L352.1,41.6L351.5,42.5L350.9,43.4L350.3,44.4L349.6,45.3L349.0,46.2L348.4,47.1L347.8,48.0L347.1,48.9L346.5,49.8L345.9,50.7L345.2,51.5L344.5,52.4L343.9,53.2L343.2,54.1L342.5,54.9L341.9,55.8L341.2,56.6L340.5,57.4L339.8,58.2L339.1,59.0L338.4,59.8L337.7,60.6L337.0,61.3L336.3,62.1L335.6,62.8L334.9,63.6L334.1,64.3L333.4,65.1L332.7,65.8L331.9,66.5L331.2,67.2L330.5,67.9L329.7,68.6L329.0,69.3L328.2,70.0L327.4,70.6L326.7,71.3L325.9,71.9L325.2,72.6L324.4,73.2L323.6,73.9L322.8,74.5L322.1,75.1L321.3,75.7L320.5,76.3L319.7,76.9L318.9,77.4L318.1,78.0L317.3,78.6L316.5,79.2L315.7,79.7L314.9,80.3L314.1,80.8L313.3,81.3L312.5,81.9L311.7,82.4L310.9,82.9L310.1,83.4L309.2,83.9L308.4,84.4L307.6,84.9L306.7,85.4L305.9,85.9L305.0,86.4L304.2,86.8L303.4,87.3L302.5,87.8L301.6,88.2L300.8,88.7L299.9,89.1L299.1,89.6L298.2,90.0L297.3,90.5L296.4,90.9L295.5,91.4L294.7,91.8L293.8,92.2L292.9,92.6L292.0,93.1L291.1,93.5L290.2,93.9L289.3,94.3L288.4,94.8L287.4,95.2L286.5,95.6L285.6,96.0L284.7,96.4L283.7,96.8L282.8,97.2L281.8,97.6L280.9,98.0L280.0,98.4L279.0,98.8L278.0,99.2L277.1,99.6L276.1,100.0L275.1,100.4L274.2,100.8L273.2,101.2L272.2,101.6L271.2,102.0L270.2,102.5L269.2,102.9L268.2,103.3L267.2,103.7L266.2,104.1L265.2,104.5L264.2,104.9L263.2,105.3L262.1,105.7L261.1,106.1L260.1,106.5L259.1,106.9L258.0,107.3L257.0,107.7L255.9,108.2L254.9,108.6L253.9,109.0L252.8,109.4L251.8,109.8L250.7,110.2L249.7,110.7L248.6,111.1L247.5,111.5L246.5,111.9L245.4,112.3L244.4,112.8L243.3,113.2L242.2,113.6L241.2,114.0L240.1,114.5L239.0,114.9L238.0,115.3L236.9,115.8L235.8,116.2L234.8,116.6L233.7,117.1L232.6,117.5L231.6,118.0L230.5,118.4L229.4,118.9L228.3,119.3L227.3,119.8L226.2,120.2L225.1,120.7L224.1,121.1L223.0,121.6L221.9,122.0L220.9,122.5L219.8,123.0L218.7,123.4L217.7,123.9L216.6,124.4L215.6,124.9L214.5,125.3L213.5,125.8L212.4,126.3L211.4,126.8L210.3,127.3L209.3,127.8L208.2,128.3L207.2,128.8L206.1,129.3L205.1,129.8L204.1,130.3L203.0,130.8L202.0,131.3L201.0,131.8L200.0,132.3L199.0,132.9L198.0,133.4L196.9,133.9L195.9,134.5L194.9,135.0L193.9,135.5L192.9,136.1L192.0,136.6L191.0,137.2L190.0,137.8L189.0,138.3L188.0,138.9L187.1,139.5L186.1,140.0L185.2,140.6L184.2,141.2L183.3,141.8L182.3,142.4L181.4,143.0L180.5,143.6L179.6,144.2L178.6,144.8L177.7,145.4L176.8,146.0L175.9,146.6L175.0,147.3L174.1,147.9L173.3,148.5L172.4,149.2L171.5,149.8L170.7,150.5L169.8,151.1L169.0,151.8L168.1,152.5L167.3,153.1L166.5,153.8L165.7,154.5L164.9,155.2L164.1,155.9L163.3,156.6L162.5,157.3L161.7,158.0L161.0,158.7L160.2,159.5L159.2,160.4L158.5,161.2L157.8,161.9L157.0,162.7L156.3,163.4L155.6,164.2L154.9,164.9L154.3,165.7L153.6,166.5L152.9,167.3L152.3,168.1L151.7,168.9L151.0,169.7L150.4,170.5L149.8,171.3L149.2,172.1L148.6,172.9L148.0,173.8L147.5,174.6L146.9,175.5L146.4,176.3L145.9,177.2L145.3,178.0L144.8,178.9L144.3,179.8L143.9,180.7L143.4,181.6L142.9,182.5L142.5,183.4L142.0,184.3L141.6,185.2L141.2,186.1L140.8,187.1L140.4,188.0L140.1,189.0L139.7,189.9L139.4,190.9L139.1,191.8L138.7,192.8L138.4,193.8L138.2,194.8L137.9,195.8L137.6,196.8L137.4,197.8L137.2,198.8L137.0,199.8L136.8,200.8L136.6,201.9L136.4,202.9L136.3,203.9L136.1,205.0L136.0,206.0L135.9,207.1L135.8,208.2L135.7,209.2L135.6,210.3L135.6,211.4L135.5,212.4L135.5,213.5L135.5,214.6L135.5,215.7L135.5,216.8L135.5,217.9L135.5,219.0L135.6,220.1L135.6,221.2L135.7,222.3L135.8,223.4L135.9,224.5L136.0,225.6L136.1,226.7L136.2,227.8L136.4,228.9L136.5,230.0L136.7,231.1L136.9,232.2L137.1,233.4L137.3,234.5L137.5,235.6L137.7,236.7L137.9,237.8L138.2,238.9L138.4,240.0L138.7,241.1L139.0,242.3L139.3,243.4L139.5,244.5L139.9,245.6L140.2,246.7L140.5,247.8L140.8,248.9L141.2,250.0L141.5,251.1L141.9,252.2L142.3,253.3L142.6,254.4L143.0,255.5L143.4,256.5L143.8,257.6L144.2,258.7L144.7,259.8L145.1,260.8L145.5,261.9L146.0,263.0L146.4,264.0L146.9,265.1L147.4,266.1L147.9,267.2L148.4,268.2L148.8,269.3L149.3,270.3L149.9,271.3L150.4,272.4L150.9,273.4L151.4,274.4L152.0,275.4L152.5,276.4L153.1,277.4L153.6,278.4L154.2,279.4L154.8,280.4L155.3,281.3L155.9,282.3L156.5,283.3L157.1,284.2L157.7,285.2L158.3,286.1L158.9,287.0L159.5,288.0L160.2,288.9L160.8,289.8L161.4,290.7L162.1,291.6L162.7,292.5L163.4,293.4L164.0,294.3L164.7,295.1L165.4,296.0L166.0,296.9L166.7,297.7L167.4,298.6L168.1,299.5L168.8,300.3L169.5,301.1L170.2,302.0L170.9,302.8L171.6,303.6L172.3,304.4L173.1,305.3L173.8,306.1L174.5,306.9L175.3,307.7L176.0,308.5L176.8,309.3L177.5,310.0L178.3,310.8L179.0,311.6L179.8,312.4L180.6,313.2L181.4,313.9L182.1,314.7L182.9,315.4L183.7,316.2L184.5,316.9L185.3,317.7L186.1,318.4L186.9,319.2L187.7,319.9L188.5,320.6L189.4,321.4L190.2,322.1L191.0,322.8L191.8,323.5L192.7,324.2L193.5,324.9L194.3,325.6L195.2,326.3L196.0,327.0L196.9,327.7L197.7,328.4L198.6,329.1L199.4,329.8L200.3,330.5L201.1,331.2L202.0,331.9L202.8,332.5L203.7,333.2L204.6,333.9L205.5,334.6L206.3,335.2L207.2,335.9L208.1,336.6L209.0,337.2L209.8,337.9L210.7,338.5L211.6,339.2L212.5,339.8L213.4,340.5L214.3,341.1L215.2,341.8L216.0,342.4L216.9,343.1L217.8,343.7L218.7,344.3L219.6,345.0L220.5,345.6L221.4,346.3L222.3,346.9L223.2,347.5L224.1,348.2L225.0,348.8L225.9,349.4L226.8,350.0L227.7,350.7L228.6,351.3L229.5,351.9L230.4,352.5L231.3,353.2L232.2,353.8L233.1,354.4L234.0,355.0L234.9,355.6L235.8,356.3L236.7,356.9L237.6,357.5L238.5,358.1L239.4,358.7L240.3,359.3L241.2,360.0L242.1,360.6L243.0,361.2L243.9,361.8L244.8,362.4L245.7,363.0L246.6,363.7L247.5,364.3L248.4,364.9L249.3,365.5L250.1,366.1L251.0,366.8L251.9,367.4L252.8,368.0L253.7,368.6L254.6,369.2L255.4,369.9L256.3,370.5L257.2,371.1L258.1,371.8L258.9,372.4L260.1,373.2" stroke="#ffd400"/>
<path d="M371.2,1.4L370.9,2.7L370.6,4.0L370.4,5.3L370.1,6.6L369.8,7.9L369.5,9.1L369.2,10.4L368.9,11.6L368.6,12.9L368.2,14.1L367.9,15.3L367.6,16.5L367.2,17.7L366.8,18.8L366.5,20.0L366.1,21.1L365.7,22.3L365.3,23.4L364.9,24.5L364.5,25.6L364.1,26.7L363.7,27.8L363.2,28.9L362.8,30.0L362.3,31.0L361.9,32.1L361.4,33.1L361.0,34.2L360.5,35.2L360.0,36.2L359.5,37.2L359.0,38.2L358.5,39.2L358.0,40.2L357.5,41.1L357.0,42.1L356.4,43.0L355.9,44.0L355.3,44.9L354.8,45.8L354.2,46.7L353.7,47.6L353.1,48.5L352.5,49.4L351.9,50.3L351.3,51.1L350.7,52.0L350.1,52.9L349.5,53.7L348.9,54.5L348.3,55.4L347.6,56.2L347.0,57.0L346.4,57.8L345.7,58.6L345.1,59.4L344.4,60.2L343.7,60.9L343.1,61.7L342.4,62.5L341.7,63.2L341.0,64.0L340.3,64.7L339.6,65.4L338.9,66.2L338.2,66.9L337.4,67.6L336.7,68.3L336.0,69.0L335.2,69.7L334.5,70.4L333.7,71.1L333.0,71.7L332.2,72.4L331.5,73.1L330.7,73.7L329.9,74.4L329.1,75.0L328.4,75.7L327.6,76.3L326.8,76.9L326.0,77.5L325.2,78.2L324.3,78.8L323.5,79.4L322.7,80.0L321.9,80.6L321.1,81.2L320.2,81.7L319.4,82.3L318.5,82.9L317.7,83.5L316.8,84.0L316.0,84.6L315.1,85.1L314.2,85.7L313.4,86.2L312.5,86.8L311.6,87.3L310.7,87.9L309.8,88.4L309.0,88.9L308.1,89.5L307.2,90.0L306.3,90.5L305.3,91.0L304.4,91.5L303.5,92.0L302.6,92.5L301.7,93.0L300.7,93.5L299.8,94.0L298.9,94.5L297.9,95.0L297.0,95.5L296.1,96.0L295.1,96.4L294.2,96.9L293.2,97.4L292.2,97.9L291.3,98.3L290.3,98.8L289.3,99.3L288.4,99.7L287.4,100.2L286.4,100.6L285.4,101.1L284.4,101.6L283.5,102.0L282.5,102.5L281.5,102.9L280.5,103.4L279.5,103.8L278.5,104.2L277.5,104.7L276.5,105.1L275.5,105.6L274.4,106.0L273.4,106.5L272.4,106.9L271.4,107.3L270.4,107.8L269.3,108.2L268.3,108.7L267.3,109.1L266.3,109.5L265.2,110.0L264.2,110.4L263.1,110.8L262.1,111.3L261.1,111.7L260.0,112.1L259.0,112.6L257.9,113.0L256.9,113.5L255.8,113.9L254.8,114.3L253.7,114.8L252.6,115.2L251.6,115.6L250.5,116.1L249.5,116.5L248.4,117.0L247.3,117.4L246.3,117.8L245.2,118.3L244.2,118.7L243.1,119.2L242.0,119.6L241.0,120.1L239.9,120.5L238.8,121.0L237.8,121.4L236.7,121.9L235.6,122.3L234.6,122.8L233.5,123.2L232.5,123.7L231.4,124.1L230.3,124.6L229.3,125.1L228.2,125.5L227.2,126.0L226.1,126.5L225.1,126.9L224.0,127.4L223.0,127.9L221.9,128.3L220.9,128.8L219.8,129.3L218.8,129.8L217.7,130.3L216.7,130.7L215.7,131.2L214.6,131.7L213.6,132.2L212.6,132.7L211.6,133.2L210.5,133.7L209.5,134.2L208.5,134.7L207.5,135.2L206.5,135.7L205.5,136.2L204.5,136.8L203.5,137.3L202.5,137.8L201.5,138.3L200.5,138.9L199.5,139.4L198.5,139.9L197.6,140.5L196.6,141.0L195.6,141.5L194.7,142.1L193.7,142.7L192.8,143.2L191.8,143.8L190.9,144.3L189.9,144.9L189.0,145.5L188.1,146.0L187.2,146.6L186.3,147.2L185.4,147.8L184.4,148.4L183.6,149.0L182.7,149.6L181.8,150.2L180.9,150.8L180.0,151.4L179.2,152.0L178.3,152.7L177.4,153.3L176.6,153.9L175.8,154.5L174.9,155.2L174.1,155.8L173.3,156.5L172.5,157.1L171.7,157.8L170.9,158.5L170.1,159.1L169.3,159.8L168.5,160.5L167.8,161.2L167.0,161.9L166.3,162.6L165.5,163.3L164.6,164.2L163.8,164.9L163.1,165.6L162.4,166.4L161.7,167.1L161.1,167.8L160.4,168.6L159.7,169.3L159.1,170.1L158.4,170.8L157.8,171.6L157.2,172.4L156.5,173.2L155.9,173.9L155.3,174.7L154.7,175.5L154.2,176.3L153.6,177.1L153.0,177.9L152.5,178.8L152.0,179.6L151.4,180.4L150.9,181.3L150.4,182.1L149.9,183.0L149.5,183.8L149.0,184.7L148.5,185.6L148.1,186.4L147.7,187.3L147.3,188.2L146.9,189.1L146.5,190.0L146.1,190.9L145.7,191.8L145.4,192.8L145.0,193.7L144.7,194.6L144.4,195.6L144.1,196.5L143.8,197.5L143.5,198.4L143.2,199.4L143.0,200.4L142.8,201.4L142.5,202.4L142.3,203.4L142.1,204.4L141.9,205.4L141.8,206.4L141.6,207.4L141.5,208.4L141.4,209.5L141.3,210.5L141.2,211.6L141.1,212.6L141.0,213.6L140.9,214.7L140.9,215.8L140.9,216.8L140.8,217.9L140.8,219.0L140.8,220.0L140.8,221.1L140.9,222.2L140.9,223.3L141.0,224.3L141.0,225.4L141.1,226.5L141.2,227.6L141.3,228.7L141.4,229.8L141.6,230.9L141.7,232.0L141.8,233.1L142.0,234.2L142.2,235.3L142.4,236.3L142.5,237.4L142.8,238.5L143.0,239.6L143.2,240.7L143.4,241.8L143.7,242.9L143.9,244.0L144.2,245.1L144.5,246.2L144.8,247.3L145.1,248.4L145.4,249.5L145.7,250.6L146.0,251.7L146.3,252.7L146.7,253.8L147.0,254.9L147.4,256.0L147.8,257.0L148.2,258.1L148.6,259.2L149.0,260.2L149.4,261.3L149.8,262.4L150.2,263.4L150.6,264.5L151.1,265.5L151.5,266.5L152.0,267.6L152.4,268.6L152.9,269.6L153.4,270.7L153.9,271.7L154.4,272.7L154.9,273.7L155.4,274.7L155.9,275.7L156.4,276.7L157.0,277.7L157.5,278.7L158.0,279.6L158.6,280.6L159.2,281.6L159.7,282.5L160.3,283.5L160.9,284.4L161.4,285.4L162.0,286.3L162.6,287.2L163.2,288.1L163.8,289.0L164.5,289.9L165.1,290.8L165.7,291.7L166.3,292.6L167.0,293.5L167.6,294.4L168.3,295.2L168.9,296.1L169.6,296.9L170.2,297.8L170.9,298.6L171.6,299.5L172.2,300.3L172.9,301.1L173.6,302.0L174.3,302.8L175.0,303.6L175.7,304.4L176.4,305.2L177.1,306.0L177.9,306.8L178.6,307.6L179.3,308.4L180.0,309.1L180.8,309.9L181.5,310.7L182.3,311.5L183.0,312.2L183.8,313.0L184.5,313.7L185.3,314.5L186.1,315.2L186.8,316.0L187.6,316.7L188.4,317.5L189.2,318.2L190.0,318.9L190.7,319.7L191.5,320.4L192.3,321.1L193.1,321.8L193.9,322.5L194.8,323.2L195.6,323.9L196.4,324.6L197.2,325.3L198.0,326.0L198.8,326.7L199.7,327.4L200.5,328.1L201.3,328.8L202.2,329.5L203.0,330.1L203.8,330.8L204.7,331.5L205.5,332.2L206.4,332.8L207.2,333.5L208.1,334.2L208.9,334.8L209.8,335.5L210.6,336.1L211.5,336.8L212.4,337.5L213.2,338.1L214.1,338.8L215.0,339.4L215.8,340.0L216.7,340.7L217.6,341.3L218.4,342.0L219.3,342.6L220.2,343.2L221.1,343.9L221.9,344.5L222.8,345.1L223.7,345.8L224.6,346.4L225.4,347.0L226.3,347.7L227.2,348.3L228.1,348.9L229.0,349.5L229.8,350.1L230.7,350.8L231.6,351.4L232.5,352.0L233.4,352.6L234.2,353.2L235.1,353.9L236.0,354.5L236.9,355.1L237.8,355.7L238.6,356.3L239.5,356.9L240.4,357.6L241.3,358.2L242.1,358.8L243.0,359.4L243.9,360.0L244.8,360.6L245.6,361.2L246.5,361.9L247.4,362.5L248.3,363.1L249.1,363.7L250.0,364.3L250.9,364.9L251.7,365.5L252.6,366.2L253.4,366.8L254.3,367.4L255.2,368.0L256.0,368.6L256.9,369.3L257.7,369.9L258.6,370.5L259.4,371.1L260.3,371.8L261.1,372.4L262.2,373.2" stroke="#ff8000"/>
<path d="M374.0,1.6L373.8,2.9L373.6,4.2L373.4,5.5L373.1,6.7L372.8,8.0L372.6,9.2L372.3,10.5L372.0,11.7L371.7,12.9L371.4,14.2L371.1,15.4L370.8,16.5L370.5,17.7L370.2,18.9L369.8,20.1L369.5,21.2L369.1,22.3L368.8,23.5L368.4,24.6L368.0,25.7L367.7,26.8L367.3,27.9L366.9,29.0L366.5,30.0L366.1,31.1L365.6,32.2L365.2,33.2L364.8,34.2L364.3,35.3L363.9,36.3L363.4,37.3L363.0,38.3L362.5,39.3L362.0,40.3L361.5,41.2L361.0,42.2L360.5,43.2L360.0,44.1L359.5,45.1L359.0,46.0L358.5,46.9L358.0,47.8L357.4,48.7L356.9,49.6L356.3,50.5L355.8,51.4L355.2,52.3L354.6,53.1L354.0,54.0L353.5,54.9L352.9,55.7L352.3,56.5L351.7,57.4L351.0,58.2L350.4,59.0L349.8,59.8L349.2,60.6L348.5,61.4L347.9,62.2L347.3,63.0L346.6,63.8L345.9,64.5L345.3,65.3L344.6,66.0L343.9,66.8L343.2,67.5L342.5,68.3L341.8,69.0L341.1,69.7L340.4,70.4L339.7,71.1L339.0,71.8L338.3,72.5L337.6,73.2L336.8,73.9L336.1,74.6L335.3,75.3L334.6,76.0L333.8,76.6L333.1,77.3L332.3,77.9L331.5,78.6L330.7,79.2L330.0,79.9L329.2,80.5L328.4,81.1L327.6,81.7L326.8,82.4L326.0,83.0L325.2,83.6L324.3,84.2L323.5,84.8L322.7,85.4L321.9,86.0L321.0,86.6L320.2,87.1L319.3,87.7L318.5,88.3L317.6,88.9L316.8,89.4L315.9,90.0L315.0,90.5L314.2,91.1L313.3,91.6L312.4,92.2L311.5,92.7L310.6,93.3L309.7,93.8L308.8,94.3L307.9,94.9L307.0,95.4L306.1,95.9L305.2,96.4L304.3,96.9L303.4,97.5L302.4,98.0L301.5,98.5L300.6,99.0L299.6,99.5L298.7,100.0L297.7,100.5L296.8,101.0L295.8,101.5L294.9,102.0L293.9,102.4L293.0,102.9L292.0,103.4L291.0,103.9L290.1,104.4L289.1,104.8L288.1,105.3L287.1,105.8L286.1,106.3L285.1,106.7L284.2,107.2L283.2,107.7L282.2,108.1L281.2,108.6L280.2,109.1L279.1,109.5L278.1,110.0L277.1,110.5L276.1,110.9L275.1,111.4L274.1,111.8L273.0,112.3L272.0,112.7L271.0,113.2L270.0,113.6L268.9,114.1L267.9,114.6L266.8,115.0L265.8,115.5L264.8,115.9L263.7,116.4L262.7,116.8L261.6,117.3L260.6,117.7L259.5,118.2L258.5,118.6L257.4,119.1L256.4,119.5L255.3,120.0L254.3,120.4L253.2,120.9L252.2,121.3L251.1,121.8L250.1,122.2L249.0,122.7L247.9,123.1L246.9,123.6L245.8,124.0L244.8,124.5L243.7,125.0L242.7,125.4L241.6,125.9L240.5,126.3L239.5,126.8L238.4,127.2L237.4,127.7L236.3,128.2L235.3,128.6L234.2,129.1L233.2,129.6L232.1,130.0L231.1,130.5L230.0,131.0L229.0,131.4L228.0,131.9L226.9,132.4L225.9,132.9L224.8,133.3L223.8,133.8L222.8,134.3L221.8,134.8L220.7,135.3L219.7,135.8L218.7,136.2L217.7,136.7L216.6,137.2L215.6,137.7L214.6,138.2L213.6,138.7L212.6,139.2L211.6,139.7L210.6,140.2L209.6,140.8L208.6,141.3L207.7,141.8L206.7,142.3L205.7,142.8L204.7,143.4L203.8,143.9L202.8,144.4L201.8,145.0L200.9,145.5L199.9,146.0L199.0,146.6L198.0,147.1L197.1,147.7L196.2,148.2L195.2,148.8L194.3,149.3L193.4,149.9L192.5,150.5L191.6,151.1L190.7,151.6L189.8,152.2L188.9,152.8L188.0,153.4L187.2,154.0L186.3,154.6L185.4,155.2L184.6,155.8L183.7,156.4L182.9,157.0L182.0,157.6L181.2,158.2L180.4,158.9L179.6,159.5L178.8,160.1L178.0,160.8L177.2,161.4L176.4,162.1L175.6,162.7L174.8,163.4L174.1,164.0L173.3,164.7L172.6,165.4L171.6,166.3L170.8,167.0L170.1,167.7L169.4,168.4L168.7,169.1L168.0,169.8L167.3,170.5L166.7,171.2L166.0,171.9L165.3,172.7L164.7,173.4L164.0,174.1L163.4,174.9L162.8,175.6L162.2,176.4L161.6,177.2L161.0,177.9L160.4,178.7L159.8,179.5L159.3,180.3L158.7,181.1L158.2,181.9L157.6,182.7L157.1,183.5L156.6,184.3L156.1,185.2L155.6,186.0L155.2,186.8L154.7,187.7L154.2,188.5L153.8,189.4L153.4,190.2L153.0,191.1L152.5,192.0L152.2,192.9L151.8,193.8L151.4,194.7L151.0,195.6L150.7,196.5L150.4,197.4L150.1,198.3L149.7,199.3L149.5,200.2L149.2,201.2L148.9,202.1L148.7,203.1L148.4,204.0L148.2,205.0L148.0,206.0L147.8,207.0L147.6,208.0L147.4,209.0L147.2,210.0L147.1,211.0L147.0,212.0L146.8,213.0L146.7,214.0L146.6,215.0L146.5,216.1L146.5,217.1L146.4,218.1L146.3,219.2L146.3,220.2L146.3,221.3L146.3,222.3L146.3,223.4L146.3,224.4L146.3,225.5L146.3,226.6L146.4,227.6L146.4,228.7L146.5,229.8L146.6,230.8L146.7,231.9L146.8,233.0L146.9,234.1L147.0,235.1L147.2,236.2L147.3,237.3L147.5,238.4L147.6,239.4L147.8,240.5L148.0,241.6L148.2,242.7L148.4,243.8L148.6,244.8L148.9,245.9L149.1,247.0L149.4,248.1L149.6,249.2L149.9,250.2L150.2,251.3L150.5,252.4L150.8,253.4L151.1,254.5L151.4,255.6L151.7,256.6L152.1,257.7L152.4,258.8L152.8,259.8L153.2,260.9L153.5,261.9L153.9,263.0L154.3,264.0L154.7,265.1L155.1,266.1L155.6,267.1L156.0,268.2L156.4,269.2L156.9,270.2L157.3,271.2L157.8,272.2L158.3,273.3L158.7,274.3L159.2,275.3L159.7,276.3L160.2,277.2L160.8,278.2L161.3,279.2L161.8,280.2L162.3,281.1L162.9,282.1L163.4,283.1L164.0,284.0L164.6,284.9L165.1,285.9L165.7,286.8L166.3,287.7L166.9,288.6L167.5,289.6L168.1,290.5L168.7,291.4L169.4,292.2L170.0,293.1L170.6,294.0L171.3,294.9L171.9,295.8L172.6,296.6L173.2,297.5L173.9,298.3L174.6,299.2L175.2,300.0L175.9,300.9L176.6,301.7L177.3,302.5L178.0,303.3L178.7,304.2L179.4,305.0L180.1,305.8L180.9,306.6L181.6,307.4L182.3,308.2L183.1,309.0L183.8,309.7L184.6,310.5L185.3,311.3L186.1,312.1L186.8,312.8L187.6,313.6L188.4,314.4L189.1,315.1L189.9,315.9L190.7,316.6L191.5,317.4L192.3,318.1L193.1,318.8L193.9,319.6L194.7,320.3L195.5,321.0L196.3,321.7L197.1,322.4L197.9,323.2L198.7,323.9L199.6,324.6L200.4,325.3L201.2,326.0L202.0,326.7L202.9,327.4L203.7,328.1L204.5,328.8L205.4,329.4L206.2,330.1L207.1,330.8L207.9,331.5L208.8,332.2L209.6,332.8L210.5,333.5L211.3,334.2L212.2,334.8L213.0,335.5L213.9,336.2L214.8,336.8L215.6,337.5L216.5,338.1L217.3,338.8L218.2,339.4L219.1,340.1L219.9,340.7L220.8,341.4L221.7,342.0L222.5,342.6L223.4,343.3L224.3,343.9L225.2,344.6L226.0,345.2L226.9,345.8L227.8,346.4L228.6,347.1L229.5,347.7L230.4,348.3L231.2,349.0L232.1,349.6L233.0,350.2L233.8,350.8L234.7,351.4L235.6,352.1L236.4,352.7L237.3,353.3L238.2,353.9L239.0,354.5L239.9,355.1L240.7,355.7L241.6,356.4L242.5,357.0L243.3,357.6L244.2,358.2L245.0,358.8L245.9,359.4L246.7,360.0L247.5,360.6L248.4,361.2L249.2,361.9L250.1,362.5L250.9,363.1L251.7,363.7L252.5,364.3L253.4,364.9L254.2,365.5L255.0,366.1L255.8,366.7L256.6,367.3L257.4,368.0L258.2,368.6L259.0,369.2L259.8,369.8L260.6,370.4L261.4,371.0L262.2,371.6L263.0,372.2L264.0,373.1" stroke="#ff0505"/>
</g>
<line x1="249.8" x2="309.8" y1="159.1" y2="159.1" stroke="#8205ff" stroke-width="2"/>
<text x="323.3" y="164.4" font-size="15.5" stroke="#000" stroke-width="0.65" textLength="29" lengthAdjust="spacingAndGlyphs">10.5</text>
<text x="360.2" y="164.4" font-size="15.5" stroke="#000" stroke-width="0.85" textLength="26.6" lengthAdjust="spacingAndGlyphs">Gyr</text>
<line x1="249.8" x2="309.8" y1="180.8" y2="180.8" stroke="#0505ff" stroke-width="2"/>
<text x="323.3" y="186.1" font-size="15.5" stroke="#000" stroke-width="0.65" textLength="29" lengthAdjust="spacingAndGlyphs">11.0</text>
<text x="360.2" y="186.1" font-size="15.5" stroke="#000" stroke-width="0.85" textLength="26.6" lengthAdjust="spacingAndGlyphs">Gyr</text>
<line x1="249.8" x2="309.8" y1="202.5" y2="202.5" stroke="#0a85ff" stroke-width="2"/>
<text x="323.3" y="207.8" font-size="15.5" stroke="#000" stroke-width="0.65" textLength="29" lengthAdjust="spacingAndGlyphs">11.5</text>
<text x="360.2" y="207.8" font-size="15.5" stroke="#000" stroke-width="0.85" textLength="26.6" lengthAdjust="spacingAndGlyphs">Gyr</text>
<line x1="249.8" x2="309.8" y1="224.2" y2="224.2" stroke="#05f57a" stroke-width="2"/>
<text x="323.3" y="229.5" font-size="15.5" stroke="#000" stroke-width="0.65" textLength="29" lengthAdjust="spacingAndGlyphs">12.0</text>
<text x="360.2" y="229.5" font-size="15.5" stroke="#000" stroke-width="0.85" textLength="26.6" lengthAdjust="spacingAndGlyphs">Gyr</text>
<line x1="249.8" x2="309.8" y1="245.9" y2="245.9" stroke="#ffd400" stroke-width="2"/>
<text x="323.3" y="251.2" font-size="15.5" stroke="#000" stroke-width="0.65" textLength="29" lengthAdjust="spacingAndGlyphs">12.5</text>
<text x="360.2" y="251.2" font-size="15.5" stroke="#000" stroke-width="0.85" textLength="26.6" lengthAdjust="spacingAndGlyphs">Gyr</text>
<line x1="249.8" x2="309.8" y1="267.6" y2="267.6" stroke="#ff8000" stroke-width="2"/>
<text x="323.3" y="272.9" font-size="15.5" stroke="#000" stroke-width="0.65" textLength="29" lengthAdjust="spacingAndGlyphs">13.0</text>
<text x="360.2" y="272.9" font-size="15.5" stroke="#000" stroke-width="0.85" textLength="26.6" lengthAdjust="spacingAndGlyphs">Gyr</text>
<line x1="249.8" x2="309.8" y1="289.3" y2="289.3" stroke="#ff0505" stroke-width="2"/>
<text x="323.3" y="294.6" font-size="15.5" stroke="#000" stroke-width="0.65" textLength="29" lengthAdjust="spacingAndGlyphs">13.5</text>
<text x="360.2" y="294.6" font-size="15.5" stroke="#000" stroke-width="0.85" textLength="26.6" lengthAdjust="spacingAndGlyphs">Gyr</text>
<rect x="58.7" y="8.4" width="358.6" height="359.3" fill="none" stroke="#000" stroke-width="1.9"/>
<path d="M448.1,367.7v-6.8M448.1,8.4v6.8M468.1,367.7v-6.8M468.1,8.4v6.8M488.2,367.7v-6.8M488.2,8.4v6.8M508.2,367.7v-13.6M508.2,8.4v13.6M528.3,367.7v-6.8M528.3,8.4v6.8M548.4,367.7v-6.8M548.4,8.4v6.8M568.4,367.7v-6.8M568.4,8.4v6.8M588.5,367.7v-6.8M588.5,8.4v6.8M608.6,367.7v-13.6M608.6,8.4v13.6M628.6,367.7v-6.8M628.6,8.4v6.8M648.7,367.7v-6.8M648.7,8.4v6.8M668.7,367.7v-6.8M668.7,8.4v6.8M688.8,367.7v-6.8M688.8,8.4v6.8M708.9,367.7v-13.6M708.9,8.4v13.6M728.9,367.7v-6.8M728.9,8.4v6.8M749.0,367.7v-6.8M749.0,8.4v6.8M769.0,367.7v-6.8M769.0,8.4v6.8M428.0,363.8h6.8M789.1,363.8h-6.8M428.0,347.7h6.8M789.1,347.7h-6.8M428.0,331.5h13.6M789.1,331.5h-13.6M428.0,315.3h6.8M789.1,315.3h-6.8M428.0,299.2h6.8M789.1,299.2h-6.8M428.0,283.0h6.8M789.1,283.0h-6.8M428.0,266.9h6.8M789.1,266.9h-6.8M428.0,250.7h13.6M789.1,250.7h-13.6M428.0,234.5h6.8M789.1,234.5h-6.8M428.0,218.4h6.8M789.1,218.4h-6.8M428.0,202.2h6.8M789.1,202.2h-6.8M428.0,186.1h6.8M789.1,186.1h-6.8M428.0,169.9h13.6M789.1,169.9h-13.6M428.0,153.7h6.8M789.1,153.7h-6.8M428.0,137.6h6.8M789.1,137.6h-6.8M428.0,121.4h6.8M789.1,121.4h-6.8M428.0,105.3h6.8M789.1,105.3h-6.8M428.0,89.1h13.6M789.1,89.1h-13.6M428.0,72.9h6.8M789.1,72.9h-6.8M428.0,56.8h6.8M789.1,56.8h-6.8M428.0,40.6h6.8M789.1,40.6h-6.8M428.0,24.5h6.8M789.1,24.5h-6.8" stroke="#000" stroke-width="1.9" fill="none"/>
<rect x="428.0" y="8.4" width="361.1" height="359.3" fill="none" stroke="#000" stroke-width="1.9"/>
<text x="24.6" y="15.3" font-size="20" stroke="#000" stroke-width="0.3" textLength="22.4" lengthAdjust="spacingAndGlyphs">16</text>
<text x="5.6" y="87.2" font-size="20" stroke="#000" stroke-width="0.3" textLength="41.4" lengthAdjust="spacingAndGlyphs">16.5</text>
<text x="24.6" y="159.0" font-size="20" stroke="#000" stroke-width="0.3" textLength="22.4" lengthAdjust="spacingAndGlyphs">17</text>
<text x="5.6" y="230.9" font-size="20" stroke="#000" stroke-width="0.3" textLength="41.4" lengthAdjust="spacingAndGlyphs">17.5</text>
<text x="24.6" y="302.7" font-size="20" stroke="#000" stroke-width="0.3" textLength="22.4" lengthAdjust="spacingAndGlyphs">18</text>
<text x="5.6" y="374.6" font-size="20" stroke="#000" stroke-width="0.3" textLength="41.4" lengthAdjust="spacingAndGlyphs">18.5</text>
<text x="104.2" y="392.3" font-size="20" stroke="#000" stroke-width="0.3" textLength="28.6" lengthAdjust="spacingAndGlyphs">0.5</text>
<text x="223.7" y="392.3" font-size="20" stroke="#000" stroke-width="0.3" textLength="28.6" lengthAdjust="spacingAndGlyphs">0.6</text>
<text x="343.2" y="392.3" font-size="20" stroke="#000" stroke-width="0.3" textLength="28.6" lengthAdjust="spacingAndGlyphs">0.7</text>
<text x="-0.9" y="195.7" font-size="22" stroke="#000" stroke-width="0.35" textLength="13.6" lengthAdjust="spacingAndGlyphs">K</text>
<text x="12.6" y="201.6" font-size="15" font-weight="bold">s</text>
<text x="205.3" y="417.2" font-size="22" stroke="#000" stroke-width="0.35">J</text>
<rect x="226.8" y="409.6" width="11.6" height="1.7" fill="#000"/>
<text x="251.2" y="417.2" font-size="22" stroke="#000" stroke-width="0.35" textLength="13.2" lengthAdjust="spacingAndGlyphs">K</text>
<text x="264.3" y="423" font-size="15" font-weight="bold">s</text>
<text x="497.4" y="392.8" font-size="20" stroke="#000" stroke-width="0.3" textLength="21.6" lengthAdjust="spacingAndGlyphs">11</text>
<text x="597.8" y="392.8" font-size="20" stroke="#000" stroke-width="0.3" textLength="21.6" lengthAdjust="spacingAndGlyphs">12</text>
<text x="698.1" y="392.8" font-size="20" stroke="#000" stroke-width="0.3" textLength="21.6" lengthAdjust="spacingAndGlyphs">13</text>
<text x="559" y="419.4" font-size="21" stroke="#000" stroke-width="0.2" textLength="99" lengthAdjust="spacingAndGlyphs">Age [Gyr]</text>
<text x="719.3" y="57.7" font-size="21" stroke="#000" stroke-width="0.2" textLength="25.4" lengthAdjust="spacingAndGlyphs">VR</text>
<text transform="translate(805.5,103.7) rotate(-90)" font-size="20" stroke="#000" stroke-width="0.3" textLength="41" lengthAdjust="spacingAndGlyphs">0.04</text>
<text transform="translate(805.5,184.5) rotate(-90)" font-size="20" stroke="#000" stroke-width="0.3" textLength="41" lengthAdjust="spacingAndGlyphs">0.03</text>
<text transform="translate(805.5,265.3) rotate(-90)" font-size="20" stroke="#000" stroke-width="0.3" textLength="41" lengthAdjust="spacingAndGlyphs">0.02</text>
<text transform="translate(805.5,346.1) rotate(-90)" font-size="20" stroke="#000" stroke-width="0.3" textLength="41" lengthAdjust="spacingAndGlyphs">0.01</text>
<text x="811.5" y="195.0" font-size="21" font-style="italic" stroke="#000" stroke-width="0.3" textLength="11.5" lengthAdjust="spacingAndGlyphs">χ</text>
<text x="823" y="192.2" font-size="12" font-weight="bold" textLength="6.6" lengthAdjust="spacingAndGlyphs">2</text>
<path d="M457.8,23.5L507.8,187.4L558.0,277.0L608.4,343.5L658.5,346.9L708.5,291.0L759.1,207.6" fill="none" stroke="#000" stroke-width="2" stroke-dasharray="21 7.7 8.6 7.7"/>
<circle cx="457.8" cy="23.5" r="6.2" fill="#000"/>
<circle cx="507.8" cy="187.4" r="6.2" fill="#000"/>
<circle cx="558.0" cy="277.0" r="6.2" fill="#000"/>
<circle cx="608.4" cy="343.5" r="6.2" fill="#000"/>
<circle cx="658.5" cy="346.9" r="6.2" fill="#000"/>
<circle cx="708.5" cy="291.0" r="6.2" fill="#000"/>
<circle cx="759.1" cy="207.6" r="6.2" fill="#000"/>
</svg></body></html>
